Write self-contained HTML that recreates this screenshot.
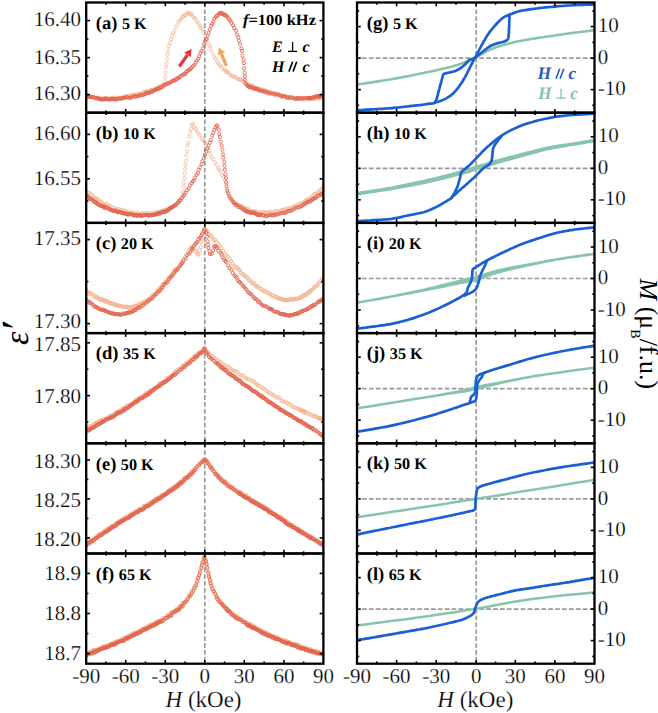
<!DOCTYPE html><html><head><meta charset="utf-8"><style>html,body{margin:0;padding:0;background:#fff;width:658px;height:713px;overflow:hidden}svg{display:block}text{font-family:"Liberation Serif",serif;text-rendering:geometricPrecision}text.th{stroke:#fff;stroke-width:0.22px}</style></head><body>
<svg width="658" height="713" viewBox="0 0 658 713">
<clipPath id="cl0"><rect x="86.2" y="2.5" width="237.2" height="110.2"/></clipPath>
<clipPath id="cr0"><rect x="357.0" y="2.5" width="237.5" height="110.2"/></clipPath>
<clipPath id="cl1"><rect x="86.2" y="112.7" width="237.2" height="110.2"/></clipPath>
<clipPath id="cr1"><rect x="357.0" y="112.7" width="237.5" height="110.2"/></clipPath>
<clipPath id="cl2"><rect x="86.2" y="222.9" width="237.2" height="110.2"/></clipPath>
<clipPath id="cr2"><rect x="357.0" y="222.9" width="237.5" height="110.2"/></clipPath>
<clipPath id="cl3"><rect x="86.2" y="333.1" width="237.2" height="110.2"/></clipPath>
<clipPath id="cr3"><rect x="357.0" y="333.1" width="237.5" height="110.2"/></clipPath>
<clipPath id="cl4"><rect x="86.2" y="443.3" width="237.2" height="110.2"/></clipPath>
<clipPath id="cr4"><rect x="357.0" y="443.3" width="237.5" height="110.2"/></clipPath>
<clipPath id="cl5"><rect x="86.2" y="553.5" width="237.2" height="110.2"/></clipPath>
<clipPath id="cr5"><rect x="357.0" y="553.5" width="237.5" height="110.2"/></clipPath>
<line x1="204.8" y1="2.5" x2="204.8" y2="112.7" stroke="#9a9a9a" stroke-width="1.7" stroke-dasharray="4.7,2.2"/>
<line x1="476.2" y1="2.5" x2="476.2" y2="112.7" stroke="#9a9a9a" stroke-width="1.7" stroke-dasharray="4.7,2.2"/>
<line x1="362.0" y1="58.1" x2="594.5" y2="58.1" stroke="#9a9a9a" stroke-width="1.7" stroke-dasharray="4.7,2.2"/>
<line x1="204.8" y1="112.7" x2="204.8" y2="222.9" stroke="#9a9a9a" stroke-width="1.7" stroke-dasharray="4.7,2.2"/>
<line x1="476.2" y1="112.7" x2="476.2" y2="222.9" stroke="#9a9a9a" stroke-width="1.7" stroke-dasharray="4.7,2.2"/>
<line x1="362.0" y1="168.3" x2="594.5" y2="168.3" stroke="#9a9a9a" stroke-width="1.7" stroke-dasharray="4.7,2.2"/>
<line x1="204.8" y1="222.9" x2="204.8" y2="333.1" stroke="#9a9a9a" stroke-width="1.7" stroke-dasharray="4.7,2.2"/>
<line x1="476.2" y1="222.9" x2="476.2" y2="333.1" stroke="#9a9a9a" stroke-width="1.7" stroke-dasharray="4.7,2.2"/>
<line x1="362.0" y1="278.5" x2="594.5" y2="278.5" stroke="#9a9a9a" stroke-width="1.7" stroke-dasharray="4.7,2.2"/>
<line x1="204.8" y1="333.1" x2="204.8" y2="443.3" stroke="#9a9a9a" stroke-width="1.7" stroke-dasharray="4.7,2.2"/>
<line x1="476.2" y1="333.1" x2="476.2" y2="443.3" stroke="#9a9a9a" stroke-width="1.7" stroke-dasharray="4.7,2.2"/>
<line x1="362.0" y1="388.7" x2="594.5" y2="388.7" stroke="#9a9a9a" stroke-width="1.7" stroke-dasharray="4.7,2.2"/>
<line x1="204.8" y1="443.3" x2="204.8" y2="553.5" stroke="#9a9a9a" stroke-width="1.7" stroke-dasharray="4.7,2.2"/>
<line x1="476.2" y1="443.3" x2="476.2" y2="553.5" stroke="#9a9a9a" stroke-width="1.7" stroke-dasharray="4.7,2.2"/>
<line x1="362.0" y1="498.9" x2="594.5" y2="498.9" stroke="#9a9a9a" stroke-width="1.7" stroke-dasharray="4.7,2.2"/>
<line x1="204.8" y1="553.5" x2="204.8" y2="663.7" stroke="#9a9a9a" stroke-width="1.7" stroke-dasharray="4.7,2.2"/>
<line x1="476.2" y1="553.5" x2="476.2" y2="663.7" stroke="#9a9a9a" stroke-width="1.7" stroke-dasharray="4.7,2.2"/>
<line x1="362.0" y1="609.1" x2="594.5" y2="609.1" stroke="#9a9a9a" stroke-width="1.7" stroke-dasharray="4.7,2.2"/>
<g clip-path="url(#cl0)">
<g fill="none" stroke="#f2b088" stroke-width="0.70">
<circle cx="84.9" cy="94.6" r="1.6"/>
<circle cx="86.8" cy="94.9" r="1.6"/>
<circle cx="88.3" cy="95.6" r="1.6"/>
<circle cx="89.8" cy="96.2" r="1.6"/>
<circle cx="91.8" cy="96.5" r="1.6"/>
<circle cx="93.8" cy="96.4" r="1.6"/>
<circle cx="96.1" cy="97.9" r="1.6"/>
<circle cx="98.0" cy="97.4" r="1.6"/>
<circle cx="100.3" cy="98.7" r="1.6"/>
<circle cx="102.1" cy="98.2" r="1.6"/>
<circle cx="104.0" cy="97.8" r="1.6"/>
<circle cx="105.5" cy="98.3" r="1.6"/>
<circle cx="106.6" cy="98.1" r="1.6"/>
<circle cx="108.2" cy="99.0" r="1.6"/>
<circle cx="109.5" cy="98.7" r="1.6"/>
<circle cx="111.2" cy="98.3" r="1.6"/>
<circle cx="112.6" cy="97.8" r="1.6"/>
<circle cx="113.7" cy="97.9" r="1.6"/>
<circle cx="115.4" cy="98.0" r="1.6"/>
<circle cx="116.7" cy="98.1" r="1.6"/>
<circle cx="118.2" cy="97.5" r="1.6"/>
<circle cx="119.8" cy="97.9" r="1.6"/>
<circle cx="121.0" cy="97.5" r="1.6"/>
<circle cx="122.6" cy="97.6" r="1.6"/>
<circle cx="124.2" cy="96.5" r="1.6"/>
<circle cx="125.7" cy="96.0" r="1.6"/>
<circle cx="126.9" cy="96.6" r="1.6"/>
<circle cx="128.2" cy="95.9" r="1.6"/>
<circle cx="129.6" cy="95.8" r="1.6"/>
<circle cx="131.4" cy="95.4" r="1.6"/>
<circle cx="132.9" cy="94.7" r="1.6"/>
<circle cx="134.3" cy="94.7" r="1.6"/>
<circle cx="135.8" cy="94.2" r="1.6"/>
<circle cx="137.4" cy="94.5" r="1.6"/>
<circle cx="138.7" cy="93.8" r="1.6"/>
<circle cx="140.0" cy="93.5" r="1.6"/>
<circle cx="141.8" cy="93.5" r="1.6"/>
<circle cx="143.4" cy="92.1" r="1.6"/>
<circle cx="144.5" cy="92.3" r="1.6"/>
<circle cx="145.7" cy="91.6" r="1.6"/>
<circle cx="147.1" cy="90.8" r="1.6"/>
<circle cx="148.2" cy="91.3" r="1.6"/>
<circle cx="149.5" cy="90.2" r="1.6"/>
<circle cx="150.9" cy="90.7" r="1.6"/>
<circle cx="151.8" cy="89.7" r="1.6"/>
<circle cx="153.2" cy="90.0" r="1.6"/>
<circle cx="154.4" cy="89.6" r="1.6"/>
<circle cx="155.7" cy="88.4" r="1.6"/>
<circle cx="157.1" cy="88.5" r="1.6"/>
<circle cx="158.7" cy="87.0" r="1.6"/>
<circle cx="159.4" cy="86.6" r="1.6"/>
<circle cx="160.7" cy="86.4" r="1.6"/>
<circle cx="162.0" cy="85.4" r="1.6"/>
<circle cx="163.0" cy="84.6" r="1.6"/>
<circle cx="164.7" cy="81.2" r="1.6"/>
<circle cx="165.5" cy="76.9" r="1.6"/>
<circle cx="165.6" cy="72.5" r="1.6"/>
<circle cx="166.0" cy="67.2" r="1.6"/>
<circle cx="166.6" cy="63.7" r="1.6"/>
<circle cx="167.0" cy="59.4" r="1.6"/>
<circle cx="167.3" cy="54.7" r="1.6"/>
<circle cx="168.0" cy="50.7" r="1.6"/>
<circle cx="168.9" cy="46.2" r="1.6"/>
<circle cx="170.0" cy="42.8" r="1.6"/>
<circle cx="171.1" cy="39.2" r="1.6"/>
<circle cx="172.0" cy="36.0" r="1.6"/>
<circle cx="173.3" cy="33.1" r="1.6"/>
<circle cx="174.4" cy="30.8" r="1.6"/>
<circle cx="176.1" cy="26.9" r="1.6"/>
<circle cx="177.3" cy="24.3" r="1.6"/>
<circle cx="178.7" cy="21.5" r="1.6"/>
<circle cx="180.3" cy="20.7" r="1.6"/>
<circle cx="181.3" cy="18.6" r="1.6"/>
<circle cx="182.2" cy="16.9" r="1.6"/>
<circle cx="183.5" cy="16.1" r="1.6"/>
<circle cx="184.9" cy="14.9" r="1.6"/>
<circle cx="185.7" cy="15.2" r="1.6"/>
<circle cx="187.1" cy="13.3" r="1.6"/>
<circle cx="188.1" cy="12.7" r="1.6"/>
<circle cx="189.2" cy="13.9" r="1.6"/>
<circle cx="190.6" cy="13.8" r="1.6"/>
<circle cx="191.5" cy="14.2" r="1.6"/>
<circle cx="192.7" cy="16.2" r="1.6"/>
<circle cx="194.3" cy="17.9" r="1.6"/>
<circle cx="195.6" cy="19.0" r="1.6"/>
<circle cx="197.2" cy="22.0" r="1.6"/>
<circle cx="198.6" cy="23.7" r="1.6"/>
<circle cx="200.0" cy="25.8" r="1.6"/>
<circle cx="201.1" cy="27.9" r="1.6"/>
<circle cx="202.5" cy="29.5" r="1.6"/>
<circle cx="203.8" cy="32.7" r="1.6"/>
<circle cx="205.4" cy="36.4" r="1.6"/>
<circle cx="207.2" cy="39.4" r="1.6"/>
<circle cx="208.7" cy="44.0" r="1.6"/>
<circle cx="209.9" cy="46.1" r="1.6"/>
<circle cx="210.7" cy="48.9" r="1.6"/>
<circle cx="212.2" cy="52.4" r="1.6"/>
<circle cx="214.0" cy="56.3" r="1.6"/>
<circle cx="215.5" cy="58.4" r="1.6"/>
<circle cx="216.8" cy="61.3" r="1.6"/>
<circle cx="218.0" cy="63.3" r="1.6"/>
<circle cx="219.7" cy="65.1" r="1.6"/>
<circle cx="220.9" cy="66.3" r="1.6"/>
<circle cx="222.1" cy="68.3" r="1.6"/>
<circle cx="223.8" cy="69.8" r="1.6"/>
<circle cx="225.3" cy="70.2" r="1.6"/>
<circle cx="226.1" cy="71.9" r="1.6"/>
<circle cx="227.4" cy="71.7" r="1.6"/>
<circle cx="228.2" cy="72.5" r="1.6"/>
<circle cx="229.7" cy="74.2" r="1.6"/>
<circle cx="230.8" cy="75.4" r="1.6"/>
<circle cx="232.7" cy="76.1" r="1.6"/>
<circle cx="233.8" cy="76.7" r="1.6"/>
<circle cx="235.1" cy="76.6" r="1.6"/>
<circle cx="236.9" cy="78.1" r="1.6"/>
<circle cx="238.0" cy="79.1" r="1.6"/>
<circle cx="239.2" cy="79.6" r="1.6"/>
<circle cx="240.7" cy="79.3" r="1.6"/>
<circle cx="241.6" cy="80.1" r="1.6"/>
<circle cx="242.7" cy="81.2" r="1.6"/>
<circle cx="243.9" cy="81.7" r="1.6"/>
<circle cx="244.9" cy="83.0" r="1.6"/>
<circle cx="246.2" cy="83.1" r="1.6"/>
<circle cx="247.6" cy="84.3" r="1.6"/>
<circle cx="248.9" cy="85.0" r="1.6"/>
<circle cx="250.3" cy="85.1" r="1.6"/>
<circle cx="251.8" cy="85.1" r="1.6"/>
<circle cx="253.2" cy="86.0" r="1.6"/>
<circle cx="254.5" cy="87.5" r="1.6"/>
<circle cx="255.7" cy="87.4" r="1.6"/>
<circle cx="257.0" cy="88.0" r="1.6"/>
<circle cx="257.9" cy="88.3" r="1.6"/>
<circle cx="259.1" cy="89.1" r="1.6"/>
<circle cx="260.0" cy="89.2" r="1.6"/>
<circle cx="261.2" cy="89.1" r="1.6"/>
<circle cx="262.7" cy="89.8" r="1.6"/>
<circle cx="263.7" cy="90.5" r="1.6"/>
<circle cx="265.1" cy="90.4" r="1.6"/>
<circle cx="266.2" cy="90.9" r="1.6"/>
<circle cx="267.4" cy="91.5" r="1.6"/>
<circle cx="268.6" cy="91.7" r="1.6"/>
<circle cx="270.0" cy="92.6" r="1.6"/>
<circle cx="271.5" cy="92.9" r="1.6"/>
<circle cx="273.1" cy="92.5" r="1.6"/>
<circle cx="274.3" cy="93.9" r="1.6"/>
<circle cx="276.0" cy="93.2" r="1.6"/>
<circle cx="277.1" cy="94.1" r="1.6"/>
<circle cx="278.6" cy="94.2" r="1.6"/>
<circle cx="280.2" cy="95.3" r="1.6"/>
<circle cx="282.1" cy="96.0" r="1.6"/>
<circle cx="283.3" cy="96.1" r="1.6"/>
<circle cx="285.1" cy="95.7" r="1.6"/>
<circle cx="286.7" cy="97.2" r="1.6"/>
<circle cx="287.8" cy="97.5" r="1.6"/>
<circle cx="289.4" cy="97.2" r="1.6"/>
<circle cx="291.3" cy="98.0" r="1.6"/>
<circle cx="292.3" cy="97.7" r="1.6"/>
<circle cx="294.0" cy="97.8" r="1.6"/>
<circle cx="295.3" cy="98.0" r="1.6"/>
<circle cx="297.1" cy="97.8" r="1.6"/>
<circle cx="298.5" cy="98.6" r="1.6"/>
<circle cx="299.7" cy="98.6" r="1.6"/>
<circle cx="301.6" cy="98.9" r="1.6"/>
<circle cx="302.8" cy="99.6" r="1.6"/>
<circle cx="304.8" cy="99.6" r="1.6"/>
<circle cx="306.0" cy="98.6" r="1.6"/>
<circle cx="307.6" cy="99.2" r="1.6"/>
<circle cx="309.2" cy="98.2" r="1.6"/>
<circle cx="310.8" cy="99.2" r="1.6"/>
<circle cx="312.5" cy="98.2" r="1.6"/>
<circle cx="313.5" cy="99.0" r="1.6"/>
<circle cx="315.0" cy="98.6" r="1.6"/>
<circle cx="316.0" cy="97.6" r="1.6"/>
<circle cx="317.6" cy="97.9" r="1.6"/>
<circle cx="318.4" cy="98.4" r="1.6"/>
<circle cx="319.9" cy="98.0" r="1.6"/>
<circle cx="320.7" cy="97.9" r="1.6"/>
<circle cx="322.2" cy="97.6" r="1.6"/>
<circle cx="323.7" cy="96.6" r="1.6"/>
<circle cx="325.0" cy="97.2" r="1.6"/>
</g>
<g fill="none" stroke="#e2604a" stroke-width="0.85">
<circle cx="84.9" cy="95.8" r="1.6"/>
<circle cx="86.1" cy="96.1" r="1.6"/>
<circle cx="86.7" cy="96.2" r="1.6"/>
<circle cx="87.8" cy="96.5" r="1.6"/>
<circle cx="89.1" cy="96.9" r="1.6"/>
<circle cx="90.5" cy="97.1" r="1.6"/>
<circle cx="91.6" cy="97.2" r="1.6"/>
<circle cx="92.8" cy="97.2" r="1.6"/>
<circle cx="94.0" cy="97.5" r="1.6"/>
<circle cx="95.5" cy="98.4" r="1.6"/>
<circle cx="96.3" cy="98.4" r="1.6"/>
<circle cx="97.8" cy="98.0" r="1.6"/>
<circle cx="98.8" cy="98.6" r="1.6"/>
<circle cx="99.7" cy="99.3" r="1.6"/>
<circle cx="100.8" cy="98.9" r="1.6"/>
<circle cx="102.1" cy="99.6" r="1.6"/>
<circle cx="103.0" cy="99.4" r="1.6"/>
<circle cx="104.3" cy="99.2" r="1.6"/>
<circle cx="105.2" cy="98.8" r="1.6"/>
<circle cx="106.1" cy="98.6" r="1.6"/>
<circle cx="107.2" cy="99.4" r="1.6"/>
<circle cx="108.4" cy="98.6" r="1.6"/>
<circle cx="109.4" cy="99.6" r="1.6"/>
<circle cx="110.9" cy="99.4" r="1.6"/>
<circle cx="111.6" cy="98.7" r="1.6"/>
<circle cx="112.7" cy="99.0" r="1.6"/>
<circle cx="113.7" cy="99.0" r="1.6"/>
<circle cx="114.8" cy="99.6" r="1.6"/>
<circle cx="116.3" cy="99.0" r="1.6"/>
<circle cx="117.1" cy="99.5" r="1.6"/>
<circle cx="118.3" cy="98.6" r="1.6"/>
<circle cx="119.3" cy="98.5" r="1.6"/>
<circle cx="120.9" cy="98.6" r="1.6"/>
<circle cx="122.0" cy="98.4" r="1.6"/>
<circle cx="123.2" cy="98.0" r="1.6"/>
<circle cx="124.5" cy="98.0" r="1.6"/>
<circle cx="125.8" cy="97.3" r="1.6"/>
<circle cx="127.2" cy="97.4" r="1.6"/>
<circle cx="128.7" cy="97.7" r="1.6"/>
<circle cx="130.1" cy="97.6" r="1.6"/>
<circle cx="131.4" cy="97.7" r="1.6"/>
<circle cx="132.5" cy="96.7" r="1.6"/>
<circle cx="134.1" cy="96.2" r="1.6"/>
<circle cx="135.3" cy="96.6" r="1.6"/>
<circle cx="136.2" cy="96.5" r="1.6"/>
<circle cx="138.0" cy="95.9" r="1.6"/>
<circle cx="139.2" cy="95.8" r="1.6"/>
<circle cx="140.1" cy="95.1" r="1.6"/>
<circle cx="141.6" cy="95.2" r="1.6"/>
<circle cx="143.0" cy="94.8" r="1.6"/>
<circle cx="144.0" cy="94.6" r="1.6"/>
<circle cx="145.2" cy="94.0" r="1.6"/>
<circle cx="146.1" cy="92.7" r="1.6"/>
<circle cx="147.2" cy="92.9" r="1.6"/>
<circle cx="148.2" cy="93.2" r="1.6"/>
<circle cx="149.5" cy="92.6" r="1.6"/>
<circle cx="150.6" cy="92.3" r="1.6"/>
<circle cx="151.6" cy="90.9" r="1.6"/>
<circle cx="152.8" cy="91.6" r="1.6"/>
<circle cx="153.8" cy="90.9" r="1.6"/>
<circle cx="154.9" cy="89.8" r="1.6"/>
<circle cx="156.1" cy="89.5" r="1.6"/>
<circle cx="156.8" cy="89.0" r="1.6"/>
<circle cx="158.2" cy="88.4" r="1.6"/>
<circle cx="159.3" cy="88.9" r="1.6"/>
<circle cx="160.3" cy="87.6" r="1.6"/>
<circle cx="161.4" cy="87.4" r="1.6"/>
<circle cx="162.6" cy="86.7" r="1.6"/>
<circle cx="163.6" cy="85.4" r="1.6"/>
<circle cx="164.5" cy="85.0" r="1.6"/>
<circle cx="165.9" cy="84.5" r="1.6"/>
<circle cx="166.9" cy="83.6" r="1.6"/>
<circle cx="167.7" cy="83.3" r="1.6"/>
<circle cx="169.2" cy="83.4" r="1.6"/>
<circle cx="170.3" cy="82.2" r="1.6"/>
<circle cx="171.3" cy="81.9" r="1.6"/>
<circle cx="172.3" cy="80.8" r="1.6"/>
<circle cx="173.7" cy="80.3" r="1.6"/>
<circle cx="174.8" cy="80.7" r="1.6"/>
<circle cx="175.4" cy="79.4" r="1.6"/>
<circle cx="176.9" cy="79.4" r="1.6"/>
<circle cx="177.8" cy="77.8" r="1.6"/>
<circle cx="178.8" cy="78.0" r="1.6"/>
<circle cx="179.9" cy="76.8" r="1.6"/>
<circle cx="181.0" cy="76.0" r="1.6"/>
<circle cx="182.6" cy="74.7" r="1.6"/>
<circle cx="183.6" cy="74.5" r="1.6"/>
<circle cx="184.7" cy="74.0" r="1.6"/>
<circle cx="185.3" cy="73.6" r="1.6"/>
<circle cx="186.4" cy="71.6" r="1.6"/>
<circle cx="187.1" cy="71.5" r="1.6"/>
<circle cx="188.2" cy="70.5" r="1.6"/>
<circle cx="189.3" cy="69.5" r="1.6"/>
<circle cx="190.5" cy="69.2" r="1.6"/>
<circle cx="191.4" cy="67.9" r="1.6"/>
<circle cx="193.0" cy="65.9" r="1.6"/>
<circle cx="194.4" cy="65.0" r="1.6"/>
<circle cx="195.7" cy="62.6" r="1.6"/>
<circle cx="196.7" cy="60.7" r="1.6"/>
<circle cx="198.3" cy="58.8" r="1.6"/>
<circle cx="199.1" cy="56.3" r="1.6"/>
<circle cx="200.5" cy="53.0" r="1.6"/>
<circle cx="201.6" cy="51.1" r="1.6"/>
<circle cx="202.9" cy="48.3" r="1.6"/>
<circle cx="204.0" cy="44.2" r="1.6"/>
<circle cx="205.2" cy="41.1" r="1.6"/>
<circle cx="206.3" cy="39.0" r="1.6"/>
<circle cx="207.7" cy="35.7" r="1.6"/>
<circle cx="208.6" cy="32.8" r="1.6"/>
<circle cx="209.9" cy="29.4" r="1.6"/>
<circle cx="211.0" cy="25.9" r="1.6"/>
<circle cx="212.1" cy="23.8" r="1.6"/>
<circle cx="213.3" cy="21.7" r="1.6"/>
<circle cx="214.2" cy="18.8" r="1.6"/>
<circle cx="215.7" cy="17.1" r="1.6"/>
<circle cx="216.6" cy="16.0" r="1.6"/>
<circle cx="217.7" cy="15.3" r="1.6"/>
<circle cx="219.1" cy="13.8" r="1.6"/>
<circle cx="219.7" cy="13.2" r="1.6"/>
<circle cx="220.5" cy="13.1" r="1.6"/>
<circle cx="221.2" cy="12.8" r="1.6"/>
<circle cx="222.1" cy="14.1" r="1.6"/>
<circle cx="223.1" cy="13.6" r="1.6"/>
<circle cx="224.3" cy="15.2" r="1.6"/>
<circle cx="225.0" cy="14.7" r="1.6"/>
<circle cx="225.8" cy="15.4" r="1.6"/>
<circle cx="226.8" cy="16.2" r="1.6"/>
<circle cx="227.9" cy="17.6" r="1.6"/>
<circle cx="229.2" cy="19.7" r="1.6"/>
<circle cx="230.5" cy="20.6" r="1.6"/>
<circle cx="231.6" cy="22.9" r="1.6"/>
<circle cx="233.0" cy="25.2" r="1.6"/>
<circle cx="234.2" cy="28.0" r="1.6"/>
<circle cx="236.0" cy="30.8" r="1.6"/>
<circle cx="236.9" cy="34.6" r="1.6"/>
<circle cx="238.3" cy="37.2" r="1.6"/>
<circle cx="239.0" cy="40.6" r="1.6"/>
<circle cx="240.1" cy="44.3" r="1.6"/>
<circle cx="241.4" cy="48.6" r="1.6"/>
<circle cx="242.2" cy="51.1" r="1.6"/>
<circle cx="242.5" cy="55.7" r="1.6"/>
<circle cx="243.5" cy="59.6" r="1.6"/>
<circle cx="243.8" cy="63.2" r="1.6"/>
<circle cx="244.0" cy="68.5" r="1.6"/>
<circle cx="244.6" cy="72.8" r="1.6"/>
<circle cx="245.0" cy="76.3" r="1.6"/>
<circle cx="244.9" cy="79.9" r="1.6"/>
<circle cx="245.7" cy="83.7" r="1.6"/>
<circle cx="246.9" cy="85.0" r="1.6"/>
<circle cx="247.6" cy="85.8" r="1.6"/>
<circle cx="248.5" cy="86.2" r="1.6"/>
<circle cx="249.2" cy="86.9" r="1.6"/>
<circle cx="250.3" cy="87.6" r="1.6"/>
<circle cx="251.7" cy="87.2" r="1.6"/>
<circle cx="252.2" cy="87.5" r="1.6"/>
<circle cx="253.4" cy="88.4" r="1.6"/>
<circle cx="254.0" cy="87.9" r="1.6"/>
<circle cx="255.2" cy="89.0" r="1.6"/>
<circle cx="256.2" cy="88.9" r="1.6"/>
<circle cx="257.4" cy="88.9" r="1.6"/>
<circle cx="258.4" cy="90.0" r="1.6"/>
<circle cx="259.9" cy="90.6" r="1.6"/>
<circle cx="261.1" cy="90.7" r="1.6"/>
<circle cx="262.0" cy="90.8" r="1.6"/>
<circle cx="263.7" cy="91.8" r="1.6"/>
<circle cx="264.6" cy="91.2" r="1.6"/>
<circle cx="266.1" cy="92.5" r="1.6"/>
<circle cx="267.5" cy="92.3" r="1.6"/>
<circle cx="269.1" cy="93.6" r="1.6"/>
<circle cx="270.3" cy="92.7" r="1.6"/>
<circle cx="271.9" cy="93.6" r="1.6"/>
<circle cx="273.6" cy="93.7" r="1.6"/>
<circle cx="275.2" cy="94.8" r="1.6"/>
<circle cx="276.5" cy="94.4" r="1.6"/>
<circle cx="278.3" cy="94.8" r="1.6"/>
<circle cx="279.6" cy="95.0" r="1.6"/>
<circle cx="280.7" cy="96.1" r="1.6"/>
<circle cx="282.2" cy="96.7" r="1.6"/>
<circle cx="283.8" cy="96.0" r="1.6"/>
<circle cx="285.1" cy="96.6" r="1.6"/>
<circle cx="286.8" cy="97.6" r="1.6"/>
<circle cx="287.9" cy="97.1" r="1.6"/>
<circle cx="289.4" cy="98.2" r="1.6"/>
<circle cx="290.8" cy="97.1" r="1.6"/>
<circle cx="292.3" cy="97.8" r="1.6"/>
<circle cx="294.2" cy="98.6" r="1.6"/>
<circle cx="295.5" cy="98.9" r="1.6"/>
<circle cx="297.0" cy="98.1" r="1.6"/>
<circle cx="298.0" cy="99.1" r="1.6"/>
<circle cx="299.7" cy="97.9" r="1.6"/>
<circle cx="301.1" cy="98.4" r="1.6"/>
<circle cx="302.4" cy="98.4" r="1.6"/>
<circle cx="303.8" cy="97.9" r="1.6"/>
<circle cx="305.4" cy="98.3" r="1.6"/>
<circle cx="307.4" cy="97.9" r="1.6"/>
<circle cx="308.2" cy="97.9" r="1.6"/>
<circle cx="308.8" cy="98.7" r="1.6"/>
<circle cx="310.0" cy="98.0" r="1.6"/>
<circle cx="310.5" cy="97.9" r="1.6"/>
<circle cx="311.7" cy="98.4" r="1.6"/>
<circle cx="312.6" cy="97.4" r="1.6"/>
<circle cx="314.1" cy="96.7" r="1.6"/>
<circle cx="314.8" cy="97.6" r="1.6"/>
<circle cx="316.1" cy="96.3" r="1.6"/>
<circle cx="316.7" cy="96.2" r="1.6"/>
<circle cx="318.2" cy="96.2" r="1.6"/>
<circle cx="319.1" cy="96.9" r="1.6"/>
<circle cx="319.8" cy="95.8" r="1.6"/>
<circle cx="321.1" cy="96.1" r="1.6"/>
<circle cx="321.6" cy="96.1" r="1.6"/>
<circle cx="322.4" cy="95.3" r="1.6"/>
<circle cx="323.6" cy="95.7" r="1.6"/>
<circle cx="325.2" cy="95.3" r="1.6"/>
</g>
</g>
<g clip-path="url(#cl1)">
<g fill="none" stroke="#f2b088" stroke-width="0.70">
<circle cx="85.2" cy="189.3" r="1.6"/>
<circle cx="86.1" cy="190.9" r="1.6"/>
<circle cx="87.7" cy="192.6" r="1.6"/>
<circle cx="88.9" cy="192.8" r="1.6"/>
<circle cx="90.4" cy="194.3" r="1.6"/>
<circle cx="92.3" cy="195.1" r="1.6"/>
<circle cx="93.7" cy="197.0" r="1.6"/>
<circle cx="95.1" cy="198.0" r="1.6"/>
<circle cx="96.1" cy="198.3" r="1.6"/>
<circle cx="97.1" cy="199.2" r="1.6"/>
<circle cx="98.6" cy="199.7" r="1.6"/>
<circle cx="99.6" cy="201.5" r="1.6"/>
<circle cx="101.2" cy="201.4" r="1.6"/>
<circle cx="102.3" cy="202.7" r="1.6"/>
<circle cx="103.8" cy="204.0" r="1.6"/>
<circle cx="105.7" cy="204.7" r="1.6"/>
<circle cx="107.0" cy="204.2" r="1.6"/>
<circle cx="108.7" cy="205.6" r="1.6"/>
<circle cx="110.9" cy="206.3" r="1.6"/>
<circle cx="112.6" cy="207.1" r="1.6"/>
<circle cx="114.8" cy="208.2" r="1.6"/>
<circle cx="116.9" cy="209.1" r="1.6"/>
<circle cx="118.8" cy="208.8" r="1.6"/>
<circle cx="120.8" cy="209.6" r="1.6"/>
<circle cx="122.4" cy="210.3" r="1.6"/>
<circle cx="124.4" cy="210.5" r="1.6"/>
<circle cx="125.9" cy="211.0" r="1.6"/>
<circle cx="127.7" cy="212.3" r="1.6"/>
<circle cx="129.7" cy="211.9" r="1.6"/>
<circle cx="131.5" cy="213.1" r="1.6"/>
<circle cx="133.3" cy="212.3" r="1.6"/>
<circle cx="135.3" cy="213.1" r="1.6"/>
<circle cx="137.2" cy="212.5" r="1.6"/>
<circle cx="138.8" cy="213.7" r="1.6"/>
<circle cx="140.8" cy="213.9" r="1.6"/>
<circle cx="142.2" cy="213.1" r="1.6"/>
<circle cx="144.2" cy="213.0" r="1.6"/>
<circle cx="146.6" cy="213.5" r="1.6"/>
<circle cx="148.5" cy="213.1" r="1.6"/>
<circle cx="150.4" cy="213.1" r="1.6"/>
<circle cx="151.9" cy="213.4" r="1.6"/>
<circle cx="154.1" cy="212.3" r="1.6"/>
<circle cx="155.6" cy="212.8" r="1.6"/>
<circle cx="157.1" cy="212.2" r="1.6"/>
<circle cx="158.5" cy="211.7" r="1.6"/>
<circle cx="160.0" cy="212.0" r="1.6"/>
<circle cx="161.6" cy="211.1" r="1.6"/>
<circle cx="162.5" cy="210.9" r="1.6"/>
<circle cx="164.0" cy="210.3" r="1.6"/>
<circle cx="165.0" cy="209.9" r="1.6"/>
<circle cx="166.4" cy="209.9" r="1.6"/>
<circle cx="167.0" cy="208.8" r="1.6"/>
<circle cx="168.3" cy="208.9" r="1.6"/>
<circle cx="169.5" cy="207.7" r="1.6"/>
<circle cx="170.4" cy="208.0" r="1.6"/>
<circle cx="171.6" cy="206.9" r="1.6"/>
<circle cx="172.7" cy="207.3" r="1.6"/>
<circle cx="173.8" cy="206.2" r="1.6"/>
<circle cx="174.9" cy="205.4" r="1.6"/>
<circle cx="176.3" cy="205.5" r="1.6"/>
<circle cx="177.5" cy="203.3" r="1.6"/>
<circle cx="179.0" cy="202.1" r="1.6"/>
<circle cx="180.3" cy="200.4" r="1.6"/>
<circle cx="181.9" cy="196.6" r="1.6"/>
<circle cx="182.7" cy="192.1" r="1.6"/>
<circle cx="183.3" cy="186.5" r="1.6"/>
<circle cx="183.7" cy="182.7" r="1.6"/>
<circle cx="184.5" cy="178.1" r="1.6"/>
<circle cx="184.6" cy="173.6" r="1.6"/>
<circle cx="185.1" cy="169.2" r="1.6"/>
<circle cx="185.3" cy="164.8" r="1.6"/>
<circle cx="186.0" cy="160.6" r="1.6"/>
<circle cx="186.3" cy="155.2" r="1.6"/>
<circle cx="187.3" cy="151.2" r="1.6"/>
<circle cx="187.6" cy="145.5" r="1.6"/>
<circle cx="188.6" cy="142.5" r="1.6"/>
<circle cx="189.2" cy="136.5" r="1.6"/>
<circle cx="190.2" cy="132.6" r="1.6"/>
<circle cx="191.1" cy="129.0" r="1.6"/>
<circle cx="192.1" cy="125.0" r="1.6"/>
<circle cx="193.0" cy="123.7" r="1.6"/>
<circle cx="194.2" cy="127.3" r="1.6"/>
<circle cx="195.7" cy="128.6" r="1.6"/>
<circle cx="196.9" cy="131.1" r="1.6"/>
<circle cx="198.4" cy="133.1" r="1.6"/>
<circle cx="199.7" cy="135.1" r="1.6"/>
<circle cx="201.7" cy="138.3" r="1.6"/>
<circle cx="202.8" cy="140.2" r="1.6"/>
<circle cx="204.5" cy="141.6" r="1.6"/>
<circle cx="206.1" cy="144.3" r="1.6"/>
<circle cx="207.5" cy="147.9" r="1.6"/>
<circle cx="208.9" cy="150.6" r="1.6"/>
<circle cx="210.3" cy="154.0" r="1.6"/>
<circle cx="211.7" cy="156.8" r="1.6"/>
<circle cx="213.2" cy="159.3" r="1.6"/>
<circle cx="214.6" cy="162.4" r="1.6"/>
<circle cx="216.5" cy="164.7" r="1.6"/>
<circle cx="218.1" cy="168.2" r="1.6"/>
<circle cx="219.4" cy="169.8" r="1.6"/>
<circle cx="220.7" cy="171.9" r="1.6"/>
<circle cx="222.1" cy="174.8" r="1.6"/>
<circle cx="223.5" cy="177.5" r="1.6"/>
<circle cx="225.0" cy="179.9" r="1.6"/>
<circle cx="226.2" cy="183.7" r="1.6"/>
<circle cx="227.1" cy="188.7" r="1.6"/>
<circle cx="227.9" cy="191.5" r="1.6"/>
<circle cx="228.9" cy="195.1" r="1.6"/>
<circle cx="230.5" cy="197.3" r="1.6"/>
<circle cx="231.7" cy="200.2" r="1.6"/>
<circle cx="232.9" cy="201.2" r="1.6"/>
<circle cx="234.0" cy="202.7" r="1.6"/>
<circle cx="235.5" cy="203.7" r="1.6"/>
<circle cx="237.2" cy="203.6" r="1.6"/>
<circle cx="238.7" cy="205.7" r="1.6"/>
<circle cx="239.4" cy="205.6" r="1.6"/>
<circle cx="240.9" cy="205.9" r="1.6"/>
<circle cx="242.2" cy="206.7" r="1.6"/>
<circle cx="243.4" cy="207.1" r="1.6"/>
<circle cx="244.5" cy="208.7" r="1.6"/>
<circle cx="245.6" cy="208.3" r="1.6"/>
<circle cx="247.1" cy="208.9" r="1.6"/>
<circle cx="248.2" cy="209.1" r="1.6"/>
<circle cx="249.7" cy="210.6" r="1.6"/>
<circle cx="251.5" cy="211.0" r="1.6"/>
<circle cx="252.7" cy="211.2" r="1.6"/>
<circle cx="254.2" cy="211.2" r="1.6"/>
<circle cx="256.0" cy="211.2" r="1.6"/>
<circle cx="257.7" cy="211.8" r="1.6"/>
<circle cx="259.0" cy="212.4" r="1.6"/>
<circle cx="260.2" cy="212.8" r="1.6"/>
<circle cx="262.0" cy="212.1" r="1.6"/>
<circle cx="263.5" cy="212.0" r="1.6"/>
<circle cx="265.1" cy="212.5" r="1.6"/>
<circle cx="266.2" cy="212.8" r="1.6"/>
<circle cx="267.7" cy="212.0" r="1.6"/>
<circle cx="269.3" cy="211.8" r="1.6"/>
<circle cx="270.8" cy="212.0" r="1.6"/>
<circle cx="272.2" cy="212.9" r="1.6"/>
<circle cx="273.6" cy="212.3" r="1.6"/>
<circle cx="274.9" cy="211.2" r="1.6"/>
<circle cx="276.2" cy="211.2" r="1.6"/>
<circle cx="278.0" cy="211.3" r="1.6"/>
<circle cx="279.4" cy="211.7" r="1.6"/>
<circle cx="280.7" cy="210.4" r="1.6"/>
<circle cx="282.4" cy="209.7" r="1.6"/>
<circle cx="283.5" cy="209.8" r="1.6"/>
<circle cx="285.0" cy="209.4" r="1.6"/>
<circle cx="286.6" cy="209.2" r="1.6"/>
<circle cx="288.2" cy="208.2" r="1.6"/>
<circle cx="289.7" cy="208.1" r="1.6"/>
<circle cx="290.9" cy="208.2" r="1.6"/>
<circle cx="292.5" cy="206.5" r="1.6"/>
<circle cx="293.9" cy="206.6" r="1.6"/>
<circle cx="295.9" cy="206.2" r="1.6"/>
<circle cx="297.1" cy="204.8" r="1.6"/>
<circle cx="298.4" cy="204.6" r="1.6"/>
<circle cx="300.1" cy="203.5" r="1.6"/>
<circle cx="301.6" cy="203.0" r="1.6"/>
<circle cx="303.1" cy="202.7" r="1.6"/>
<circle cx="304.0" cy="202.2" r="1.6"/>
<circle cx="305.1" cy="201.0" r="1.6"/>
<circle cx="306.4" cy="199.9" r="1.6"/>
<circle cx="307.4" cy="199.9" r="1.6"/>
<circle cx="308.4" cy="198.9" r="1.6"/>
<circle cx="310.5" cy="197.2" r="1.6"/>
<circle cx="311.6" cy="196.8" r="1.6"/>
<circle cx="313.3" cy="195.7" r="1.6"/>
<circle cx="314.6" cy="194.2" r="1.6"/>
<circle cx="315.4" cy="193.6" r="1.6"/>
<circle cx="316.5" cy="193.5" r="1.6"/>
<circle cx="318.1" cy="192.3" r="1.6"/>
<circle cx="318.9" cy="191.6" r="1.6"/>
<circle cx="320.5" cy="190.1" r="1.6"/>
<circle cx="321.7" cy="189.2" r="1.6"/>
<circle cx="322.9" cy="187.4" r="1.6"/>
<circle cx="324.2" cy="186.3" r="1.6"/>
</g>
<g fill="none" stroke="#e2604a" stroke-width="0.85">
<circle cx="84.9" cy="195.3" r="1.6"/>
<circle cx="86.0" cy="196.1" r="1.6"/>
<circle cx="87.2" cy="196.2" r="1.6"/>
<circle cx="88.0" cy="197.1" r="1.6"/>
<circle cx="89.1" cy="198.0" r="1.6"/>
<circle cx="89.9" cy="198.9" r="1.6"/>
<circle cx="91.3" cy="199.1" r="1.6"/>
<circle cx="92.3" cy="199.5" r="1.6"/>
<circle cx="93.0" cy="200.5" r="1.6"/>
<circle cx="94.2" cy="202.1" r="1.6"/>
<circle cx="95.1" cy="201.8" r="1.6"/>
<circle cx="96.1" cy="202.4" r="1.6"/>
<circle cx="96.7" cy="203.7" r="1.6"/>
<circle cx="97.8" cy="203.9" r="1.6"/>
<circle cx="98.7" cy="204.9" r="1.6"/>
<circle cx="99.5" cy="205.2" r="1.6"/>
<circle cx="100.6" cy="205.7" r="1.6"/>
<circle cx="101.3" cy="205.9" r="1.6"/>
<circle cx="102.3" cy="205.8" r="1.6"/>
<circle cx="103.0" cy="206.7" r="1.6"/>
<circle cx="103.9" cy="207.5" r="1.6"/>
<circle cx="104.8" cy="206.6" r="1.6"/>
<circle cx="105.7" cy="208.3" r="1.6"/>
<circle cx="106.8" cy="207.5" r="1.6"/>
<circle cx="107.5" cy="207.7" r="1.6"/>
<circle cx="108.8" cy="208.9" r="1.6"/>
<circle cx="109.8" cy="209.4" r="1.6"/>
<circle cx="110.3" cy="209.5" r="1.6"/>
<circle cx="111.4" cy="210.1" r="1.6"/>
<circle cx="112.6" cy="210.5" r="1.6"/>
<circle cx="113.1" cy="210.8" r="1.6"/>
<circle cx="114.5" cy="211.2" r="1.6"/>
<circle cx="114.9" cy="210.5" r="1.6"/>
<circle cx="115.8" cy="210.6" r="1.6"/>
<circle cx="117.2" cy="211.9" r="1.6"/>
<circle cx="117.9" cy="212.2" r="1.6"/>
<circle cx="118.8" cy="211.8" r="1.6"/>
<circle cx="119.5" cy="211.8" r="1.6"/>
<circle cx="120.7" cy="212.2" r="1.6"/>
<circle cx="121.4" cy="212.7" r="1.6"/>
<circle cx="122.1" cy="212.7" r="1.6"/>
<circle cx="123.2" cy="213.5" r="1.6"/>
<circle cx="124.2" cy="213.2" r="1.6"/>
<circle cx="125.4" cy="213.6" r="1.6"/>
<circle cx="126.2" cy="213.9" r="1.6"/>
<circle cx="126.7" cy="213.8" r="1.6"/>
<circle cx="127.8" cy="214.5" r="1.6"/>
<circle cx="128.7" cy="214.5" r="1.6"/>
<circle cx="129.7" cy="214.0" r="1.6"/>
<circle cx="130.8" cy="213.9" r="1.6"/>
<circle cx="131.7" cy="214.2" r="1.6"/>
<circle cx="132.1" cy="214.3" r="1.6"/>
<circle cx="133.5" cy="215.5" r="1.6"/>
<circle cx="134.0" cy="214.9" r="1.6"/>
<circle cx="135.1" cy="215.4" r="1.6"/>
<circle cx="135.9" cy="215.1" r="1.6"/>
<circle cx="136.9" cy="215.6" r="1.6"/>
<circle cx="137.7" cy="215.8" r="1.6"/>
<circle cx="138.7" cy="214.9" r="1.6"/>
<circle cx="139.8" cy="215.3" r="1.6"/>
<circle cx="140.4" cy="215.5" r="1.6"/>
<circle cx="141.3" cy="215.8" r="1.6"/>
<circle cx="142.5" cy="215.8" r="1.6"/>
<circle cx="143.4" cy="215.2" r="1.6"/>
<circle cx="144.2" cy="215.2" r="1.6"/>
<circle cx="145.4" cy="214.8" r="1.6"/>
<circle cx="146.3" cy="214.7" r="1.6"/>
<circle cx="146.8" cy="215.0" r="1.6"/>
<circle cx="148.1" cy="215.3" r="1.6"/>
<circle cx="148.7" cy="215.7" r="1.6"/>
<circle cx="149.6" cy="215.1" r="1.6"/>
<circle cx="150.7" cy="215.4" r="1.6"/>
<circle cx="151.7" cy="215.1" r="1.6"/>
<circle cx="152.4" cy="214.6" r="1.6"/>
<circle cx="153.2" cy="215.2" r="1.6"/>
<circle cx="154.4" cy="214.9" r="1.6"/>
<circle cx="155.1" cy="214.3" r="1.6"/>
<circle cx="156.3" cy="214.3" r="1.6"/>
<circle cx="156.9" cy="214.0" r="1.6"/>
<circle cx="158.2" cy="213.4" r="1.6"/>
<circle cx="158.7" cy="213.3" r="1.6"/>
<circle cx="159.9" cy="213.8" r="1.6"/>
<circle cx="160.5" cy="212.6" r="1.6"/>
<circle cx="161.5" cy="212.5" r="1.6"/>
<circle cx="162.6" cy="212.0" r="1.6"/>
<circle cx="163.4" cy="211.7" r="1.6"/>
<circle cx="164.6" cy="212.1" r="1.6"/>
<circle cx="165.1" cy="212.0" r="1.6"/>
<circle cx="166.0" cy="210.8" r="1.6"/>
<circle cx="167.4" cy="210.9" r="1.6"/>
<circle cx="168.1" cy="209.9" r="1.6"/>
<circle cx="168.8" cy="209.6" r="1.6"/>
<circle cx="169.7" cy="208.4" r="1.6"/>
<circle cx="170.8" cy="207.6" r="1.6"/>
<circle cx="171.7" cy="208.0" r="1.6"/>
<circle cx="172.8" cy="206.9" r="1.6"/>
<circle cx="173.7" cy="206.1" r="1.6"/>
<circle cx="174.3" cy="205.6" r="1.6"/>
<circle cx="175.7" cy="204.7" r="1.6"/>
<circle cx="177.2" cy="203.1" r="1.6"/>
<circle cx="178.2" cy="202.4" r="1.6"/>
<circle cx="179.2" cy="200.5" r="1.6"/>
<circle cx="180.4" cy="200.1" r="1.6"/>
<circle cx="181.9" cy="198.1" r="1.6"/>
<circle cx="183.3" cy="196.2" r="1.6"/>
<circle cx="184.3" cy="194.5" r="1.6"/>
<circle cx="185.6" cy="192.6" r="1.6"/>
<circle cx="186.9" cy="190.2" r="1.6"/>
<circle cx="188.8" cy="188.4" r="1.6"/>
<circle cx="190.1" cy="185.4" r="1.6"/>
<circle cx="191.5" cy="183.3" r="1.6"/>
<circle cx="192.7" cy="181.4" r="1.6"/>
<circle cx="193.9" cy="180.2" r="1.6"/>
<circle cx="194.8" cy="177.8" r="1.6"/>
<circle cx="196.6" cy="174.8" r="1.6"/>
<circle cx="197.8" cy="173.1" r="1.6"/>
<circle cx="198.7" cy="170.0" r="1.6"/>
<circle cx="200.0" cy="167.5" r="1.6"/>
<circle cx="201.6" cy="164.2" r="1.6"/>
<circle cx="202.3" cy="161.3" r="1.6"/>
<circle cx="203.8" cy="158.4" r="1.6"/>
<circle cx="205.0" cy="154.9" r="1.6"/>
<circle cx="206.4" cy="151.4" r="1.6"/>
<circle cx="207.4" cy="148.8" r="1.6"/>
<circle cx="208.4" cy="145.6" r="1.6"/>
<circle cx="209.7" cy="142.7" r="1.6"/>
<circle cx="210.7" cy="140.2" r="1.6"/>
<circle cx="212.2" cy="135.8" r="1.6"/>
<circle cx="213.4" cy="132.9" r="1.6"/>
<circle cx="214.4" cy="129.9" r="1.6"/>
<circle cx="215.7" cy="127.7" r="1.6"/>
<circle cx="216.6" cy="125.5" r="1.6"/>
<circle cx="217.3" cy="125.9" r="1.6"/>
<circle cx="218.9" cy="129.5" r="1.6"/>
<circle cx="219.2" cy="134.0" r="1.6"/>
<circle cx="220.0" cy="137.0" r="1.6"/>
<circle cx="220.6" cy="141.6" r="1.6"/>
<circle cx="221.8" cy="145.5" r="1.6"/>
<circle cx="222.4" cy="149.6" r="1.6"/>
<circle cx="222.9" cy="154.3" r="1.6"/>
<circle cx="223.5" cy="157.6" r="1.6"/>
<circle cx="224.2" cy="161.7" r="1.6"/>
<circle cx="224.4" cy="165.6" r="1.6"/>
<circle cx="224.9" cy="169.8" r="1.6"/>
<circle cx="225.5" cy="174.2" r="1.6"/>
<circle cx="225.9" cy="178.0" r="1.6"/>
<circle cx="226.1" cy="182.4" r="1.6"/>
<circle cx="226.7" cy="186.3" r="1.6"/>
<circle cx="227.2" cy="190.7" r="1.6"/>
<circle cx="228.2" cy="193.4" r="1.6"/>
<circle cx="229.2" cy="196.3" r="1.6"/>
<circle cx="230.5" cy="198.6" r="1.6"/>
<circle cx="231.8" cy="199.8" r="1.6"/>
<circle cx="233.3" cy="202.1" r="1.6"/>
<circle cx="233.8" cy="203.1" r="1.6"/>
<circle cx="235.3" cy="204.1" r="1.6"/>
<circle cx="236.0" cy="205.2" r="1.6"/>
<circle cx="237.5" cy="205.0" r="1.6"/>
<circle cx="238.4" cy="207.3" r="1.6"/>
<circle cx="240.2" cy="207.2" r="1.6"/>
<circle cx="241.3" cy="207.9" r="1.6"/>
<circle cx="242.9" cy="209.6" r="1.6"/>
<circle cx="243.8" cy="209.1" r="1.6"/>
<circle cx="245.0" cy="210.4" r="1.6"/>
<circle cx="245.4" cy="211.0" r="1.6"/>
<circle cx="246.6" cy="211.2" r="1.6"/>
<circle cx="247.6" cy="211.7" r="1.6"/>
<circle cx="248.6" cy="212.0" r="1.6"/>
<circle cx="249.2" cy="212.2" r="1.6"/>
<circle cx="250.4" cy="212.6" r="1.6"/>
<circle cx="251.3" cy="213.1" r="1.6"/>
<circle cx="252.4" cy="212.5" r="1.6"/>
<circle cx="253.2" cy="212.7" r="1.6"/>
<circle cx="254.3" cy="212.8" r="1.6"/>
<circle cx="255.2" cy="213.2" r="1.6"/>
<circle cx="256.2" cy="214.0" r="1.6"/>
<circle cx="257.1" cy="214.7" r="1.6"/>
<circle cx="257.7" cy="214.9" r="1.6"/>
<circle cx="258.8" cy="214.7" r="1.6"/>
<circle cx="259.8" cy="215.3" r="1.6"/>
<circle cx="260.4" cy="214.8" r="1.6"/>
<circle cx="261.6" cy="214.5" r="1.6"/>
<circle cx="262.9" cy="215.5" r="1.6"/>
<circle cx="264.1" cy="215.5" r="1.6"/>
<circle cx="265.9" cy="216.0" r="1.6"/>
<circle cx="267.1" cy="216.1" r="1.6"/>
<circle cx="268.6" cy="215.4" r="1.6"/>
<circle cx="270.3" cy="214.6" r="1.6"/>
<circle cx="271.6" cy="215.3" r="1.6"/>
<circle cx="272.8" cy="215.5" r="1.6"/>
<circle cx="274.2" cy="214.8" r="1.6"/>
<circle cx="275.8" cy="215.0" r="1.6"/>
<circle cx="277.1" cy="214.2" r="1.6"/>
<circle cx="278.6" cy="214.1" r="1.6"/>
<circle cx="280.3" cy="213.4" r="1.6"/>
<circle cx="281.8" cy="213.2" r="1.6"/>
<circle cx="283.1" cy="212.6" r="1.6"/>
<circle cx="284.5" cy="213.2" r="1.6"/>
<circle cx="286.1" cy="212.5" r="1.6"/>
<circle cx="287.3" cy="211.3" r="1.6"/>
<circle cx="288.8" cy="211.2" r="1.6"/>
<circle cx="290.5" cy="211.0" r="1.6"/>
<circle cx="291.6" cy="210.3" r="1.6"/>
<circle cx="293.6" cy="209.4" r="1.6"/>
<circle cx="294.7" cy="208.5" r="1.6"/>
<circle cx="296.2" cy="207.6" r="1.6"/>
<circle cx="298.2" cy="207.5" r="1.6"/>
<circle cx="299.5" cy="207.1" r="1.6"/>
<circle cx="301.0" cy="206.2" r="1.6"/>
<circle cx="302.3" cy="205.5" r="1.6"/>
<circle cx="303.6" cy="204.8" r="1.6"/>
<circle cx="304.8" cy="203.7" r="1.6"/>
<circle cx="306.0" cy="203.4" r="1.6"/>
<circle cx="307.2" cy="202.2" r="1.6"/>
<circle cx="308.0" cy="201.5" r="1.6"/>
<circle cx="309.4" cy="202.1" r="1.6"/>
<circle cx="310.3" cy="200.7" r="1.6"/>
<circle cx="311.4" cy="200.7" r="1.6"/>
<circle cx="312.3" cy="199.3" r="1.6"/>
<circle cx="313.2" cy="198.9" r="1.6"/>
<circle cx="314.3" cy="198.3" r="1.6"/>
<circle cx="315.6" cy="198.3" r="1.6"/>
<circle cx="316.5" cy="197.1" r="1.6"/>
<circle cx="317.7" cy="195.8" r="1.6"/>
<circle cx="319.3" cy="195.6" r="1.6"/>
<circle cx="320.6" cy="194.7" r="1.6"/>
<circle cx="321.3" cy="193.9" r="1.6"/>
<circle cx="322.7" cy="194.1" r="1.6"/>
<circle cx="323.8" cy="192.8" r="1.6"/>
<circle cx="324.3" cy="191.8" r="1.6"/>
</g>
</g>
<g clip-path="url(#cl2)">
<g fill="none" stroke="#f2b088" stroke-width="0.80">
<circle cx="85.1" cy="289.3" r="1.7"/>
<circle cx="85.8" cy="289.7" r="1.7"/>
<circle cx="87.2" cy="291.7" r="1.7"/>
<circle cx="88.4" cy="292.9" r="1.7"/>
<circle cx="89.5" cy="293.6" r="1.7"/>
<circle cx="90.8" cy="293.2" r="1.7"/>
<circle cx="92.4" cy="294.4" r="1.7"/>
<circle cx="93.7" cy="295.2" r="1.7"/>
<circle cx="94.5" cy="296.7" r="1.7"/>
<circle cx="96.0" cy="297.5" r="1.7"/>
<circle cx="97.1" cy="297.0" r="1.7"/>
<circle cx="98.2" cy="298.4" r="1.7"/>
<circle cx="99.2" cy="299.2" r="1.7"/>
<circle cx="100.2" cy="299.7" r="1.7"/>
<circle cx="101.5" cy="298.8" r="1.7"/>
<circle cx="102.2" cy="300.2" r="1.7"/>
<circle cx="103.8" cy="299.8" r="1.7"/>
<circle cx="104.6" cy="301.1" r="1.7"/>
<circle cx="105.6" cy="301.7" r="1.7"/>
<circle cx="106.9" cy="301.0" r="1.7"/>
<circle cx="107.9" cy="302.1" r="1.7"/>
<circle cx="109.1" cy="302.7" r="1.7"/>
<circle cx="110.0" cy="303.2" r="1.7"/>
<circle cx="111.2" cy="303.4" r="1.7"/>
<circle cx="112.4" cy="303.5" r="1.7"/>
<circle cx="113.4" cy="304.3" r="1.7"/>
<circle cx="114.8" cy="304.7" r="1.7"/>
<circle cx="115.7" cy="304.3" r="1.7"/>
<circle cx="116.5" cy="305.6" r="1.7"/>
<circle cx="117.9" cy="305.7" r="1.7"/>
<circle cx="118.8" cy="305.6" r="1.7"/>
<circle cx="120.3" cy="306.2" r="1.7"/>
<circle cx="121.2" cy="305.8" r="1.7"/>
<circle cx="122.2" cy="306.9" r="1.7"/>
<circle cx="123.2" cy="306.8" r="1.7"/>
<circle cx="124.5" cy="307.3" r="1.7"/>
<circle cx="125.7" cy="306.6" r="1.7"/>
<circle cx="126.3" cy="306.7" r="1.7"/>
<circle cx="127.7" cy="307.2" r="1.7"/>
<circle cx="129.0" cy="307.6" r="1.7"/>
<circle cx="129.6" cy="307.5" r="1.7"/>
<circle cx="131.1" cy="307.5" r="1.7"/>
<circle cx="132.0" cy="306.5" r="1.7"/>
<circle cx="133.2" cy="307.1" r="1.7"/>
<circle cx="134.1" cy="307.0" r="1.7"/>
<circle cx="135.0" cy="305.6" r="1.7"/>
<circle cx="136.2" cy="306.2" r="1.7"/>
<circle cx="137.1" cy="305.7" r="1.7"/>
<circle cx="138.7" cy="304.5" r="1.7"/>
<circle cx="139.8" cy="304.5" r="1.7"/>
<circle cx="141.0" cy="303.2" r="1.7"/>
<circle cx="142.3" cy="303.2" r="1.7"/>
<circle cx="144.0" cy="301.9" r="1.7"/>
<circle cx="145.1" cy="301.5" r="1.7"/>
<circle cx="147.0" cy="299.7" r="1.7"/>
<circle cx="148.5" cy="299.5" r="1.7"/>
<circle cx="150.2" cy="297.9" r="1.7"/>
<circle cx="151.4" cy="296.8" r="1.7"/>
<circle cx="152.7" cy="295.1" r="1.7"/>
<circle cx="154.1" cy="294.6" r="1.7"/>
<circle cx="155.6" cy="293.1" r="1.7"/>
<circle cx="156.9" cy="291.7" r="1.7"/>
<circle cx="158.1" cy="289.6" r="1.7"/>
<circle cx="159.8" cy="288.6" r="1.7"/>
<circle cx="160.6" cy="287.5" r="1.7"/>
<circle cx="162.2" cy="285.3" r="1.7"/>
<circle cx="163.4" cy="284.0" r="1.7"/>
<circle cx="164.6" cy="282.0" r="1.7"/>
<circle cx="165.6" cy="281.9" r="1.7"/>
<circle cx="167.3" cy="279.7" r="1.7"/>
<circle cx="168.4" cy="277.9" r="1.7"/>
<circle cx="169.8" cy="276.7" r="1.7"/>
<circle cx="171.2" cy="275.8" r="1.7"/>
<circle cx="172.4" cy="274.6" r="1.7"/>
<circle cx="173.4" cy="271.9" r="1.7"/>
<circle cx="174.7" cy="270.6" r="1.7"/>
<circle cx="175.9" cy="269.0" r="1.7"/>
<circle cx="177.4" cy="268.7" r="1.7"/>
<circle cx="178.6" cy="267.3" r="1.7"/>
<circle cx="180.0" cy="264.5" r="1.7"/>
<circle cx="181.7" cy="262.4" r="1.7"/>
<circle cx="183.2" cy="260.4" r="1.7"/>
<circle cx="185.1" cy="256.9" r="1.7"/>
<circle cx="187.0" cy="254.6" r="1.7"/>
<circle cx="188.6" cy="251.3" r="1.7"/>
<circle cx="189.9" cy="249.1" r="1.7"/>
<circle cx="191.4" cy="249.1" r="1.7"/>
<circle cx="192.0" cy="247.4" r="1.7"/>
<circle cx="193.5" cy="248.7" r="1.7"/>
<circle cx="195.2" cy="251.5" r="1.7"/>
<circle cx="196.4" cy="251.5" r="1.7"/>
<circle cx="197.5" cy="254.0" r="1.7"/>
<circle cx="198.4" cy="254.6" r="1.7"/>
<circle cx="199.8" cy="250.4" r="1.7"/>
<circle cx="201.0" cy="247.2" r="1.7"/>
<circle cx="201.3" cy="242.0" r="1.7"/>
<circle cx="201.7" cy="238.8" r="1.7"/>
<circle cx="202.2" cy="234.8" r="1.7"/>
<circle cx="203.4" cy="231.5" r="1.7"/>
<circle cx="203.9" cy="228.9" r="1.7"/>
<circle cx="204.9" cy="229.3" r="1.7"/>
<circle cx="206.2" cy="230.1" r="1.7"/>
<circle cx="207.7" cy="231.7" r="1.7"/>
<circle cx="208.5" cy="233.9" r="1.7"/>
<circle cx="209.8" cy="235.2" r="1.7"/>
<circle cx="211.4" cy="236.4" r="1.7"/>
<circle cx="212.2" cy="237.2" r="1.7"/>
<circle cx="213.4" cy="239.3" r="1.7"/>
<circle cx="215.1" cy="240.2" r="1.7"/>
<circle cx="216.5" cy="241.8" r="1.7"/>
<circle cx="218.4" cy="244.1" r="1.7"/>
<circle cx="219.9" cy="245.9" r="1.7"/>
<circle cx="221.3" cy="248.0" r="1.7"/>
<circle cx="223.2" cy="251.0" r="1.7"/>
<circle cx="224.5" cy="253.7" r="1.7"/>
<circle cx="226.2" cy="255.2" r="1.7"/>
<circle cx="227.8" cy="257.0" r="1.7"/>
<circle cx="229.8" cy="259.1" r="1.7"/>
<circle cx="231.0" cy="261.2" r="1.7"/>
<circle cx="232.7" cy="263.7" r="1.7"/>
<circle cx="234.2" cy="265.7" r="1.7"/>
<circle cx="235.8" cy="267.5" r="1.7"/>
<circle cx="237.3" cy="267.8" r="1.7"/>
<circle cx="238.4" cy="269.1" r="1.7"/>
<circle cx="239.5" cy="270.3" r="1.7"/>
<circle cx="240.8" cy="272.8" r="1.7"/>
<circle cx="242.4" cy="274.0" r="1.7"/>
<circle cx="243.2" cy="274.5" r="1.7"/>
<circle cx="245.0" cy="275.5" r="1.7"/>
<circle cx="246.2" cy="277.1" r="1.7"/>
<circle cx="247.6" cy="278.0" r="1.7"/>
<circle cx="248.8" cy="279.7" r="1.7"/>
<circle cx="249.8" cy="280.3" r="1.7"/>
<circle cx="251.4" cy="282.2" r="1.7"/>
<circle cx="252.3" cy="283.1" r="1.7"/>
<circle cx="254.0" cy="283.8" r="1.7"/>
<circle cx="255.0" cy="284.6" r="1.7"/>
<circle cx="256.1" cy="286.4" r="1.7"/>
<circle cx="257.6" cy="286.5" r="1.7"/>
<circle cx="258.6" cy="287.2" r="1.7"/>
<circle cx="260.1" cy="288.6" r="1.7"/>
<circle cx="261.3" cy="289.1" r="1.7"/>
<circle cx="262.8" cy="290.6" r="1.7"/>
<circle cx="264.3" cy="291.2" r="1.7"/>
<circle cx="265.4" cy="291.3" r="1.7"/>
<circle cx="267.1" cy="292.7" r="1.7"/>
<circle cx="268.6" cy="293.0" r="1.7"/>
<circle cx="270.2" cy="294.2" r="1.7"/>
<circle cx="271.8" cy="295.7" r="1.7"/>
<circle cx="273.1" cy="295.2" r="1.7"/>
<circle cx="274.8" cy="296.6" r="1.7"/>
<circle cx="276.2" cy="296.9" r="1.7"/>
<circle cx="277.2" cy="298.2" r="1.7"/>
<circle cx="278.6" cy="297.7" r="1.7"/>
<circle cx="279.8" cy="298.7" r="1.7"/>
<circle cx="280.7" cy="298.9" r="1.7"/>
<circle cx="282.1" cy="299.2" r="1.7"/>
<circle cx="282.9" cy="299.7" r="1.7"/>
<circle cx="284.4" cy="300.1" r="1.7"/>
<circle cx="285.1" cy="300.0" r="1.7"/>
<circle cx="286.2" cy="300.1" r="1.7"/>
<circle cx="287.1" cy="300.3" r="1.7"/>
<circle cx="288.6" cy="299.8" r="1.7"/>
<circle cx="289.5" cy="299.8" r="1.7"/>
<circle cx="290.6" cy="299.1" r="1.7"/>
<circle cx="291.9" cy="299.3" r="1.7"/>
<circle cx="292.5" cy="299.1" r="1.7"/>
<circle cx="293.7" cy="300.0" r="1.7"/>
<circle cx="294.6" cy="298.8" r="1.7"/>
<circle cx="296.1" cy="298.8" r="1.7"/>
<circle cx="296.8" cy="299.1" r="1.7"/>
<circle cx="298.2" cy="298.6" r="1.7"/>
<circle cx="299.4" cy="297.7" r="1.7"/>
<circle cx="300.6" cy="298.1" r="1.7"/>
<circle cx="301.2" cy="296.7" r="1.7"/>
<circle cx="302.5" cy="296.6" r="1.7"/>
<circle cx="303.5" cy="295.5" r="1.7"/>
<circle cx="304.7" cy="294.8" r="1.7"/>
<circle cx="305.9" cy="295.0" r="1.7"/>
<circle cx="306.8" cy="293.8" r="1.7"/>
<circle cx="308.2" cy="292.4" r="1.7"/>
<circle cx="309.3" cy="292.7" r="1.7"/>
<circle cx="310.2" cy="291.0" r="1.7"/>
<circle cx="311.5" cy="290.3" r="1.7"/>
<circle cx="312.5" cy="289.8" r="1.7"/>
<circle cx="313.9" cy="287.8" r="1.7"/>
<circle cx="314.8" cy="286.6" r="1.7"/>
<circle cx="316.1" cy="286.3" r="1.7"/>
<circle cx="317.5" cy="284.9" r="1.7"/>
<circle cx="318.6" cy="283.6" r="1.7"/>
<circle cx="319.8" cy="281.5" r="1.7"/>
<circle cx="321.6" cy="280.7" r="1.7"/>
<circle cx="322.5" cy="278.6" r="1.7"/>
<circle cx="324.0" cy="277.1" r="1.7"/>
<circle cx="325.0" cy="275.4" r="1.7"/>
</g>
<g fill="none" stroke="#e2604a" stroke-width="0.85">
<circle cx="85.0" cy="298.8" r="1.6"/>
<circle cx="85.8" cy="299.1" r="1.6"/>
<circle cx="87.2" cy="300.8" r="1.6"/>
<circle cx="88.2" cy="301.4" r="1.6"/>
<circle cx="89.3" cy="302.7" r="1.6"/>
<circle cx="90.6" cy="302.5" r="1.6"/>
<circle cx="91.7" cy="303.8" r="1.6"/>
<circle cx="93.0" cy="304.8" r="1.6"/>
<circle cx="94.2" cy="306.6" r="1.6"/>
<circle cx="95.4" cy="306.4" r="1.6"/>
<circle cx="96.5" cy="307.3" r="1.6"/>
<circle cx="97.8" cy="307.7" r="1.6"/>
<circle cx="98.5" cy="308.7" r="1.6"/>
<circle cx="99.5" cy="309.2" r="1.6"/>
<circle cx="101.1" cy="309.5" r="1.6"/>
<circle cx="101.8" cy="309.9" r="1.6"/>
<circle cx="103.1" cy="309.8" r="1.6"/>
<circle cx="103.9" cy="310.2" r="1.6"/>
<circle cx="105.1" cy="310.9" r="1.6"/>
<circle cx="106.2" cy="311.1" r="1.6"/>
<circle cx="107.2" cy="311.8" r="1.6"/>
<circle cx="108.7" cy="312.3" r="1.6"/>
<circle cx="109.7" cy="312.7" r="1.6"/>
<circle cx="110.6" cy="313.2" r="1.6"/>
<circle cx="111.8" cy="313.3" r="1.6"/>
<circle cx="113.0" cy="313.5" r="1.6"/>
<circle cx="113.9" cy="313.5" r="1.6"/>
<circle cx="114.9" cy="314.1" r="1.6"/>
<circle cx="116.1" cy="314.4" r="1.6"/>
<circle cx="117.0" cy="314.2" r="1.6"/>
<circle cx="118.6" cy="314.1" r="1.6"/>
<circle cx="119.5" cy="314.4" r="1.6"/>
<circle cx="120.4" cy="315.0" r="1.6"/>
<circle cx="121.5" cy="314.6" r="1.6"/>
<circle cx="122.6" cy="313.5" r="1.6"/>
<circle cx="124.1" cy="313.8" r="1.6"/>
<circle cx="124.7" cy="313.5" r="1.6"/>
<circle cx="126.0" cy="313.7" r="1.6"/>
<circle cx="126.9" cy="312.7" r="1.6"/>
<circle cx="128.5" cy="313.1" r="1.6"/>
<circle cx="129.1" cy="312.2" r="1.6"/>
<circle cx="130.3" cy="312.3" r="1.6"/>
<circle cx="131.5" cy="312.1" r="1.6"/>
<circle cx="132.7" cy="311.2" r="1.6"/>
<circle cx="133.6" cy="311.0" r="1.6"/>
<circle cx="134.7" cy="310.1" r="1.6"/>
<circle cx="135.8" cy="309.9" r="1.6"/>
<circle cx="136.9" cy="308.4" r="1.6"/>
<circle cx="138.1" cy="307.6" r="1.6"/>
<circle cx="139.2" cy="307.6" r="1.6"/>
<circle cx="140.3" cy="307.3" r="1.6"/>
<circle cx="141.7" cy="305.7" r="1.6"/>
<circle cx="143.3" cy="305.3" r="1.6"/>
<circle cx="144.7" cy="303.6" r="1.6"/>
<circle cx="146.1" cy="302.7" r="1.6"/>
<circle cx="147.8" cy="301.3" r="1.6"/>
<circle cx="149.1" cy="300.5" r="1.6"/>
<circle cx="150.6" cy="299.0" r="1.6"/>
<circle cx="152.3" cy="298.5" r="1.6"/>
<circle cx="153.6" cy="296.7" r="1.6"/>
<circle cx="154.8" cy="295.2" r="1.6"/>
<circle cx="156.1" cy="294.2" r="1.6"/>
<circle cx="157.7" cy="292.2" r="1.6"/>
<circle cx="159.2" cy="291.1" r="1.6"/>
<circle cx="160.4" cy="290.3" r="1.6"/>
<circle cx="161.7" cy="288.0" r="1.6"/>
<circle cx="162.7" cy="287.5" r="1.6"/>
<circle cx="163.7" cy="284.8" r="1.6"/>
<circle cx="165.2" cy="283.9" r="1.6"/>
<circle cx="166.7" cy="282.7" r="1.6"/>
<circle cx="167.8" cy="281.5" r="1.6"/>
<circle cx="169.0" cy="279.3" r="1.6"/>
<circle cx="170.4" cy="277.6" r="1.6"/>
<circle cx="171.5" cy="276.3" r="1.6"/>
<circle cx="172.8" cy="275.3" r="1.6"/>
<circle cx="174.3" cy="273.1" r="1.6"/>
<circle cx="175.3" cy="271.3" r="1.6"/>
<circle cx="176.7" cy="270.0" r="1.6"/>
<circle cx="178.0" cy="268.9" r="1.6"/>
<circle cx="179.5" cy="266.8" r="1.6"/>
<circle cx="180.4" cy="265.4" r="1.6"/>
<circle cx="181.8" cy="263.5" r="1.6"/>
<circle cx="182.7" cy="262.6" r="1.6"/>
<circle cx="183.6" cy="260.3" r="1.6"/>
<circle cx="185.7" cy="258.7" r="1.6"/>
<circle cx="187.0" cy="255.4" r="1.6"/>
<circle cx="188.9" cy="253.9" r="1.6"/>
<circle cx="190.4" cy="252.0" r="1.6"/>
<circle cx="191.6" cy="249.6" r="1.6"/>
<circle cx="192.3" cy="247.8" r="1.6"/>
<circle cx="193.7" cy="246.4" r="1.6"/>
<circle cx="194.8" cy="244.2" r="1.6"/>
<circle cx="196.2" cy="243.1" r="1.6"/>
<circle cx="197.2" cy="242.0" r="1.6"/>
<circle cx="198.5" cy="239.0" r="1.6"/>
<circle cx="200.0" cy="237.8" r="1.6"/>
<circle cx="201.2" cy="235.8" r="1.6"/>
<circle cx="202.3" cy="233.3" r="1.6"/>
<circle cx="204.1" cy="231.3" r="1.6"/>
<circle cx="204.7" cy="229.6" r="1.6"/>
<circle cx="206.3" cy="232.7" r="1.6"/>
<circle cx="207.0" cy="236.7" r="1.6"/>
<circle cx="207.6" cy="241.3" r="1.6"/>
<circle cx="208.1" cy="244.5" r="1.6"/>
<circle cx="208.4" cy="248.0" r="1.6"/>
<circle cx="209.5" cy="251.3" r="1.6"/>
<circle cx="210.0" cy="254.0" r="1.6"/>
<circle cx="211.8" cy="253.7" r="1.6"/>
<circle cx="213.3" cy="250.4" r="1.6"/>
<circle cx="213.9" cy="246.5" r="1.6"/>
<circle cx="215.2" cy="246.3" r="1.6"/>
<circle cx="216.1" cy="246.7" r="1.6"/>
<circle cx="217.0" cy="247.9" r="1.6"/>
<circle cx="218.5" cy="250.8" r="1.6"/>
<circle cx="220.4" cy="252.6" r="1.6"/>
<circle cx="221.6" cy="254.6" r="1.6"/>
<circle cx="222.5" cy="257.3" r="1.6"/>
<circle cx="224.0" cy="259.3" r="1.6"/>
<circle cx="225.2" cy="260.8" r="1.6"/>
<circle cx="226.2" cy="261.8" r="1.6"/>
<circle cx="228.2" cy="265.4" r="1.6"/>
<circle cx="229.5" cy="268.0" r="1.6"/>
<circle cx="231.3" cy="269.7" r="1.6"/>
<circle cx="232.8" cy="273.1" r="1.6"/>
<circle cx="234.4" cy="275.5" r="1.6"/>
<circle cx="235.4" cy="276.4" r="1.6"/>
<circle cx="236.8" cy="277.7" r="1.6"/>
<circle cx="237.7" cy="280.2" r="1.6"/>
<circle cx="239.0" cy="281.7" r="1.6"/>
<circle cx="240.1" cy="282.3" r="1.6"/>
<circle cx="241.4" cy="283.9" r="1.6"/>
<circle cx="243.0" cy="285.6" r="1.6"/>
<circle cx="244.1" cy="286.8" r="1.6"/>
<circle cx="245.4" cy="288.7" r="1.6"/>
<circle cx="246.6" cy="289.6" r="1.6"/>
<circle cx="247.8" cy="292.1" r="1.6"/>
<circle cx="249.2" cy="292.6" r="1.6"/>
<circle cx="250.4" cy="294.0" r="1.6"/>
<circle cx="251.7" cy="294.9" r="1.6"/>
<circle cx="253.2" cy="296.6" r="1.6"/>
<circle cx="254.2" cy="298.2" r="1.6"/>
<circle cx="255.4" cy="298.8" r="1.6"/>
<circle cx="257.1" cy="299.7" r="1.6"/>
<circle cx="258.1" cy="301.7" r="1.6"/>
<circle cx="259.6" cy="301.8" r="1.6"/>
<circle cx="260.6" cy="303.6" r="1.6"/>
<circle cx="262.0" cy="304.9" r="1.6"/>
<circle cx="263.2" cy="305.8" r="1.6"/>
<circle cx="264.8" cy="305.7" r="1.6"/>
<circle cx="266.2" cy="306.5" r="1.6"/>
<circle cx="267.9" cy="307.5" r="1.6"/>
<circle cx="269.5" cy="308.8" r="1.6"/>
<circle cx="270.0" cy="308.7" r="1.6"/>
<circle cx="270.9" cy="309.0" r="1.6"/>
<circle cx="271.8" cy="309.3" r="1.6"/>
<circle cx="273.1" cy="310.6" r="1.6"/>
<circle cx="274.4" cy="311.5" r="1.6"/>
<circle cx="275.9" cy="312.0" r="1.6"/>
<circle cx="277.4" cy="312.1" r="1.6"/>
<circle cx="278.6" cy="312.3" r="1.6"/>
<circle cx="279.7" cy="313.8" r="1.6"/>
<circle cx="280.9" cy="314.0" r="1.6"/>
<circle cx="281.9" cy="314.2" r="1.6"/>
<circle cx="283.1" cy="314.4" r="1.6"/>
<circle cx="284.1" cy="314.1" r="1.6"/>
<circle cx="285.1" cy="314.6" r="1.6"/>
<circle cx="286.1" cy="315.4" r="1.6"/>
<circle cx="287.2" cy="315.1" r="1.6"/>
<circle cx="288.6" cy="315.7" r="1.6"/>
<circle cx="289.7" cy="315.8" r="1.6"/>
<circle cx="290.3" cy="314.9" r="1.6"/>
<circle cx="291.4" cy="315.3" r="1.6"/>
<circle cx="292.8" cy="314.7" r="1.6"/>
<circle cx="293.8" cy="314.8" r="1.6"/>
<circle cx="295.0" cy="314.0" r="1.6"/>
<circle cx="296.2" cy="313.8" r="1.6"/>
<circle cx="297.1" cy="313.2" r="1.6"/>
<circle cx="297.9" cy="313.8" r="1.6"/>
<circle cx="299.4" cy="313.1" r="1.6"/>
<circle cx="300.1" cy="311.7" r="1.6"/>
<circle cx="301.3" cy="311.5" r="1.6"/>
<circle cx="302.4" cy="311.3" r="1.6"/>
<circle cx="303.4" cy="310.7" r="1.6"/>
<circle cx="304.8" cy="310.0" r="1.6"/>
<circle cx="306.0" cy="310.0" r="1.6"/>
<circle cx="307.1" cy="308.9" r="1.6"/>
<circle cx="308.0" cy="308.9" r="1.6"/>
<circle cx="309.1" cy="307.4" r="1.6"/>
<circle cx="310.4" cy="307.8" r="1.6"/>
<circle cx="311.2" cy="306.1" r="1.6"/>
<circle cx="312.7" cy="306.2" r="1.6"/>
<circle cx="313.5" cy="304.9" r="1.6"/>
<circle cx="314.7" cy="304.9" r="1.6"/>
<circle cx="316.0" cy="304.3" r="1.6"/>
<circle cx="317.5" cy="302.3" r="1.6"/>
<circle cx="318.6" cy="301.9" r="1.6"/>
<circle cx="319.7" cy="301.8" r="1.6"/>
<circle cx="320.4" cy="300.1" r="1.6"/>
<circle cx="321.6" cy="300.0" r="1.6"/>
<circle cx="322.6" cy="299.6" r="1.6"/>
<circle cx="323.5" cy="299.0" r="1.6"/>
<circle cx="324.5" cy="297.5" r="1.6"/>
</g>
</g>
<g clip-path="url(#cl3)">
<g fill="none" stroke="#f2b088" stroke-width="0.80">
<circle cx="84.8" cy="429.7" r="1.7"/>
<circle cx="86.0" cy="428.8" r="1.7"/>
<circle cx="87.7" cy="427.5" r="1.7"/>
<circle cx="89.3" cy="426.5" r="1.7"/>
<circle cx="91.1" cy="426.6" r="1.7"/>
<circle cx="91.8" cy="425.7" r="1.7"/>
<circle cx="93.2" cy="425.3" r="1.7"/>
<circle cx="94.0" cy="424.1" r="1.7"/>
<circle cx="94.8" cy="423.7" r="1.7"/>
<circle cx="96.0" cy="422.9" r="1.7"/>
<circle cx="97.1" cy="422.3" r="1.7"/>
<circle cx="98.3" cy="422.4" r="1.7"/>
<circle cx="99.1" cy="421.3" r="1.7"/>
<circle cx="100.3" cy="421.0" r="1.7"/>
<circle cx="101.5" cy="420.3" r="1.7"/>
<circle cx="102.2" cy="420.5" r="1.7"/>
<circle cx="103.9" cy="419.1" r="1.7"/>
<circle cx="105.8" cy="418.5" r="1.7"/>
<circle cx="107.8" cy="417.5" r="1.7"/>
<circle cx="109.4" cy="416.4" r="1.7"/>
<circle cx="111.5" cy="415.1" r="1.7"/>
<circle cx="113.4" cy="414.7" r="1.7"/>
<circle cx="114.9" cy="413.0" r="1.7"/>
<circle cx="116.9" cy="411.9" r="1.7"/>
<circle cx="118.5" cy="411.0" r="1.7"/>
<circle cx="120.4" cy="410.5" r="1.7"/>
<circle cx="122.4" cy="408.6" r="1.7"/>
<circle cx="124.1" cy="408.0" r="1.7"/>
<circle cx="126.0" cy="406.4" r="1.7"/>
<circle cx="127.6" cy="405.1" r="1.7"/>
<circle cx="130.0" cy="404.9" r="1.7"/>
<circle cx="131.3" cy="403.7" r="1.7"/>
<circle cx="133.6" cy="402.3" r="1.7"/>
<circle cx="134.9" cy="400.9" r="1.7"/>
<circle cx="136.9" cy="399.3" r="1.7"/>
<circle cx="138.8" cy="397.8" r="1.7"/>
<circle cx="140.8" cy="397.5" r="1.7"/>
<circle cx="142.5" cy="396.7" r="1.7"/>
<circle cx="144.4" cy="394.5" r="1.7"/>
<circle cx="146.0" cy="393.1" r="1.7"/>
<circle cx="147.7" cy="392.7" r="1.7"/>
<circle cx="150.0" cy="390.8" r="1.7"/>
<circle cx="151.4" cy="390.0" r="1.7"/>
<circle cx="153.6" cy="389.1" r="1.7"/>
<circle cx="155.1" cy="387.7" r="1.7"/>
<circle cx="157.3" cy="386.3" r="1.7"/>
<circle cx="158.8" cy="384.2" r="1.7"/>
<circle cx="161.0" cy="383.0" r="1.7"/>
<circle cx="162.6" cy="382.0" r="1.7"/>
<circle cx="164.4" cy="381.0" r="1.7"/>
<circle cx="166.3" cy="378.5" r="1.7"/>
<circle cx="168.3" cy="377.9" r="1.7"/>
<circle cx="170.3" cy="376.6" r="1.7"/>
<circle cx="172.1" cy="375.5" r="1.7"/>
<circle cx="173.7" cy="373.6" r="1.7"/>
<circle cx="175.2" cy="372.0" r="1.7"/>
<circle cx="177.1" cy="370.4" r="1.7"/>
<circle cx="178.7" cy="369.2" r="1.7"/>
<circle cx="180.2" cy="369.1" r="1.7"/>
<circle cx="181.5" cy="366.6" r="1.7"/>
<circle cx="183.2" cy="365.6" r="1.7"/>
<circle cx="184.8" cy="364.1" r="1.7"/>
<circle cx="186.3" cy="364.1" r="1.7"/>
<circle cx="187.7" cy="362.4" r="1.7"/>
<circle cx="188.7" cy="361.6" r="1.7"/>
<circle cx="190.2" cy="360.2" r="1.7"/>
<circle cx="191.3" cy="359.2" r="1.7"/>
<circle cx="192.8" cy="358.7" r="1.7"/>
<circle cx="194.2" cy="356.7" r="1.7"/>
<circle cx="195.1" cy="356.1" r="1.7"/>
<circle cx="196.4" cy="355.0" r="1.7"/>
<circle cx="197.4" cy="353.7" r="1.7"/>
<circle cx="198.5" cy="353.3" r="1.7"/>
<circle cx="200.3" cy="352.7" r="1.7"/>
<circle cx="201.5" cy="351.8" r="1.7"/>
<circle cx="202.9" cy="350.2" r="1.7"/>
<circle cx="204.0" cy="348.1" r="1.7"/>
<circle cx="204.8" cy="348.3" r="1.7"/>
<circle cx="205.6" cy="350.7" r="1.7"/>
<circle cx="207.3" cy="352.0" r="1.7"/>
<circle cx="208.1" cy="352.6" r="1.7"/>
<circle cx="209.2" cy="354.5" r="1.7"/>
<circle cx="210.5" cy="354.6" r="1.7"/>
<circle cx="212.5" cy="356.3" r="1.7"/>
<circle cx="213.9" cy="357.9" r="1.7"/>
<circle cx="215.8" cy="359.1" r="1.7"/>
<circle cx="217.7" cy="360.4" r="1.7"/>
<circle cx="219.6" cy="361.6" r="1.7"/>
<circle cx="221.2" cy="362.5" r="1.7"/>
<circle cx="223.4" cy="364.3" r="1.7"/>
<circle cx="224.7" cy="365.8" r="1.7"/>
<circle cx="226.6" cy="365.9" r="1.7"/>
<circle cx="228.6" cy="367.2" r="1.7"/>
<circle cx="230.4" cy="368.7" r="1.7"/>
<circle cx="232.1" cy="369.8" r="1.7"/>
<circle cx="233.9" cy="370.8" r="1.7"/>
<circle cx="236.0" cy="371.3" r="1.7"/>
<circle cx="237.8" cy="372.3" r="1.7"/>
<circle cx="239.6" cy="374.5" r="1.7"/>
<circle cx="241.5" cy="375.4" r="1.7"/>
<circle cx="243.5" cy="375.7" r="1.7"/>
<circle cx="245.4" cy="377.6" r="1.7"/>
<circle cx="246.7" cy="378.8" r="1.7"/>
<circle cx="248.7" cy="379.0" r="1.7"/>
<circle cx="250.9" cy="380.6" r="1.7"/>
<circle cx="252.6" cy="381.1" r="1.7"/>
<circle cx="254.4" cy="382.1" r="1.7"/>
<circle cx="255.9" cy="383.7" r="1.7"/>
<circle cx="257.6" cy="385.1" r="1.7"/>
<circle cx="259.5" cy="385.8" r="1.7"/>
<circle cx="261.6" cy="387.2" r="1.7"/>
<circle cx="263.6" cy="388.6" r="1.7"/>
<circle cx="265.4" cy="389.7" r="1.7"/>
<circle cx="267.3" cy="391.4" r="1.7"/>
<circle cx="268.7" cy="392.4" r="1.7"/>
<circle cx="270.6" cy="393.6" r="1.7"/>
<circle cx="272.6" cy="394.9" r="1.7"/>
<circle cx="274.1" cy="395.5" r="1.7"/>
<circle cx="276.3" cy="397.4" r="1.7"/>
<circle cx="278.1" cy="397.3" r="1.7"/>
<circle cx="279.9" cy="398.4" r="1.7"/>
<circle cx="281.7" cy="400.5" r="1.7"/>
<circle cx="283.3" cy="401.7" r="1.7"/>
<circle cx="285.4" cy="401.8" r="1.7"/>
<circle cx="286.9" cy="403.1" r="1.7"/>
<circle cx="289.1" cy="404.3" r="1.7"/>
<circle cx="290.5" cy="404.5" r="1.7"/>
<circle cx="292.3" cy="406.5" r="1.7"/>
<circle cx="294.2" cy="407.2" r="1.7"/>
<circle cx="296.1" cy="408.3" r="1.7"/>
<circle cx="298.0" cy="408.4" r="1.7"/>
<circle cx="299.2" cy="409.4" r="1.7"/>
<circle cx="300.1" cy="410.3" r="1.7"/>
<circle cx="301.2" cy="409.6" r="1.7"/>
<circle cx="301.8" cy="410.2" r="1.7"/>
<circle cx="302.9" cy="411.7" r="1.7"/>
<circle cx="304.0" cy="411.0" r="1.7"/>
<circle cx="304.6" cy="412.5" r="1.7"/>
<circle cx="305.9" cy="412.3" r="1.7"/>
<circle cx="306.7" cy="412.4" r="1.7"/>
<circle cx="308.8" cy="413.6" r="1.7"/>
<circle cx="310.6" cy="414.6" r="1.7"/>
<circle cx="311.8" cy="415.0" r="1.7"/>
<circle cx="313.5" cy="416.4" r="1.7"/>
<circle cx="315.2" cy="415.9" r="1.7"/>
<circle cx="316.3" cy="416.9" r="1.7"/>
<circle cx="317.8" cy="417.7" r="1.7"/>
<circle cx="319.0" cy="417.9" r="1.7"/>
<circle cx="320.0" cy="418.6" r="1.7"/>
<circle cx="321.3" cy="418.2" r="1.7"/>
<circle cx="322.4" cy="419.9" r="1.7"/>
<circle cx="323.4" cy="419.2" r="1.7"/>
<circle cx="324.8" cy="419.8" r="1.7"/>
</g>
<g fill="none" stroke="#e2604a" stroke-width="0.85">
<circle cx="84.9" cy="432.0" r="1.6"/>
<circle cx="85.9" cy="431.5" r="1.6"/>
<circle cx="87.5" cy="431.2" r="1.6"/>
<circle cx="88.5" cy="429.5" r="1.6"/>
<circle cx="89.2" cy="430.0" r="1.6"/>
<circle cx="90.2" cy="429.5" r="1.6"/>
<circle cx="91.0" cy="428.8" r="1.6"/>
<circle cx="91.9" cy="427.8" r="1.6"/>
<circle cx="93.1" cy="428.0" r="1.6"/>
<circle cx="94.2" cy="427.2" r="1.6"/>
<circle cx="94.9" cy="426.7" r="1.6"/>
<circle cx="96.2" cy="425.7" r="1.6"/>
<circle cx="97.2" cy="424.9" r="1.6"/>
<circle cx="98.2" cy="424.4" r="1.6"/>
<circle cx="99.0" cy="423.7" r="1.6"/>
<circle cx="100.2" cy="424.0" r="1.6"/>
<circle cx="101.3" cy="422.6" r="1.6"/>
<circle cx="102.1" cy="421.9" r="1.6"/>
<circle cx="103.1" cy="421.2" r="1.6"/>
<circle cx="103.8" cy="421.7" r="1.6"/>
<circle cx="105.0" cy="420.6" r="1.6"/>
<circle cx="106.0" cy="419.9" r="1.6"/>
<circle cx="106.7" cy="419.1" r="1.6"/>
<circle cx="107.7" cy="418.9" r="1.6"/>
<circle cx="108.8" cy="418.8" r="1.6"/>
<circle cx="109.8" cy="418.0" r="1.6"/>
<circle cx="110.8" cy="417.8" r="1.6"/>
<circle cx="111.2" cy="416.7" r="1.6"/>
<circle cx="112.4" cy="417.4" r="1.6"/>
<circle cx="113.2" cy="416.6" r="1.6"/>
<circle cx="114.1" cy="416.2" r="1.6"/>
<circle cx="114.9" cy="415.2" r="1.6"/>
<circle cx="116.2" cy="414.4" r="1.6"/>
<circle cx="116.8" cy="413.5" r="1.6"/>
<circle cx="117.7" cy="413.3" r="1.6"/>
<circle cx="118.9" cy="412.7" r="1.6"/>
<circle cx="119.6" cy="412.2" r="1.6"/>
<circle cx="120.6" cy="412.6" r="1.6"/>
<circle cx="121.6" cy="411.1" r="1.6"/>
<circle cx="122.5" cy="411.6" r="1.6"/>
<circle cx="123.4" cy="409.8" r="1.6"/>
<circle cx="124.4" cy="410.3" r="1.6"/>
<circle cx="125.1" cy="408.7" r="1.6"/>
<circle cx="125.9" cy="408.7" r="1.6"/>
<circle cx="127.2" cy="408.3" r="1.6"/>
<circle cx="128.1" cy="407.1" r="1.6"/>
<circle cx="128.7" cy="407.2" r="1.6"/>
<circle cx="129.8" cy="406.2" r="1.6"/>
<circle cx="130.7" cy="405.5" r="1.6"/>
<circle cx="131.3" cy="405.0" r="1.6"/>
<circle cx="132.2" cy="404.7" r="1.6"/>
<circle cx="133.2" cy="403.9" r="1.6"/>
<circle cx="134.3" cy="402.9" r="1.6"/>
<circle cx="135.1" cy="402.0" r="1.6"/>
<circle cx="136.3" cy="402.1" r="1.6"/>
<circle cx="137.2" cy="400.8" r="1.6"/>
<circle cx="137.9" cy="401.1" r="1.6"/>
<circle cx="138.7" cy="399.6" r="1.6"/>
<circle cx="139.5" cy="399.1" r="1.6"/>
<circle cx="140.8" cy="398.4" r="1.6"/>
<circle cx="141.7" cy="398.3" r="1.6"/>
<circle cx="142.5" cy="397.9" r="1.6"/>
<circle cx="143.4" cy="397.3" r="1.6"/>
<circle cx="144.3" cy="396.3" r="1.6"/>
<circle cx="145.3" cy="395.5" r="1.6"/>
<circle cx="146.2" cy="395.6" r="1.6"/>
<circle cx="147.2" cy="394.4" r="1.6"/>
<circle cx="148.1" cy="394.7" r="1.6"/>
<circle cx="148.8" cy="393.1" r="1.6"/>
<circle cx="149.8" cy="393.3" r="1.6"/>
<circle cx="150.5" cy="391.4" r="1.6"/>
<circle cx="151.6" cy="391.7" r="1.6"/>
<circle cx="152.7" cy="390.6" r="1.6"/>
<circle cx="153.7" cy="389.8" r="1.6"/>
<circle cx="154.5" cy="388.9" r="1.6"/>
<circle cx="155.0" cy="388.4" r="1.6"/>
<circle cx="155.9" cy="388.2" r="1.6"/>
<circle cx="157.1" cy="387.1" r="1.6"/>
<circle cx="158.2" cy="386.7" r="1.6"/>
<circle cx="158.7" cy="385.8" r="1.6"/>
<circle cx="160.0" cy="386.2" r="1.6"/>
<circle cx="160.6" cy="384.2" r="1.6"/>
<circle cx="161.9" cy="383.8" r="1.6"/>
<circle cx="162.9" cy="383.5" r="1.6"/>
<circle cx="163.7" cy="382.6" r="1.6"/>
<circle cx="164.7" cy="382.1" r="1.6"/>
<circle cx="165.4" cy="382.0" r="1.6"/>
<circle cx="166.2" cy="381.0" r="1.6"/>
<circle cx="167.1" cy="380.2" r="1.6"/>
<circle cx="168.2" cy="379.8" r="1.6"/>
<circle cx="168.9" cy="378.7" r="1.6"/>
<circle cx="170.0" cy="378.5" r="1.6"/>
<circle cx="171.3" cy="377.4" r="1.6"/>
<circle cx="171.8" cy="376.2" r="1.6"/>
<circle cx="172.7" cy="375.7" r="1.6"/>
<circle cx="173.5" cy="374.8" r="1.6"/>
<circle cx="174.7" cy="374.7" r="1.6"/>
<circle cx="175.3" cy="374.5" r="1.6"/>
<circle cx="176.9" cy="372.7" r="1.6"/>
<circle cx="178.4" cy="371.8" r="1.6"/>
<circle cx="180.4" cy="369.7" r="1.6"/>
<circle cx="181.9" cy="369.2" r="1.6"/>
<circle cx="183.1" cy="367.3" r="1.6"/>
<circle cx="184.7" cy="366.9" r="1.6"/>
<circle cx="185.9" cy="365.4" r="1.6"/>
<circle cx="187.5" cy="364.0" r="1.6"/>
<circle cx="188.9" cy="363.5" r="1.6"/>
<circle cx="190.0" cy="362.4" r="1.6"/>
<circle cx="191.4" cy="361.2" r="1.6"/>
<circle cx="192.9" cy="359.3" r="1.6"/>
<circle cx="194.2" cy="359.4" r="1.6"/>
<circle cx="195.1" cy="357.0" r="1.6"/>
<circle cx="196.2" cy="357.3" r="1.6"/>
<circle cx="197.3" cy="356.3" r="1.6"/>
<circle cx="198.4" cy="355.1" r="1.6"/>
<circle cx="199.4" cy="353.5" r="1.6"/>
<circle cx="200.6" cy="352.6" r="1.6"/>
<circle cx="201.6" cy="352.8" r="1.6"/>
<circle cx="202.9" cy="351.7" r="1.6"/>
<circle cx="204.2" cy="349.0" r="1.6"/>
<circle cx="204.6" cy="350.0" r="1.6"/>
<circle cx="205.5" cy="351.3" r="1.6"/>
<circle cx="206.6" cy="353.2" r="1.6"/>
<circle cx="208.0" cy="354.5" r="1.6"/>
<circle cx="209.1" cy="357.0" r="1.6"/>
<circle cx="210.7" cy="358.2" r="1.6"/>
<circle cx="212.2" cy="359.2" r="1.6"/>
<circle cx="213.9" cy="360.7" r="1.6"/>
<circle cx="215.7" cy="362.7" r="1.6"/>
<circle cx="216.6" cy="363.6" r="1.6"/>
<circle cx="217.8" cy="363.5" r="1.6"/>
<circle cx="218.6" cy="364.9" r="1.6"/>
<circle cx="219.8" cy="365.5" r="1.6"/>
<circle cx="220.4" cy="367.1" r="1.6"/>
<circle cx="221.6" cy="367.5" r="1.6"/>
<circle cx="222.2" cy="367.5" r="1.6"/>
<circle cx="223.1" cy="368.1" r="1.6"/>
<circle cx="223.8" cy="369.4" r="1.6"/>
<circle cx="224.9" cy="370.2" r="1.6"/>
<circle cx="225.8" cy="370.1" r="1.6"/>
<circle cx="226.8" cy="371.7" r="1.6"/>
<circle cx="227.7" cy="372.3" r="1.6"/>
<circle cx="228.6" cy="373.6" r="1.6"/>
<circle cx="229.7" cy="373.9" r="1.6"/>
<circle cx="230.3" cy="374.0" r="1.6"/>
<circle cx="231.3" cy="375.6" r="1.6"/>
<circle cx="232.2" cy="375.5" r="1.6"/>
<circle cx="233.1" cy="375.9" r="1.6"/>
<circle cx="234.4" cy="376.3" r="1.6"/>
<circle cx="235.1" cy="378.3" r="1.6"/>
<circle cx="235.8" cy="378.5" r="1.6"/>
<circle cx="236.8" cy="378.7" r="1.6"/>
<circle cx="237.6" cy="379.2" r="1.6"/>
<circle cx="238.9" cy="380.8" r="1.6"/>
<circle cx="239.9" cy="380.4" r="1.6"/>
<circle cx="240.7" cy="381.5" r="1.6"/>
<circle cx="241.6" cy="382.5" r="1.6"/>
<circle cx="242.3" cy="383.7" r="1.6"/>
<circle cx="243.0" cy="384.1" r="1.6"/>
<circle cx="244.4" cy="384.4" r="1.6"/>
<circle cx="245.2" cy="385.7" r="1.6"/>
<circle cx="245.9" cy="385.8" r="1.6"/>
<circle cx="247.1" cy="386.1" r="1.6"/>
<circle cx="248.0" cy="386.8" r="1.6"/>
<circle cx="248.8" cy="387.7" r="1.6"/>
<circle cx="249.8" cy="388.0" r="1.6"/>
<circle cx="250.7" cy="388.9" r="1.6"/>
<circle cx="251.4" cy="389.6" r="1.6"/>
<circle cx="252.3" cy="390.7" r="1.6"/>
<circle cx="253.3" cy="391.1" r="1.6"/>
<circle cx="254.2" cy="391.4" r="1.6"/>
<circle cx="255.0" cy="391.5" r="1.6"/>
<circle cx="256.3" cy="392.7" r="1.6"/>
<circle cx="257.0" cy="393.3" r="1.6"/>
<circle cx="258.1" cy="393.6" r="1.6"/>
<circle cx="258.6" cy="395.0" r="1.6"/>
<circle cx="259.7" cy="395.4" r="1.6"/>
<circle cx="260.8" cy="396.4" r="1.6"/>
<circle cx="261.7" cy="395.8" r="1.6"/>
<circle cx="262.4" cy="397.6" r="1.6"/>
<circle cx="263.5" cy="397.3" r="1.6"/>
<circle cx="264.1" cy="398.1" r="1.6"/>
<circle cx="265.0" cy="398.9" r="1.6"/>
<circle cx="266.3" cy="399.8" r="1.6"/>
<circle cx="267.0" cy="399.8" r="1.6"/>
<circle cx="267.9" cy="401.8" r="1.6"/>
<circle cx="269.0" cy="401.6" r="1.6"/>
<circle cx="269.8" cy="402.8" r="1.6"/>
<circle cx="270.8" cy="402.5" r="1.6"/>
<circle cx="271.7" cy="403.5" r="1.6"/>
<circle cx="272.5" cy="403.9" r="1.6"/>
<circle cx="273.4" cy="404.7" r="1.6"/>
<circle cx="274.3" cy="404.9" r="1.6"/>
<circle cx="275.1" cy="406.3" r="1.6"/>
<circle cx="275.9" cy="406.3" r="1.6"/>
<circle cx="277.2" cy="407.1" r="1.6"/>
<circle cx="277.9" cy="407.6" r="1.6"/>
<circle cx="279.1" cy="408.0" r="1.6"/>
<circle cx="279.9" cy="409.7" r="1.6"/>
<circle cx="280.6" cy="409.6" r="1.6"/>
<circle cx="281.8" cy="410.5" r="1.6"/>
<circle cx="282.5" cy="410.2" r="1.6"/>
<circle cx="283.4" cy="411.2" r="1.6"/>
<circle cx="284.5" cy="411.7" r="1.6"/>
<circle cx="285.2" cy="412.7" r="1.6"/>
<circle cx="286.4" cy="412.8" r="1.6"/>
<circle cx="287.0" cy="413.7" r="1.6"/>
<circle cx="288.3" cy="413.7" r="1.6"/>
<circle cx="289.2" cy="414.9" r="1.6"/>
<circle cx="289.8" cy="415.4" r="1.6"/>
<circle cx="290.6" cy="415.1" r="1.6"/>
<circle cx="291.8" cy="416.1" r="1.6"/>
<circle cx="292.6" cy="416.7" r="1.6"/>
<circle cx="293.7" cy="417.6" r="1.6"/>
<circle cx="294.1" cy="417.9" r="1.6"/>
<circle cx="295.3" cy="418.3" r="1.6"/>
<circle cx="296.4" cy="418.8" r="1.6"/>
<circle cx="297.1" cy="420.0" r="1.6"/>
<circle cx="298.0" cy="420.0" r="1.6"/>
<circle cx="299.0" cy="421.0" r="1.6"/>
<circle cx="300.1" cy="421.5" r="1.6"/>
<circle cx="300.9" cy="421.0" r="1.6"/>
<circle cx="302.0" cy="422.3" r="1.6"/>
<circle cx="303.0" cy="423.2" r="1.6"/>
<circle cx="303.6" cy="423.0" r="1.6"/>
<circle cx="304.6" cy="424.4" r="1.6"/>
<circle cx="305.6" cy="424.0" r="1.6"/>
<circle cx="306.9" cy="425.2" r="1.6"/>
<circle cx="307.4" cy="425.9" r="1.6"/>
<circle cx="308.7" cy="426.2" r="1.6"/>
<circle cx="309.2" cy="427.0" r="1.6"/>
<circle cx="310.3" cy="427.4" r="1.6"/>
<circle cx="311.5" cy="428.2" r="1.6"/>
<circle cx="312.3" cy="427.8" r="1.6"/>
<circle cx="312.8" cy="428.9" r="1.6"/>
<circle cx="314.1" cy="430.5" r="1.6"/>
<circle cx="315.7" cy="430.4" r="1.6"/>
<circle cx="317.1" cy="431.4" r="1.6"/>
<circle cx="318.7" cy="432.7" r="1.6"/>
<circle cx="319.7" cy="433.5" r="1.6"/>
<circle cx="320.6" cy="434.2" r="1.6"/>
<circle cx="322.1" cy="435.7" r="1.6"/>
<circle cx="323.0" cy="435.7" r="1.6"/>
<circle cx="323.9" cy="436.4" r="1.6"/>
<circle cx="325.0" cy="437.6" r="1.6"/>
</g>
</g>
<g clip-path="url(#cl4)">
<g fill="none" stroke="#f2b088" stroke-width="0.85">
<circle cx="85.0" cy="544.5" r="1.6"/>
<circle cx="85.1" cy="544.4" r="1.6"/>
<circle cx="86.0" cy="543.6" r="1.6"/>
<circle cx="87.0" cy="543.5" r="1.6"/>
<circle cx="87.8" cy="542.3" r="1.6"/>
<circle cx="89.7" cy="541.3" r="1.6"/>
<circle cx="90.6" cy="540.6" r="1.6"/>
<circle cx="91.4" cy="540.6" r="1.6"/>
<circle cx="92.4" cy="539.8" r="1.6"/>
<circle cx="93.8" cy="538.9" r="1.6"/>
<circle cx="94.7" cy="538.6" r="1.6"/>
<circle cx="95.8" cy="537.7" r="1.6"/>
<circle cx="96.7" cy="536.3" r="1.6"/>
<circle cx="98.2" cy="535.0" r="1.6"/>
<circle cx="99.5" cy="534.3" r="1.6"/>
<circle cx="100.5" cy="533.6" r="1.6"/>
<circle cx="101.8" cy="533.4" r="1.6"/>
<circle cx="102.9" cy="532.5" r="1.6"/>
<circle cx="103.9" cy="532.0" r="1.6"/>
<circle cx="104.8" cy="530.6" r="1.6"/>
<circle cx="106.1" cy="529.9" r="1.6"/>
<circle cx="107.1" cy="529.3" r="1.6"/>
<circle cx="107.6" cy="528.5" r="1.6"/>
<circle cx="108.9" cy="529.1" r="1.6"/>
<circle cx="109.7" cy="528.1" r="1.6"/>
<circle cx="110.5" cy="527.8" r="1.6"/>
<circle cx="111.6" cy="526.1" r="1.6"/>
<circle cx="112.2" cy="526.3" r="1.6"/>
<circle cx="113.1" cy="525.9" r="1.6"/>
<circle cx="114.1" cy="524.5" r="1.6"/>
<circle cx="115.2" cy="524.0" r="1.6"/>
<circle cx="116.0" cy="523.2" r="1.6"/>
<circle cx="117.1" cy="522.9" r="1.6"/>
<circle cx="118.0" cy="522.0" r="1.6"/>
<circle cx="118.8" cy="522.6" r="1.6"/>
<circle cx="119.5" cy="520.7" r="1.6"/>
<circle cx="120.4" cy="521.0" r="1.6"/>
<circle cx="121.2" cy="520.3" r="1.6"/>
<circle cx="122.1" cy="519.6" r="1.6"/>
<circle cx="123.3" cy="519.0" r="1.6"/>
<circle cx="124.2" cy="518.0" r="1.6"/>
<circle cx="125.3" cy="517.4" r="1.6"/>
<circle cx="126.3" cy="518.0" r="1.6"/>
<circle cx="127.3" cy="516.8" r="1.6"/>
<circle cx="127.9" cy="515.9" r="1.6"/>
<circle cx="129.1" cy="515.5" r="1.6"/>
<circle cx="130.2" cy="514.4" r="1.6"/>
<circle cx="131.0" cy="514.9" r="1.6"/>
<circle cx="132.1" cy="513.8" r="1.6"/>
<circle cx="132.8" cy="512.7" r="1.6"/>
<circle cx="133.9" cy="513.1" r="1.6"/>
<circle cx="135.2" cy="511.6" r="1.6"/>
<circle cx="136.3" cy="510.8" r="1.6"/>
<circle cx="137.1" cy="511.5" r="1.6"/>
<circle cx="138.0" cy="510.9" r="1.6"/>
<circle cx="139.2" cy="509.0" r="1.6"/>
<circle cx="140.0" cy="509.0" r="1.6"/>
<circle cx="141.0" cy="508.8" r="1.6"/>
<circle cx="142.0" cy="508.2" r="1.6"/>
<circle cx="143.1" cy="506.6" r="1.6"/>
<circle cx="144.2" cy="506.0" r="1.6"/>
<circle cx="145.2" cy="506.4" r="1.6"/>
<circle cx="146.3" cy="505.3" r="1.6"/>
<circle cx="147.0" cy="504.8" r="1.6"/>
<circle cx="148.0" cy="504.4" r="1.6"/>
<circle cx="149.0" cy="503.6" r="1.6"/>
<circle cx="150.2" cy="502.7" r="1.6"/>
<circle cx="151.4" cy="501.8" r="1.6"/>
<circle cx="152.1" cy="502.3" r="1.6"/>
<circle cx="153.2" cy="501.5" r="1.6"/>
<circle cx="154.5" cy="500.4" r="1.6"/>
<circle cx="155.1" cy="499.2" r="1.6"/>
<circle cx="156.5" cy="498.6" r="1.6"/>
<circle cx="157.3" cy="498.5" r="1.6"/>
<circle cx="158.1" cy="497.8" r="1.6"/>
<circle cx="159.1" cy="497.3" r="1.6"/>
<circle cx="160.3" cy="496.4" r="1.6"/>
<circle cx="161.1" cy="495.8" r="1.6"/>
<circle cx="162.1" cy="494.7" r="1.6"/>
<circle cx="163.1" cy="495.1" r="1.6"/>
<circle cx="164.2" cy="494.5" r="1.6"/>
<circle cx="164.9" cy="493.9" r="1.6"/>
<circle cx="166.1" cy="493.1" r="1.6"/>
<circle cx="167.1" cy="492.3" r="1.6"/>
<circle cx="167.9" cy="491.7" r="1.6"/>
<circle cx="168.8" cy="490.4" r="1.6"/>
<circle cx="169.6" cy="489.9" r="1.6"/>
<circle cx="170.8" cy="489.1" r="1.6"/>
<circle cx="172.0" cy="488.2" r="1.6"/>
<circle cx="172.7" cy="487.7" r="1.6"/>
<circle cx="173.6" cy="487.8" r="1.6"/>
<circle cx="174.6" cy="486.2" r="1.6"/>
<circle cx="175.2" cy="486.3" r="1.6"/>
<circle cx="176.5" cy="484.8" r="1.6"/>
<circle cx="177.2" cy="485.0" r="1.6"/>
<circle cx="178.2" cy="483.8" r="1.6"/>
<circle cx="179.1" cy="483.3" r="1.6"/>
<circle cx="180.1" cy="482.0" r="1.6"/>
<circle cx="181.0" cy="481.8" r="1.6"/>
<circle cx="181.6" cy="480.6" r="1.6"/>
<circle cx="182.4" cy="480.7" r="1.6"/>
<circle cx="183.6" cy="479.1" r="1.6"/>
<circle cx="184.3" cy="478.3" r="1.6"/>
<circle cx="185.2" cy="477.5" r="1.6"/>
<circle cx="186.3" cy="477.6" r="1.6"/>
<circle cx="187.7" cy="476.4" r="1.6"/>
<circle cx="188.4" cy="475.0" r="1.6"/>
<circle cx="189.6" cy="474.6" r="1.6"/>
<circle cx="190.6" cy="473.2" r="1.6"/>
<circle cx="191.3" cy="472.1" r="1.6"/>
<circle cx="192.7" cy="471.3" r="1.6"/>
<circle cx="193.3" cy="470.1" r="1.6"/>
<circle cx="194.5" cy="468.3" r="1.6"/>
<circle cx="195.8" cy="468.1" r="1.6"/>
<circle cx="197.5" cy="465.4" r="1.6"/>
<circle cx="199.2" cy="464.8" r="1.6"/>
<circle cx="200.7" cy="463.0" r="1.6"/>
<circle cx="201.9" cy="461.9" r="1.6"/>
<circle cx="203.0" cy="460.2" r="1.6"/>
<circle cx="204.2" cy="459.6" r="1.6"/>
<circle cx="205.0" cy="458.9" r="1.6"/>
<circle cx="206.4" cy="460.1" r="1.6"/>
<circle cx="207.5" cy="461.0" r="1.6"/>
<circle cx="208.9" cy="463.7" r="1.6"/>
<circle cx="209.8" cy="465.7" r="1.6"/>
<circle cx="211.0" cy="466.4" r="1.6"/>
<circle cx="212.3" cy="468.2" r="1.6"/>
<circle cx="213.7" cy="471.0" r="1.6"/>
<circle cx="215.2" cy="472.4" r="1.6"/>
<circle cx="216.4" cy="474.1" r="1.6"/>
<circle cx="217.6" cy="475.0" r="1.6"/>
<circle cx="218.7" cy="476.2" r="1.6"/>
<circle cx="219.4" cy="476.2" r="1.6"/>
<circle cx="220.6" cy="478.2" r="1.6"/>
<circle cx="221.5" cy="478.9" r="1.6"/>
<circle cx="222.9" cy="480.1" r="1.6"/>
<circle cx="223.6" cy="480.7" r="1.6"/>
<circle cx="224.8" cy="481.2" r="1.6"/>
<circle cx="226.4" cy="482.6" r="1.6"/>
<circle cx="227.6" cy="483.6" r="1.6"/>
<circle cx="228.8" cy="484.3" r="1.6"/>
<circle cx="230.1" cy="486.2" r="1.6"/>
<circle cx="231.7" cy="486.4" r="1.6"/>
<circle cx="232.8" cy="487.4" r="1.6"/>
<circle cx="234.6" cy="488.6" r="1.6"/>
<circle cx="236.1" cy="490.1" r="1.6"/>
<circle cx="237.3" cy="491.0" r="1.6"/>
<circle cx="238.8" cy="492.2" r="1.6"/>
<circle cx="239.7" cy="491.9" r="1.6"/>
<circle cx="240.9" cy="492.6" r="1.6"/>
<circle cx="241.3" cy="493.8" r="1.6"/>
<circle cx="242.4" cy="494.4" r="1.6"/>
<circle cx="243.1" cy="494.4" r="1.6"/>
<circle cx="244.3" cy="494.9" r="1.6"/>
<circle cx="245.2" cy="495.0" r="1.6"/>
<circle cx="246.0" cy="495.5" r="1.6"/>
<circle cx="246.7" cy="495.8" r="1.6"/>
<circle cx="247.4" cy="497.6" r="1.6"/>
<circle cx="248.5" cy="498.0" r="1.6"/>
<circle cx="249.3" cy="497.9" r="1.6"/>
<circle cx="250.1" cy="498.7" r="1.6"/>
<circle cx="251.5" cy="499.2" r="1.6"/>
<circle cx="252.2" cy="500.3" r="1.6"/>
<circle cx="253.4" cy="500.5" r="1.6"/>
<circle cx="253.9" cy="501.0" r="1.6"/>
<circle cx="255.0" cy="502.0" r="1.6"/>
<circle cx="255.9" cy="502.2" r="1.6"/>
<circle cx="257.0" cy="502.3" r="1.6"/>
<circle cx="257.9" cy="503.3" r="1.6"/>
<circle cx="259.0" cy="503.6" r="1.6"/>
<circle cx="259.6" cy="504.9" r="1.6"/>
<circle cx="260.4" cy="505.2" r="1.6"/>
<circle cx="261.6" cy="505.4" r="1.6"/>
<circle cx="262.4" cy="506.3" r="1.6"/>
<circle cx="263.6" cy="506.8" r="1.6"/>
<circle cx="264.4" cy="506.5" r="1.6"/>
<circle cx="265.1" cy="507.2" r="1.6"/>
<circle cx="266.4" cy="508.8" r="1.6"/>
<circle cx="266.8" cy="509.0" r="1.6"/>
<circle cx="268.0" cy="508.9" r="1.6"/>
<circle cx="268.8" cy="510.4" r="1.6"/>
<circle cx="269.8" cy="510.4" r="1.6"/>
<circle cx="270.8" cy="511.0" r="1.6"/>
<circle cx="271.6" cy="511.8" r="1.6"/>
<circle cx="272.8" cy="512.7" r="1.6"/>
<circle cx="273.6" cy="513.4" r="1.6"/>
<circle cx="274.3" cy="514.4" r="1.6"/>
<circle cx="275.4" cy="514.6" r="1.6"/>
<circle cx="276.0" cy="514.4" r="1.6"/>
<circle cx="277.1" cy="516.0" r="1.6"/>
<circle cx="278.2" cy="515.9" r="1.6"/>
<circle cx="278.7" cy="516.7" r="1.6"/>
<circle cx="280.0" cy="516.8" r="1.6"/>
<circle cx="280.9" cy="517.4" r="1.6"/>
<circle cx="281.5" cy="517.9" r="1.6"/>
<circle cx="282.4" cy="518.9" r="1.6"/>
<circle cx="283.7" cy="520.3" r="1.6"/>
<circle cx="284.2" cy="520.0" r="1.6"/>
<circle cx="285.5" cy="520.4" r="1.6"/>
<circle cx="286.1" cy="521.4" r="1.6"/>
<circle cx="286.9" cy="521.7" r="1.6"/>
<circle cx="288.0" cy="522.5" r="1.6"/>
<circle cx="289.2" cy="522.9" r="1.6"/>
<circle cx="289.7" cy="524.4" r="1.6"/>
<circle cx="290.7" cy="524.9" r="1.6"/>
<circle cx="291.7" cy="525.4" r="1.6"/>
<circle cx="292.5" cy="525.1" r="1.6"/>
<circle cx="293.6" cy="526.1" r="1.6"/>
<circle cx="294.4" cy="527.0" r="1.6"/>
<circle cx="295.4" cy="527.0" r="1.6"/>
<circle cx="296.1" cy="528.5" r="1.6"/>
<circle cx="297.1" cy="528.2" r="1.6"/>
<circle cx="298.1" cy="528.7" r="1.6"/>
<circle cx="299.2" cy="529.0" r="1.6"/>
<circle cx="300.1" cy="530.3" r="1.6"/>
<circle cx="300.8" cy="531.4" r="1.6"/>
<circle cx="301.8" cy="531.0" r="1.6"/>
<circle cx="302.6" cy="532.0" r="1.6"/>
<circle cx="304.0" cy="532.8" r="1.6"/>
<circle cx="304.8" cy="533.5" r="1.6"/>
<circle cx="305.6" cy="533.4" r="1.6"/>
<circle cx="306.8" cy="534.9" r="1.6"/>
<circle cx="307.7" cy="535.1" r="1.6"/>
<circle cx="308.7" cy="535.2" r="1.6"/>
<circle cx="309.7" cy="536.2" r="1.6"/>
<circle cx="310.3" cy="536.3" r="1.6"/>
<circle cx="311.4" cy="536.7" r="1.6"/>
<circle cx="311.9" cy="537.9" r="1.6"/>
<circle cx="312.9" cy="537.9" r="1.6"/>
<circle cx="314.5" cy="539.4" r="1.6"/>
<circle cx="315.6" cy="539.4" r="1.6"/>
<circle cx="316.9" cy="540.3" r="1.6"/>
<circle cx="318.5" cy="541.7" r="1.6"/>
<circle cx="319.8" cy="542.1" r="1.6"/>
<circle cx="320.8" cy="542.8" r="1.6"/>
<circle cx="321.8" cy="543.8" r="1.6"/>
<circle cx="323.0" cy="544.4" r="1.6"/>
<circle cx="323.5" cy="544.6" r="1.6"/>
<circle cx="324.9" cy="545.0" r="1.6"/>
</g>
<g fill="none" stroke="#e2604a" stroke-width="0.85">
<circle cx="85.2" cy="546.5" r="1.6"/>
<circle cx="85.2" cy="546.4" r="1.6"/>
<circle cx="86.0" cy="546.0" r="1.6"/>
<circle cx="86.6" cy="545.1" r="1.6"/>
<circle cx="88.2" cy="544.1" r="1.6"/>
<circle cx="89.6" cy="542.2" r="1.6"/>
<circle cx="90.6" cy="542.7" r="1.6"/>
<circle cx="91.4" cy="541.2" r="1.6"/>
<circle cx="92.4" cy="540.3" r="1.6"/>
<circle cx="93.7" cy="540.8" r="1.6"/>
<circle cx="94.9" cy="539.2" r="1.6"/>
<circle cx="95.9" cy="538.0" r="1.6"/>
<circle cx="97.2" cy="537.6" r="1.6"/>
<circle cx="97.8" cy="537.2" r="1.6"/>
<circle cx="99.1" cy="535.9" r="1.6"/>
<circle cx="100.2" cy="535.4" r="1.6"/>
<circle cx="101.6" cy="535.1" r="1.6"/>
<circle cx="102.5" cy="534.4" r="1.6"/>
<circle cx="103.6" cy="532.8" r="1.6"/>
<circle cx="105.0" cy="532.2" r="1.6"/>
<circle cx="105.8" cy="531.9" r="1.6"/>
<circle cx="106.7" cy="531.5" r="1.6"/>
<circle cx="107.7" cy="530.9" r="1.6"/>
<circle cx="109.0" cy="529.9" r="1.6"/>
<circle cx="109.5" cy="529.6" r="1.6"/>
<circle cx="110.4" cy="528.6" r="1.6"/>
<circle cx="111.5" cy="527.4" r="1.6"/>
<circle cx="112.5" cy="527.7" r="1.6"/>
<circle cx="113.4" cy="526.7" r="1.6"/>
<circle cx="114.2" cy="526.4" r="1.6"/>
<circle cx="115.0" cy="526.2" r="1.6"/>
<circle cx="116.3" cy="525.5" r="1.6"/>
<circle cx="117.1" cy="524.3" r="1.6"/>
<circle cx="118.0" cy="523.3" r="1.6"/>
<circle cx="118.7" cy="522.8" r="1.6"/>
<circle cx="119.5" cy="523.0" r="1.6"/>
<circle cx="120.6" cy="522.1" r="1.6"/>
<circle cx="121.3" cy="521.2" r="1.6"/>
<circle cx="122.2" cy="520.8" r="1.6"/>
<circle cx="123.0" cy="520.8" r="1.6"/>
<circle cx="124.2" cy="519.8" r="1.6"/>
<circle cx="124.9" cy="519.6" r="1.6"/>
<circle cx="125.9" cy="518.4" r="1.6"/>
<circle cx="127.1" cy="518.4" r="1.6"/>
<circle cx="128.3" cy="517.9" r="1.6"/>
<circle cx="129.3" cy="517.5" r="1.6"/>
<circle cx="130.1" cy="516.7" r="1.6"/>
<circle cx="130.7" cy="515.4" r="1.6"/>
<circle cx="131.7" cy="515.7" r="1.6"/>
<circle cx="133.1" cy="514.8" r="1.6"/>
<circle cx="133.9" cy="513.8" r="1.6"/>
<circle cx="134.8" cy="513.6" r="1.6"/>
<circle cx="136.3" cy="512.5" r="1.6"/>
<circle cx="136.8" cy="511.8" r="1.6"/>
<circle cx="138.0" cy="512.2" r="1.6"/>
<circle cx="139.3" cy="511.0" r="1.6"/>
<circle cx="139.9" cy="509.9" r="1.6"/>
<circle cx="141.0" cy="510.2" r="1.6"/>
<circle cx="142.2" cy="509.9" r="1.6"/>
<circle cx="143.4" cy="509.0" r="1.6"/>
<circle cx="144.2" cy="508.5" r="1.6"/>
<circle cx="145.0" cy="506.9" r="1.6"/>
<circle cx="146.2" cy="506.8" r="1.6"/>
<circle cx="147.0" cy="505.8" r="1.6"/>
<circle cx="148.0" cy="506.1" r="1.6"/>
<circle cx="149.4" cy="505.6" r="1.6"/>
<circle cx="150.5" cy="504.2" r="1.6"/>
<circle cx="151.4" cy="503.5" r="1.6"/>
<circle cx="152.4" cy="503.5" r="1.6"/>
<circle cx="153.1" cy="501.7" r="1.6"/>
<circle cx="154.1" cy="501.9" r="1.6"/>
<circle cx="155.2" cy="500.5" r="1.6"/>
<circle cx="156.5" cy="500.9" r="1.6"/>
<circle cx="157.3" cy="499.3" r="1.6"/>
<circle cx="158.5" cy="499.3" r="1.6"/>
<circle cx="159.1" cy="498.4" r="1.6"/>
<circle cx="160.4" cy="498.5" r="1.6"/>
<circle cx="161.3" cy="497.5" r="1.6"/>
<circle cx="162.1" cy="496.3" r="1.6"/>
<circle cx="163.5" cy="495.8" r="1.6"/>
<circle cx="164.0" cy="495.5" r="1.6"/>
<circle cx="165.0" cy="494.3" r="1.6"/>
<circle cx="166.1" cy="494.2" r="1.6"/>
<circle cx="167.2" cy="493.7" r="1.6"/>
<circle cx="168.0" cy="492.1" r="1.6"/>
<circle cx="169.1" cy="491.5" r="1.6"/>
<circle cx="169.9" cy="491.3" r="1.6"/>
<circle cx="170.9" cy="491.1" r="1.6"/>
<circle cx="171.6" cy="490.4" r="1.6"/>
<circle cx="172.8" cy="489.5" r="1.6"/>
<circle cx="173.4" cy="489.4" r="1.6"/>
<circle cx="174.5" cy="487.6" r="1.6"/>
<circle cx="175.2" cy="488.2" r="1.6"/>
<circle cx="176.1" cy="486.7" r="1.6"/>
<circle cx="177.3" cy="486.6" r="1.6"/>
<circle cx="178.1" cy="485.8" r="1.6"/>
<circle cx="178.7" cy="484.2" r="1.6"/>
<circle cx="180.1" cy="484.5" r="1.6"/>
<circle cx="180.5" cy="482.7" r="1.6"/>
<circle cx="181.5" cy="483.2" r="1.6"/>
<circle cx="182.4" cy="482.0" r="1.6"/>
<circle cx="183.7" cy="481.2" r="1.6"/>
<circle cx="184.7" cy="479.8" r="1.6"/>
<circle cx="185.2" cy="478.6" r="1.6"/>
<circle cx="186.5" cy="477.8" r="1.6"/>
<circle cx="187.7" cy="477.7" r="1.6"/>
<circle cx="188.2" cy="476.8" r="1.6"/>
<circle cx="189.3" cy="475.4" r="1.6"/>
<circle cx="190.3" cy="474.8" r="1.6"/>
<circle cx="191.7" cy="473.9" r="1.6"/>
<circle cx="192.3" cy="472.8" r="1.6"/>
<circle cx="193.6" cy="471.7" r="1.6"/>
<circle cx="194.5" cy="470.4" r="1.6"/>
<circle cx="195.6" cy="469.6" r="1.6"/>
<circle cx="197.1" cy="466.7" r="1.6"/>
<circle cx="199.1" cy="465.3" r="1.6"/>
<circle cx="200.4" cy="463.4" r="1.6"/>
<circle cx="201.8" cy="462.2" r="1.6"/>
<circle cx="203.2" cy="462.1" r="1.6"/>
<circle cx="204.0" cy="460.0" r="1.6"/>
<circle cx="204.9" cy="460.2" r="1.6"/>
<circle cx="206.1" cy="460.9" r="1.6"/>
<circle cx="207.5" cy="463.0" r="1.6"/>
<circle cx="208.5" cy="464.1" r="1.6"/>
<circle cx="210.1" cy="467.1" r="1.6"/>
<circle cx="211.3" cy="467.7" r="1.6"/>
<circle cx="212.3" cy="469.7" r="1.6"/>
<circle cx="213.8" cy="471.3" r="1.6"/>
<circle cx="215.1" cy="474.2" r="1.6"/>
<circle cx="216.6" cy="474.4" r="1.6"/>
<circle cx="217.2" cy="475.6" r="1.6"/>
<circle cx="218.5" cy="477.3" r="1.6"/>
<circle cx="219.5" cy="478.1" r="1.6"/>
<circle cx="220.4" cy="479.3" r="1.6"/>
<circle cx="221.7" cy="480.7" r="1.6"/>
<circle cx="222.8" cy="481.5" r="1.6"/>
<circle cx="224.1" cy="482.6" r="1.6"/>
<circle cx="225.2" cy="482.4" r="1.6"/>
<circle cx="226.4" cy="484.6" r="1.6"/>
<circle cx="227.5" cy="485.6" r="1.6"/>
<circle cx="228.7" cy="486.7" r="1.6"/>
<circle cx="230.2" cy="487.4" r="1.6"/>
<circle cx="231.5" cy="487.8" r="1.6"/>
<circle cx="232.9" cy="488.8" r="1.6"/>
<circle cx="234.3" cy="490.0" r="1.6"/>
<circle cx="236.2" cy="491.3" r="1.6"/>
<circle cx="237.8" cy="492.5" r="1.6"/>
<circle cx="239.3" cy="493.8" r="1.6"/>
<circle cx="240.0" cy="493.3" r="1.6"/>
<circle cx="240.5" cy="494.1" r="1.6"/>
<circle cx="241.2" cy="494.3" r="1.6"/>
<circle cx="242.5" cy="495.8" r="1.6"/>
<circle cx="243.1" cy="496.1" r="1.6"/>
<circle cx="244.2" cy="496.8" r="1.6"/>
<circle cx="245.1" cy="496.9" r="1.6"/>
<circle cx="245.6" cy="497.8" r="1.6"/>
<circle cx="246.6" cy="498.1" r="1.6"/>
<circle cx="247.5" cy="498.5" r="1.6"/>
<circle cx="248.8" cy="498.5" r="1.6"/>
<circle cx="249.5" cy="499.7" r="1.6"/>
<circle cx="250.4" cy="500.7" r="1.6"/>
<circle cx="251.3" cy="501.2" r="1.6"/>
<circle cx="252.3" cy="501.8" r="1.6"/>
<circle cx="252.9" cy="501.3" r="1.6"/>
<circle cx="254.0" cy="502.8" r="1.6"/>
<circle cx="254.8" cy="502.5" r="1.6"/>
<circle cx="256.1" cy="504.0" r="1.6"/>
<circle cx="256.7" cy="503.8" r="1.6"/>
<circle cx="258.0" cy="504.7" r="1.6"/>
<circle cx="258.9" cy="505.4" r="1.6"/>
<circle cx="259.6" cy="505.3" r="1.6"/>
<circle cx="260.3" cy="506.4" r="1.6"/>
<circle cx="261.4" cy="506.4" r="1.6"/>
<circle cx="262.7" cy="507.5" r="1.6"/>
<circle cx="263.4" cy="508.1" r="1.6"/>
<circle cx="264.3" cy="508.8" r="1.6"/>
<circle cx="265.1" cy="508.5" r="1.6"/>
<circle cx="265.9" cy="509.0" r="1.6"/>
<circle cx="266.9" cy="509.8" r="1.6"/>
<circle cx="267.7" cy="510.9" r="1.6"/>
<circle cx="269.1" cy="511.8" r="1.6"/>
<circle cx="269.6" cy="512.5" r="1.6"/>
<circle cx="270.5" cy="512.1" r="1.6"/>
<circle cx="271.5" cy="513.2" r="1.6"/>
<circle cx="272.6" cy="513.8" r="1.6"/>
<circle cx="273.6" cy="513.9" r="1.6"/>
<circle cx="274.6" cy="514.9" r="1.6"/>
<circle cx="275.4" cy="515.1" r="1.6"/>
<circle cx="276.4" cy="515.9" r="1.6"/>
<circle cx="277.3" cy="517.3" r="1.6"/>
<circle cx="278.1" cy="517.2" r="1.6"/>
<circle cx="278.6" cy="517.7" r="1.6"/>
<circle cx="280.1" cy="518.2" r="1.6"/>
<circle cx="280.8" cy="519.4" r="1.6"/>
<circle cx="281.7" cy="519.4" r="1.6"/>
<circle cx="282.4" cy="519.9" r="1.6"/>
<circle cx="283.7" cy="520.9" r="1.6"/>
<circle cx="284.5" cy="521.8" r="1.6"/>
<circle cx="285.1" cy="521.7" r="1.6"/>
<circle cx="285.9" cy="523.4" r="1.6"/>
<circle cx="286.9" cy="524.1" r="1.6"/>
<circle cx="287.9" cy="524.4" r="1.6"/>
<circle cx="288.7" cy="525.1" r="1.6"/>
<circle cx="289.7" cy="525.1" r="1.6"/>
<circle cx="290.8" cy="525.3" r="1.6"/>
<circle cx="291.5" cy="526.8" r="1.6"/>
<circle cx="292.4" cy="526.8" r="1.6"/>
<circle cx="293.6" cy="527.2" r="1.6"/>
<circle cx="294.2" cy="527.8" r="1.6"/>
<circle cx="295.2" cy="528.5" r="1.6"/>
<circle cx="296.3" cy="529.3" r="1.6"/>
<circle cx="297.3" cy="529.2" r="1.6"/>
<circle cx="298.1" cy="530.9" r="1.6"/>
<circle cx="298.9" cy="530.4" r="1.6"/>
<circle cx="299.9" cy="531.1" r="1.6"/>
<circle cx="300.9" cy="532.5" r="1.6"/>
<circle cx="301.7" cy="532.2" r="1.6"/>
<circle cx="302.9" cy="532.9" r="1.6"/>
<circle cx="303.7" cy="533.9" r="1.6"/>
<circle cx="304.6" cy="533.9" r="1.6"/>
<circle cx="305.7" cy="535.0" r="1.6"/>
<circle cx="307.0" cy="535.7" r="1.6"/>
<circle cx="307.4" cy="535.8" r="1.6"/>
<circle cx="308.7" cy="536.8" r="1.6"/>
<circle cx="309.7" cy="537.9" r="1.6"/>
<circle cx="310.6" cy="537.3" r="1.6"/>
<circle cx="311.5" cy="538.4" r="1.6"/>
<circle cx="311.9" cy="538.4" r="1.6"/>
<circle cx="313.1" cy="538.9" r="1.6"/>
<circle cx="314.2" cy="539.9" r="1.6"/>
<circle cx="316.1" cy="541.0" r="1.6"/>
<circle cx="317.3" cy="541.3" r="1.6"/>
<circle cx="318.4" cy="542.4" r="1.6"/>
<circle cx="319.5" cy="543.6" r="1.6"/>
<circle cx="320.8" cy="543.5" r="1.6"/>
<circle cx="322.2" cy="544.7" r="1.6"/>
<circle cx="322.7" cy="544.6" r="1.6"/>
<circle cx="323.8" cy="545.8" r="1.6"/>
<circle cx="324.5" cy="546.4" r="1.6"/>
</g>
</g>
<g clip-path="url(#cl5)">
<g fill="none" stroke="#f2b088" stroke-width="0.85">
<circle cx="85.1" cy="654.1" r="1.6"/>
<circle cx="85.3" cy="653.9" r="1.6"/>
<circle cx="86.4" cy="653.8" r="1.6"/>
<circle cx="87.1" cy="653.6" r="1.6"/>
<circle cx="88.7" cy="653.1" r="1.6"/>
<circle cx="90.0" cy="652.0" r="1.6"/>
<circle cx="91.6" cy="651.2" r="1.6"/>
<circle cx="92.1" cy="651.4" r="1.6"/>
<circle cx="93.3" cy="650.4" r="1.6"/>
<circle cx="93.8" cy="650.0" r="1.6"/>
<circle cx="94.8" cy="649.8" r="1.6"/>
<circle cx="95.6" cy="650.3" r="1.6"/>
<circle cx="96.8" cy="650.2" r="1.6"/>
<circle cx="97.6" cy="649.4" r="1.6"/>
<circle cx="98.4" cy="649.4" r="1.6"/>
<circle cx="99.4" cy="648.4" r="1.6"/>
<circle cx="100.5" cy="648.7" r="1.6"/>
<circle cx="101.4" cy="648.4" r="1.6"/>
<circle cx="102.4" cy="647.0" r="1.6"/>
<circle cx="103.4" cy="646.6" r="1.6"/>
<circle cx="104.4" cy="646.6" r="1.6"/>
<circle cx="104.8" cy="647.0" r="1.6"/>
<circle cx="105.7" cy="645.8" r="1.6"/>
<circle cx="106.7" cy="645.9" r="1.6"/>
<circle cx="107.4" cy="645.1" r="1.6"/>
<circle cx="108.4" cy="645.4" r="1.6"/>
<circle cx="109.2" cy="644.7" r="1.6"/>
<circle cx="110.3" cy="644.2" r="1.6"/>
<circle cx="111.3" cy="644.2" r="1.6"/>
<circle cx="112.0" cy="643.2" r="1.6"/>
<circle cx="113.0" cy="643.8" r="1.6"/>
<circle cx="113.9" cy="642.3" r="1.6"/>
<circle cx="115.0" cy="642.5" r="1.6"/>
<circle cx="116.2" cy="641.4" r="1.6"/>
<circle cx="116.7" cy="641.2" r="1.6"/>
<circle cx="117.9" cy="641.2" r="1.6"/>
<circle cx="118.7" cy="641.4" r="1.6"/>
<circle cx="119.8" cy="641.0" r="1.6"/>
<circle cx="120.8" cy="639.8" r="1.6"/>
<circle cx="121.7" cy="639.6" r="1.6"/>
<circle cx="122.2" cy="639.9" r="1.6"/>
<circle cx="123.1" cy="638.2" r="1.6"/>
<circle cx="124.1" cy="638.1" r="1.6"/>
<circle cx="125.4" cy="638.5" r="1.6"/>
<circle cx="126.0" cy="637.6" r="1.6"/>
<circle cx="127.2" cy="637.5" r="1.6"/>
<circle cx="128.0" cy="636.7" r="1.6"/>
<circle cx="128.6" cy="635.8" r="1.6"/>
<circle cx="129.8" cy="635.8" r="1.6"/>
<circle cx="130.8" cy="635.8" r="1.6"/>
<circle cx="131.8" cy="634.4" r="1.6"/>
<circle cx="132.2" cy="634.9" r="1.6"/>
<circle cx="133.4" cy="633.4" r="1.6"/>
<circle cx="134.3" cy="633.0" r="1.6"/>
<circle cx="135.0" cy="632.7" r="1.6"/>
<circle cx="136.1" cy="632.7" r="1.6"/>
<circle cx="136.7" cy="632.3" r="1.6"/>
<circle cx="137.9" cy="631.5" r="1.6"/>
<circle cx="138.9" cy="631.5" r="1.6"/>
<circle cx="139.4" cy="630.6" r="1.6"/>
<circle cx="140.7" cy="630.4" r="1.6"/>
<circle cx="141.6" cy="629.2" r="1.6"/>
<circle cx="142.7" cy="629.6" r="1.6"/>
<circle cx="143.3" cy="628.7" r="1.6"/>
<circle cx="144.6" cy="627.9" r="1.6"/>
<circle cx="145.3" cy="628.5" r="1.6"/>
<circle cx="146.5" cy="627.0" r="1.6"/>
<circle cx="147.3" cy="626.8" r="1.6"/>
<circle cx="148.2" cy="626.9" r="1.6"/>
<circle cx="148.9" cy="625.7" r="1.6"/>
<circle cx="149.9" cy="625.3" r="1.6"/>
<circle cx="150.7" cy="624.6" r="1.6"/>
<circle cx="151.8" cy="624.6" r="1.6"/>
<circle cx="152.5" cy="624.3" r="1.6"/>
<circle cx="153.9" cy="623.9" r="1.6"/>
<circle cx="154.5" cy="623.6" r="1.6"/>
<circle cx="155.4" cy="622.4" r="1.6"/>
<circle cx="156.3" cy="621.7" r="1.6"/>
<circle cx="157.3" cy="621.5" r="1.6"/>
<circle cx="157.9" cy="622.1" r="1.6"/>
<circle cx="159.0" cy="621.5" r="1.6"/>
<circle cx="159.7" cy="620.8" r="1.6"/>
<circle cx="160.5" cy="620.8" r="1.6"/>
<circle cx="161.0" cy="620.1" r="1.6"/>
<circle cx="162.6" cy="618.4" r="1.6"/>
<circle cx="164.4" cy="618.0" r="1.6"/>
<circle cx="165.9" cy="617.5" r="1.6"/>
<circle cx="167.2" cy="615.6" r="1.6"/>
<circle cx="168.3" cy="615.2" r="1.6"/>
<circle cx="170.0" cy="613.9" r="1.6"/>
<circle cx="171.0" cy="612.6" r="1.6"/>
<circle cx="172.3" cy="612.7" r="1.6"/>
<circle cx="173.5" cy="611.1" r="1.6"/>
<circle cx="174.8" cy="610.9" r="1.6"/>
<circle cx="176.4" cy="609.1" r="1.6"/>
<circle cx="177.0" cy="609.5" r="1.6"/>
<circle cx="178.6" cy="607.5" r="1.6"/>
<circle cx="179.3" cy="607.2" r="1.6"/>
<circle cx="180.3" cy="606.1" r="1.6"/>
<circle cx="181.5" cy="604.9" r="1.6"/>
<circle cx="182.2" cy="603.7" r="1.6"/>
<circle cx="183.3" cy="602.6" r="1.6"/>
<circle cx="185.1" cy="601.8" r="1.6"/>
<circle cx="186.4" cy="600.1" r="1.6"/>
<circle cx="188.1" cy="597.5" r="1.6"/>
<circle cx="189.3" cy="595.3" r="1.6"/>
<circle cx="190.9" cy="593.8" r="1.6"/>
<circle cx="191.6" cy="591.3" r="1.6"/>
<circle cx="193.4" cy="589.1" r="1.6"/>
<circle cx="194.7" cy="586.3" r="1.6"/>
<circle cx="196.1" cy="583.9" r="1.6"/>
<circle cx="197.0" cy="580.4" r="1.6"/>
<circle cx="198.2" cy="577.3" r="1.6"/>
<circle cx="199.5" cy="574.1" r="1.6"/>
<circle cx="200.2" cy="569.7" r="1.6"/>
<circle cx="201.4" cy="566.7" r="1.6"/>
<circle cx="202.0" cy="562.8" r="1.6"/>
<circle cx="203.1" cy="559.4" r="1.6"/>
<circle cx="204.1" cy="556.3" r="1.6"/>
<circle cx="204.4" cy="555.4" r="1.6"/>
<circle cx="205.8" cy="559.4" r="1.6"/>
<circle cx="206.3" cy="563.5" r="1.6"/>
<circle cx="207.1" cy="566.8" r="1.6"/>
<circle cx="208.1" cy="571.4" r="1.6"/>
<circle cx="208.8" cy="575.3" r="1.6"/>
<circle cx="209.4" cy="577.8" r="1.6"/>
<circle cx="210.5" cy="581.0" r="1.6"/>
<circle cx="211.2" cy="584.0" r="1.6"/>
<circle cx="212.7" cy="587.8" r="1.6"/>
<circle cx="213.9" cy="590.9" r="1.6"/>
<circle cx="215.3" cy="592.8" r="1.6"/>
<circle cx="216.2" cy="595.5" r="1.6"/>
<circle cx="217.2" cy="597.4" r="1.6"/>
<circle cx="218.5" cy="598.6" r="1.6"/>
<circle cx="220.1" cy="600.6" r="1.6"/>
<circle cx="221.7" cy="603.4" r="1.6"/>
<circle cx="222.6" cy="603.8" r="1.6"/>
<circle cx="223.6" cy="605.6" r="1.6"/>
<circle cx="225.1" cy="606.7" r="1.6"/>
<circle cx="226.1" cy="607.9" r="1.6"/>
<circle cx="227.1" cy="608.2" r="1.6"/>
<circle cx="227.7" cy="609.5" r="1.6"/>
<circle cx="229.0" cy="610.2" r="1.6"/>
<circle cx="230.2" cy="611.1" r="1.6"/>
<circle cx="231.1" cy="612.3" r="1.6"/>
<circle cx="232.5" cy="613.6" r="1.6"/>
<circle cx="233.5" cy="614.1" r="1.6"/>
<circle cx="235.0" cy="615.7" r="1.6"/>
<circle cx="236.1" cy="615.4" r="1.6"/>
<circle cx="237.3" cy="617.1" r="1.6"/>
<circle cx="238.5" cy="617.2" r="1.6"/>
<circle cx="240.3" cy="619.3" r="1.6"/>
<circle cx="241.2" cy="619.6" r="1.6"/>
<circle cx="242.9" cy="620.3" r="1.6"/>
<circle cx="244.1" cy="621.8" r="1.6"/>
<circle cx="246.0" cy="622.3" r="1.6"/>
<circle cx="247.2" cy="623.1" r="1.6"/>
<circle cx="248.0" cy="624.4" r="1.6"/>
<circle cx="248.7" cy="623.9" r="1.6"/>
<circle cx="249.9" cy="624.1" r="1.6"/>
<circle cx="250.4" cy="624.5" r="1.6"/>
<circle cx="251.2" cy="625.6" r="1.6"/>
<circle cx="252.5" cy="625.6" r="1.6"/>
<circle cx="253.0" cy="626.9" r="1.6"/>
<circle cx="254.0" cy="626.7" r="1.6"/>
<circle cx="254.7" cy="627.1" r="1.6"/>
<circle cx="256.1" cy="627.4" r="1.6"/>
<circle cx="256.6" cy="628.7" r="1.6"/>
<circle cx="257.8" cy="629.4" r="1.6"/>
<circle cx="258.5" cy="630.0" r="1.6"/>
<circle cx="259.5" cy="629.5" r="1.6"/>
<circle cx="260.4" cy="630.6" r="1.6"/>
<circle cx="261.5" cy="630.2" r="1.6"/>
<circle cx="262.1" cy="631.9" r="1.6"/>
<circle cx="263.0" cy="632.1" r="1.6"/>
<circle cx="264.1" cy="631.8" r="1.6"/>
<circle cx="265.0" cy="632.5" r="1.6"/>
<circle cx="266.3" cy="632.5" r="1.6"/>
<circle cx="267.2" cy="633.2" r="1.6"/>
<circle cx="267.7" cy="634.2" r="1.6"/>
<circle cx="268.7" cy="633.9" r="1.6"/>
<circle cx="269.7" cy="635.2" r="1.6"/>
<circle cx="270.8" cy="635.2" r="1.6"/>
<circle cx="271.3" cy="635.9" r="1.6"/>
<circle cx="272.5" cy="636.5" r="1.6"/>
<circle cx="273.6" cy="636.0" r="1.6"/>
<circle cx="274.5" cy="637.1" r="1.6"/>
<circle cx="275.1" cy="636.8" r="1.6"/>
<circle cx="276.0" cy="637.2" r="1.6"/>
<circle cx="277.0" cy="637.2" r="1.6"/>
<circle cx="277.8" cy="638.7" r="1.6"/>
<circle cx="278.8" cy="638.7" r="1.6"/>
<circle cx="280.0" cy="639.2" r="1.6"/>
<circle cx="280.6" cy="639.8" r="1.6"/>
<circle cx="281.8" cy="640.2" r="1.6"/>
<circle cx="282.7" cy="640.2" r="1.6"/>
<circle cx="283.6" cy="639.9" r="1.6"/>
<circle cx="284.4" cy="640.4" r="1.6"/>
<circle cx="285.5" cy="640.4" r="1.6"/>
<circle cx="286.2" cy="641.0" r="1.6"/>
<circle cx="287.3" cy="641.4" r="1.6"/>
<circle cx="288.2" cy="642.4" r="1.6"/>
<circle cx="289.1" cy="641.8" r="1.6"/>
<circle cx="290.1" cy="643.0" r="1.6"/>
<circle cx="290.9" cy="643.2" r="1.6"/>
<circle cx="291.4" cy="643.8" r="1.6"/>
<circle cx="292.6" cy="643.6" r="1.6"/>
<circle cx="293.4" cy="644.3" r="1.6"/>
<circle cx="294.6" cy="644.8" r="1.6"/>
<circle cx="295.2" cy="644.4" r="1.6"/>
<circle cx="296.1" cy="644.4" r="1.6"/>
<circle cx="297.1" cy="644.6" r="1.6"/>
<circle cx="298.3" cy="645.2" r="1.6"/>
<circle cx="298.8" cy="645.3" r="1.6"/>
<circle cx="300.0" cy="645.8" r="1.6"/>
<circle cx="300.8" cy="646.4" r="1.6"/>
<circle cx="301.9" cy="647.4" r="1.6"/>
<circle cx="302.5" cy="647.3" r="1.6"/>
<circle cx="303.7" cy="647.4" r="1.6"/>
<circle cx="304.6" cy="648.0" r="1.6"/>
<circle cx="305.2" cy="648.5" r="1.6"/>
<circle cx="306.2" cy="647.7" r="1.6"/>
<circle cx="307.2" cy="649.1" r="1.6"/>
<circle cx="308.1" cy="648.9" r="1.6"/>
<circle cx="309.0" cy="649.8" r="1.6"/>
<circle cx="310.1" cy="649.1" r="1.6"/>
<circle cx="310.9" cy="649.6" r="1.6"/>
<circle cx="312.3" cy="650.4" r="1.6"/>
<circle cx="312.8" cy="651.0" r="1.6"/>
<circle cx="313.7" cy="650.9" r="1.6"/>
<circle cx="314.9" cy="651.4" r="1.6"/>
<circle cx="315.8" cy="650.8" r="1.6"/>
<circle cx="316.8" cy="652.1" r="1.6"/>
<circle cx="317.8" cy="651.7" r="1.6"/>
<circle cx="318.4" cy="652.5" r="1.6"/>
<circle cx="319.5" cy="652.0" r="1.6"/>
<circle cx="321.0" cy="653.5" r="1.6"/>
<circle cx="322.0" cy="653.1" r="1.6"/>
<circle cx="323.2" cy="654.1" r="1.6"/>
<circle cx="323.9" cy="653.6" r="1.6"/>
<circle cx="324.8" cy="654.5" r="1.6"/>
</g>
<g fill="none" stroke="#e2604a" stroke-width="0.85">
<circle cx="84.8" cy="655.5" r="1.6"/>
<circle cx="85.5" cy="655.5" r="1.6"/>
<circle cx="86.2" cy="655.6" r="1.6"/>
<circle cx="87.6" cy="654.7" r="1.6"/>
<circle cx="88.6" cy="653.7" r="1.6"/>
<circle cx="90.1" cy="653.7" r="1.6"/>
<circle cx="91.5" cy="653.5" r="1.6"/>
<circle cx="92.1" cy="653.3" r="1.6"/>
<circle cx="92.9" cy="651.7" r="1.6"/>
<circle cx="94.0" cy="652.6" r="1.6"/>
<circle cx="95.1" cy="652.3" r="1.6"/>
<circle cx="95.8" cy="651.9" r="1.6"/>
<circle cx="96.8" cy="650.4" r="1.6"/>
<circle cx="97.8" cy="651.0" r="1.6"/>
<circle cx="98.6" cy="650.3" r="1.6"/>
<circle cx="99.4" cy="649.5" r="1.6"/>
<circle cx="100.5" cy="649.5" r="1.6"/>
<circle cx="101.4" cy="648.5" r="1.6"/>
<circle cx="102.0" cy="648.5" r="1.6"/>
<circle cx="103.3" cy="648.7" r="1.6"/>
<circle cx="103.9" cy="647.7" r="1.6"/>
<circle cx="105.0" cy="647.3" r="1.6"/>
<circle cx="105.9" cy="647.9" r="1.6"/>
<circle cx="106.6" cy="647.1" r="1.6"/>
<circle cx="107.8" cy="647.0" r="1.6"/>
<circle cx="108.7" cy="646.6" r="1.6"/>
<circle cx="109.3" cy="646.5" r="1.6"/>
<circle cx="110.6" cy="645.0" r="1.6"/>
<circle cx="111.6" cy="645.2" r="1.6"/>
<circle cx="112.0" cy="644.3" r="1.6"/>
<circle cx="113.3" cy="644.8" r="1.6"/>
<circle cx="113.9" cy="644.1" r="1.6"/>
<circle cx="115.1" cy="644.5" r="1.6"/>
<circle cx="115.9" cy="643.8" r="1.6"/>
<circle cx="116.7" cy="642.7" r="1.6"/>
<circle cx="117.6" cy="642.6" r="1.6"/>
<circle cx="118.8" cy="642.0" r="1.6"/>
<circle cx="119.5" cy="641.5" r="1.6"/>
<circle cx="120.4" cy="641.1" r="1.6"/>
<circle cx="121.4" cy="641.1" r="1.6"/>
<circle cx="122.2" cy="640.7" r="1.6"/>
<circle cx="123.3" cy="640.9" r="1.6"/>
<circle cx="124.2" cy="640.5" r="1.6"/>
<circle cx="125.1" cy="639.0" r="1.6"/>
<circle cx="126.1" cy="638.5" r="1.6"/>
<circle cx="126.8" cy="637.9" r="1.6"/>
<circle cx="128.0" cy="638.7" r="1.6"/>
<circle cx="128.7" cy="637.4" r="1.6"/>
<circle cx="129.6" cy="636.9" r="1.6"/>
<circle cx="130.7" cy="636.5" r="1.6"/>
<circle cx="131.3" cy="636.7" r="1.6"/>
<circle cx="132.5" cy="635.0" r="1.6"/>
<circle cx="133.5" cy="635.6" r="1.6"/>
<circle cx="134.2" cy="635.0" r="1.6"/>
<circle cx="135.4" cy="634.2" r="1.6"/>
<circle cx="136.0" cy="633.6" r="1.6"/>
<circle cx="137.0" cy="633.6" r="1.6"/>
<circle cx="138.0" cy="633.5" r="1.6"/>
<circle cx="138.6" cy="632.3" r="1.6"/>
<circle cx="139.9" cy="632.4" r="1.6"/>
<circle cx="140.7" cy="631.8" r="1.6"/>
<circle cx="141.5" cy="631.7" r="1.6"/>
<circle cx="142.5" cy="630.5" r="1.6"/>
<circle cx="143.2" cy="629.6" r="1.6"/>
<circle cx="144.6" cy="630.1" r="1.6"/>
<circle cx="145.0" cy="629.0" r="1.6"/>
<circle cx="146.2" cy="628.8" r="1.6"/>
<circle cx="147.1" cy="628.9" r="1.6"/>
<circle cx="148.1" cy="627.9" r="1.6"/>
<circle cx="149.3" cy="627.6" r="1.6"/>
<circle cx="150.0" cy="626.8" r="1.6"/>
<circle cx="150.9" cy="626.7" r="1.6"/>
<circle cx="152.0" cy="625.7" r="1.6"/>
<circle cx="152.7" cy="625.5" r="1.6"/>
<circle cx="153.6" cy="625.8" r="1.6"/>
<circle cx="154.6" cy="624.4" r="1.6"/>
<circle cx="155.4" cy="624.7" r="1.6"/>
<circle cx="156.1" cy="624.1" r="1.6"/>
<circle cx="156.9" cy="622.9" r="1.6"/>
<circle cx="157.8" cy="623.3" r="1.6"/>
<circle cx="158.6" cy="622.1" r="1.6"/>
<circle cx="159.4" cy="621.7" r="1.6"/>
<circle cx="160.5" cy="621.8" r="1.6"/>
<circle cx="161.4" cy="621.7" r="1.6"/>
<circle cx="162.8" cy="620.8" r="1.6"/>
<circle cx="164.0" cy="619.9" r="1.6"/>
<circle cx="165.7" cy="617.9" r="1.6"/>
<circle cx="167.3" cy="617.9" r="1.6"/>
<circle cx="168.5" cy="616.0" r="1.6"/>
<circle cx="170.1" cy="616.0" r="1.6"/>
<circle cx="171.3" cy="615.4" r="1.6"/>
<circle cx="172.2" cy="613.2" r="1.6"/>
<circle cx="173.5" cy="612.2" r="1.6"/>
<circle cx="175.1" cy="612.2" r="1.6"/>
<circle cx="175.9" cy="610.7" r="1.6"/>
<circle cx="177.1" cy="610.4" r="1.6"/>
<circle cx="178.4" cy="610.1" r="1.6"/>
<circle cx="179.3" cy="609.2" r="1.6"/>
<circle cx="180.4" cy="607.5" r="1.6"/>
<circle cx="181.3" cy="606.3" r="1.6"/>
<circle cx="182.8" cy="606.4" r="1.6"/>
<circle cx="183.6" cy="604.1" r="1.6"/>
<circle cx="184.8" cy="602.4" r="1.6"/>
<circle cx="186.4" cy="601.4" r="1.6"/>
<circle cx="187.7" cy="599.2" r="1.6"/>
<circle cx="189.4" cy="596.5" r="1.6"/>
<circle cx="190.6" cy="595.6" r="1.6"/>
<circle cx="191.9" cy="593.1" r="1.6"/>
<circle cx="193.5" cy="590.8" r="1.6"/>
<circle cx="194.5" cy="587.9" r="1.6"/>
<circle cx="196.2" cy="585.4" r="1.6"/>
<circle cx="197.4" cy="581.7" r="1.6"/>
<circle cx="198.1" cy="578.0" r="1.6"/>
<circle cx="199.3" cy="575.4" r="1.6"/>
<circle cx="200.0" cy="572.1" r="1.6"/>
<circle cx="201.4" cy="568.0" r="1.6"/>
<circle cx="201.9" cy="565.1" r="1.6"/>
<circle cx="203.0" cy="561.6" r="1.6"/>
<circle cx="204.1" cy="558.4" r="1.6"/>
<circle cx="204.5" cy="557.5" r="1.6"/>
<circle cx="206.1" cy="561.1" r="1.6"/>
<circle cx="206.6" cy="564.3" r="1.6"/>
<circle cx="207.2" cy="568.1" r="1.6"/>
<circle cx="208.2" cy="572.9" r="1.6"/>
<circle cx="208.9" cy="576.6" r="1.6"/>
<circle cx="209.9" cy="579.8" r="1.6"/>
<circle cx="210.4" cy="583.1" r="1.6"/>
<circle cx="211.3" cy="586.0" r="1.6"/>
<circle cx="212.3" cy="589.3" r="1.6"/>
<circle cx="213.8" cy="591.4" r="1.6"/>
<circle cx="215.3" cy="593.9" r="1.6"/>
<circle cx="216.5" cy="597.0" r="1.6"/>
<circle cx="217.3" cy="599.1" r="1.6"/>
<circle cx="218.8" cy="601.2" r="1.6"/>
<circle cx="220.1" cy="602.4" r="1.6"/>
<circle cx="221.7" cy="603.7" r="1.6"/>
<circle cx="222.7" cy="605.1" r="1.6"/>
<circle cx="223.7" cy="606.4" r="1.6"/>
<circle cx="225.3" cy="608.2" r="1.6"/>
<circle cx="226.2" cy="608.9" r="1.6"/>
<circle cx="227.1" cy="610.3" r="1.6"/>
<circle cx="227.8" cy="611.0" r="1.6"/>
<circle cx="229.1" cy="611.5" r="1.6"/>
<circle cx="230.2" cy="612.5" r="1.6"/>
<circle cx="231.1" cy="614.3" r="1.6"/>
<circle cx="232.6" cy="615.4" r="1.6"/>
<circle cx="233.5" cy="615.7" r="1.6"/>
<circle cx="234.9" cy="616.9" r="1.6"/>
<circle cx="236.0" cy="617.9" r="1.6"/>
<circle cx="237.2" cy="618.9" r="1.6"/>
<circle cx="238.6" cy="618.7" r="1.6"/>
<circle cx="240.1" cy="619.6" r="1.6"/>
<circle cx="241.5" cy="620.4" r="1.6"/>
<circle cx="243.1" cy="622.0" r="1.6"/>
<circle cx="244.5" cy="622.3" r="1.6"/>
<circle cx="245.9" cy="623.6" r="1.6"/>
<circle cx="247.2" cy="625.1" r="1.6"/>
<circle cx="247.9" cy="625.1" r="1.6"/>
<circle cx="248.7" cy="626.1" r="1.6"/>
<circle cx="250.0" cy="625.4" r="1.6"/>
<circle cx="250.6" cy="626.5" r="1.6"/>
<circle cx="251.6" cy="627.3" r="1.6"/>
<circle cx="252.2" cy="628.0" r="1.6"/>
<circle cx="253.0" cy="627.4" r="1.6"/>
<circle cx="254.2" cy="627.8" r="1.6"/>
<circle cx="254.7" cy="628.8" r="1.6"/>
<circle cx="255.7" cy="628.8" r="1.6"/>
<circle cx="256.9" cy="629.8" r="1.6"/>
<circle cx="257.8" cy="629.9" r="1.6"/>
<circle cx="258.8" cy="630.3" r="1.6"/>
<circle cx="259.7" cy="631.4" r="1.6"/>
<circle cx="260.7" cy="632.1" r="1.6"/>
<circle cx="261.4" cy="632.2" r="1.6"/>
<circle cx="262.5" cy="632.5" r="1.6"/>
<circle cx="263.0" cy="633.7" r="1.6"/>
<circle cx="264.3" cy="633.8" r="1.6"/>
<circle cx="265.2" cy="633.6" r="1.6"/>
<circle cx="266.0" cy="634.9" r="1.6"/>
<circle cx="267.2" cy="635.4" r="1.6"/>
<circle cx="267.7" cy="635.5" r="1.6"/>
<circle cx="268.8" cy="635.6" r="1.6"/>
<circle cx="269.5" cy="635.6" r="1.6"/>
<circle cx="270.6" cy="636.5" r="1.6"/>
<circle cx="271.4" cy="636.7" r="1.6"/>
<circle cx="272.5" cy="637.7" r="1.6"/>
<circle cx="273.4" cy="637.2" r="1.6"/>
<circle cx="274.5" cy="637.9" r="1.6"/>
<circle cx="275.5" cy="639.1" r="1.6"/>
<circle cx="275.9" cy="638.9" r="1.6"/>
<circle cx="277.3" cy="639.0" r="1.6"/>
<circle cx="278.0" cy="639.3" r="1.6"/>
<circle cx="278.6" cy="639.5" r="1.6"/>
<circle cx="279.6" cy="639.9" r="1.6"/>
<circle cx="280.8" cy="640.7" r="1.6"/>
<circle cx="281.9" cy="641.2" r="1.6"/>
<circle cx="282.5" cy="641.9" r="1.6"/>
<circle cx="283.5" cy="641.7" r="1.6"/>
<circle cx="284.6" cy="642.2" r="1.6"/>
<circle cx="285.2" cy="642.5" r="1.6"/>
<circle cx="286.1" cy="643.3" r="1.6"/>
<circle cx="287.0" cy="643.7" r="1.6"/>
<circle cx="287.8" cy="642.7" r="1.6"/>
<circle cx="289.0" cy="643.3" r="1.6"/>
<circle cx="289.8" cy="643.5" r="1.6"/>
<circle cx="290.9" cy="644.6" r="1.6"/>
<circle cx="291.8" cy="645.3" r="1.6"/>
<circle cx="292.9" cy="645.3" r="1.6"/>
<circle cx="293.6" cy="644.6" r="1.6"/>
<circle cx="294.2" cy="645.6" r="1.6"/>
<circle cx="295.6" cy="645.7" r="1.6"/>
<circle cx="296.3" cy="645.6" r="1.6"/>
<circle cx="297.1" cy="647.2" r="1.6"/>
<circle cx="298.1" cy="647.4" r="1.6"/>
<circle cx="298.7" cy="646.9" r="1.6"/>
<circle cx="299.7" cy="648.0" r="1.6"/>
<circle cx="300.6" cy="648.5" r="1.6"/>
<circle cx="301.6" cy="648.7" r="1.6"/>
<circle cx="302.6" cy="648.3" r="1.6"/>
<circle cx="303.8" cy="648.7" r="1.6"/>
<circle cx="304.5" cy="648.5" r="1.6"/>
<circle cx="305.5" cy="650.1" r="1.6"/>
<circle cx="306.0" cy="650.0" r="1.6"/>
<circle cx="307.0" cy="649.5" r="1.6"/>
<circle cx="308.0" cy="650.5" r="1.6"/>
<circle cx="309.3" cy="651.3" r="1.6"/>
<circle cx="310.3" cy="651.1" r="1.6"/>
<circle cx="311.1" cy="650.8" r="1.6"/>
<circle cx="312.1" cy="651.6" r="1.6"/>
<circle cx="312.9" cy="652.4" r="1.6"/>
<circle cx="313.8" cy="651.7" r="1.6"/>
<circle cx="314.7" cy="652.0" r="1.6"/>
<circle cx="315.9" cy="653.2" r="1.6"/>
<circle cx="316.6" cy="653.0" r="1.6"/>
<circle cx="317.7" cy="653.4" r="1.6"/>
<circle cx="318.5" cy="653.6" r="1.6"/>
<circle cx="319.1" cy="653.2" r="1.6"/>
<circle cx="320.8" cy="653.9" r="1.6"/>
<circle cx="322.2" cy="654.3" r="1.6"/>
<circle cx="323.2" cy="654.6" r="1.6"/>
<circle cx="323.8" cy="655.2" r="1.6"/>
<circle cx="324.8" cy="655.3" r="1.6"/>
</g>
</g>
<line x1="179.3" y1="66.5" x2="187.5" y2="54.8" stroke="#e8343c" stroke-width="3.2"/>
<polygon points="191.5,49.1 190.8,57.1 184.2,52.5" fill="#e8343c"/>
<line x1="226.4" y1="65.8" x2="221.5" y2="54.1" stroke="#f2a552" stroke-width="3.2"/>
<polygon points="218.8,47.6 225.2,52.5 217.8,55.6" fill="#f2a552"/>
<g clip-path="url(#cr0)">
<path d="M356.0,84.7 L358.7,84.3 L362.4,83.8 L366.7,83.1 L371.5,82.4 L376.6,81.6 L381.7,80.8 L386.8,80.0 L391.5,79.2 L396.1,78.4 L400.8,77.5 L405.5,76.6 L410.3,75.7 L414.9,74.7 L419.5,73.8 L423.9,72.9 L428.0,72.0 L431.9,71.2 L435.7,70.4 L439.2,69.6 L442.7,68.8 L446.0,68.1 L449.2,67.3 L452.3,66.5 L455.3,65.6 L458.2,64.7 L461.1,63.6 L463.9,62.6 L466.5,61.5 L469.0,60.4 L471.3,59.5 L473.3,58.6 L475.0,57.8 L476.3,57.2 L477.2,56.8 L477.8,56.4 L478.2,56.2 L478.5,55.9 L479.0,55.6 L479.6,55.2 L480.5,54.7 L481.7,54.1 L483.0,53.3 L484.5,52.5 L486.0,51.6 L487.7,50.8 L489.5,49.9 L491.3,49.1 L493.2,48.3 L495.2,47.6 L497.4,46.8 L499.7,46.1 L502.0,45.4 L504.4,44.8 L506.8,44.1 L509.2,43.5 L511.5,42.9 L513.8,42.3 L516.1,41.8 L518.3,41.3 L520.6,40.9 L522.9,40.4 L525.1,40.0 L527.4,39.6 L529.7,39.2 L532.0,38.8 L534.3,38.5 L536.6,38.1 L538.9,37.8 L541.1,37.5 L543.4,37.2 L545.7,36.8 L548.0,36.5 L550.2,36.2 L552.3,35.9 L554.3,35.5 L556.4,35.2 L558.5,34.9 L560.8,34.6 L563.4,34.2 L566.2,33.8 L569.6,33.4 L573.5,32.8 L577.8,32.3 L582.2,31.7 L586.5,31.2 L590.4,30.7 L593.6,30.3 L596.0,30.0" fill="none" stroke="#88c4ad" stroke-width="2.6" stroke-linejoin="round" stroke-linecap="round"/>
<path d="M596.0,4.5 L594.4,4.5 L592.2,4.6 L589.6,4.7 L586.8,4.7 L583.8,4.8 L580.8,4.9 L577.9,5.0 L575.3,5.1 L572.9,5.2 L570.6,5.4 L568.3,5.5 L566.0,5.7 L563.7,5.8 L561.5,6.0 L559.3,6.2 L557.0,6.4 L554.7,6.6 L552.4,6.8 L550.2,7.0 L547.9,7.2 L545.6,7.4 L543.3,7.7 L541.1,7.9 L538.8,8.2 L536.5,8.5 L534.1,8.8 L531.7,9.1 L529.2,9.4 L526.9,9.8 L524.6,10.1 L522.5,10.5 L520.6,10.9 L518.9,11.3 L517.3,11.8 L515.8,12.2 L514.5,12.7 L513.2,13.2 L512.0,13.7 L510.8,14.1 L509.7,14.6 L508.6,15.0 L507.6,15.4 L506.7,15.8 L505.8,16.2 L505.0,16.6 L504.1,17.0 L503.3,17.6 L502.4,18.2 L501.5,18.9 L500.6,19.7 L499.7,20.6 L498.8,21.5 L497.8,22.5 L496.9,23.5 L496.0,24.5 L495.1,25.5 L494.2,26.5 L493.3,27.6 L492.4,28.7 L491.5,29.8 L490.5,30.9 L489.6,32.1 L488.7,33.4 L487.8,34.7 L486.9,36.1 L485.9,37.7 L485.0,39.3 L484.0,41.0 L483.1,42.7 L482.2,44.3 L481.3,45.9 L480.5,47.4 L479.7,48.8 L479.0,50.3 L478.3,51.7 L477.6,53.1 L477.0,54.4 L476.3,55.6 L475.7,56.6 L475.0,57.5 L474.4,58.1 L473.7,58.5 L473.2,58.7 L472.6,58.9 L472.0,59.0 L471.3,59.1 L470.6,59.4 L469.9,59.8 L469.1,60.4 L468.2,61.2 L467.3,62.1 L466.4,63.0 L465.4,64.0 L464.5,64.9 L463.5,65.7 L462.6,66.5 L461.7,67.2 L460.9,67.8 L460.0,68.4 L459.2,69.0 L458.3,69.5 L457.4,70.0 L456.4,70.5 L455.3,71.0 L454.0,71.4 L452.6,71.8 L451.1,72.1 L449.5,72.5 L448.0,72.8 L446.6,73.1 L445.4,73.4 L444.4,73.8 L443.7,74.1 L443.3,74.4 L443.1,74.7 L443.0,75.0 L442.9,75.3 L442.9,75.8 L442.8,76.5 L442.5,77.4 L442.1,78.6 L441.7,80.0 L441.3,81.6 L440.8,83.3 L440.3,85.1 L439.8,86.9 L439.4,88.6 L438.9,90.2 L438.5,91.8 L438.1,93.5 L437.7,95.1 L437.3,96.8 L436.8,98.3 L436.4,99.8 L435.8,101.0 L435.2,102.0 L434.5,102.7 L433.9,103.2 L433.2,103.4 L432.5,103.5 L431.7,103.6 L430.7,103.6 L429.5,103.7 L428.0,103.9 L426.2,104.2 L424.2,104.5 L421.9,104.8 L419.5,105.1 L417.0,105.3 L414.5,105.6 L412.1,105.9 L409.7,106.2 L407.4,106.5 L405.1,106.7 L402.9,107.0 L400.6,107.2 L398.3,107.5 L396.1,107.7 L393.8,107.9 L391.5,108.1 L389.2,108.3 L386.9,108.5 L384.6,108.6 L382.3,108.8 L380.0,108.9 L377.7,109.0 L375.4,109.2 L373.2,109.3 L370.9,109.4 L368.4,109.6 L365.9,109.7 L363.5,109.9 L361.1,110.0 L359.1,110.1 L357.3,110.2 L356.0,110.3" fill="none" stroke="#1a60d2" stroke-width="2.7" stroke-linejoin="round" stroke-linecap="round"/>
<path d="M435.2,102.6 L436.1,102.3 L437.2,101.9 L438.6,101.5 L440.1,101.0 L441.7,100.4 L443.3,99.8 L444.8,99.1 L446.2,98.4 L447.4,97.7 L448.6,96.9 L449.8,96.1 L450.9,95.3 L452.0,94.4 L453.1,93.4 L454.2,92.3 L455.3,91.1 L456.4,89.8 L457.6,88.3 L458.8,86.8 L460.0,85.1 L461.1,83.5 L462.3,81.7 L463.3,80.0 L464.4,78.3 L465.4,76.5 L466.4,74.6 L467.4,72.7 L468.4,70.7 L469.3,68.8 L470.2,67.0 L471.0,65.4 L471.7,64.0 L472.3,62.9 L472.7,61.9 L473.1,61.1 L473.4,60.5 L473.6,59.9 L474.0,59.3 L474.4,58.7 L475.0,58.0 L475.7,57.2 L476.5,56.5 L477.4,55.7 L478.4,55.0 L479.4,54.2 L480.4,53.5 L481.4,52.7 L482.3,52.0 L483.2,51.3 L484.1,50.5 L485.0,49.8 L486.0,49.1 L486.9,48.4 L487.8,47.7 L488.7,47.1 L489.6,46.5 L490.5,46.0 L491.4,45.5 L492.3,45.1 L493.2,44.7 L494.2,44.4 L495.1,44.0 L496.0,43.7 L496.9,43.4 L497.8,43.1 L498.8,42.9 L499.8,42.7 L500.8,42.5 L501.7,42.3 L502.6,42.1 L503.5,41.8 L504.2,41.6 L504.8,41.3 L505.4,41.1 L505.9,40.8 L506.4,40.6 L506.8,40.3 L507.2,40.0 L507.5,39.6 L507.8,39.2 L508.0,38.8 L508.2,38.4 L508.3,38.0 L508.4,37.6 L508.5,37.1 L508.6,36.5 L508.6,35.7 L508.7,34.7 L508.8,33.5 L508.9,32.0 L509.0,30.3 L509.0,28.5 L509.1,26.6 L509.2,24.9 L509.2,23.3 L509.3,21.9 L509.3,20.7 L509.4,19.6 L509.4,18.5 L509.4,17.5 L509.5,16.7 L509.5,15.9 L509.5,15.3 L509.5,14.8" fill="none" stroke="#1a60d2" stroke-width="2.7" stroke-linejoin="round" stroke-linecap="round"/>
</g>
<g clip-path="url(#cr1)">
<polygon fill="#88c4ad" points="356.3,195.6 358.4,195.3 361.1,194.9 364.3,194.4 367.9,193.9 371.7,193.3 375.8,192.7 380.0,192.1 384.1,191.5 388.1,190.9 391.8,190.2 395.5,189.6 399.1,189.0 402.8,188.3 406.4,187.6 410.1,186.9 413.8,186.2 417.5,185.5 421.1,184.7 424.8,184.0 428.5,183.2 432.3,182.3 436.2,181.4 440.3,180.5 444.4,179.5 448.4,178.5 452.3,177.5 456.0,176.6 459.4,175.7 462.4,174.9 465.0,174.2 467.1,173.6 468.7,173.2 470.0,172.8 470.9,172.5 471.7,172.2 472.4,171.9 473.0,171.7 473.6,171.4 474.5,171.1 475.7,170.7 477.2,170.2 478.9,169.7 480.6,169.2 482.4,168.6 484.3,168.0 486.2,167.4 488.2,166.9 490.1,166.3 492.0,165.7 493.9,165.2 495.7,164.6 497.5,164.1 499.3,163.6 501.1,163.0 503.0,162.5 504.8,162.0 506.6,161.5 508.4,161.0 510.3,160.5 512.1,160.0 513.9,159.4 515.7,158.9 517.5,158.4 519.4,157.9 521.2,157.4 523.0,156.9 524.8,156.4 526.6,155.9 528.4,155.4 530.2,154.9 532.1,154.4 533.9,153.9 535.7,153.4 537.5,152.9 539.4,152.5 541.2,152.0 543.0,151.5 544.8,151.1 546.6,150.6 548.4,150.2 550.2,149.9 551.8,149.5 553.4,149.2 555.0,148.9 556.7,148.7 558.4,148.4 560.2,148.1 562.1,147.8 564.2,147.4 566.5,147.0 569.1,146.6 572.2,146.1 575.5,145.5 579.0,145.0 582.5,144.4 586.0,143.8 589.2,143.3 592.0,142.8 594.5,142.4 596.3,142.1 595.7,138.7 593.9,139.0 591.5,139.3 588.6,139.8 585.4,140.3 582.0,140.8 578.4,141.4 574.9,141.9 571.6,142.5 568.5,142.9 565.9,143.4 563.6,143.7 561.5,144.0 559.6,144.3 557.8,144.6 556.1,144.9 554.4,145.1 552.8,145.4 551.1,145.7 549.4,146.0 547.6,146.4 545.7,146.8 543.9,147.2 542.0,147.6 540.2,148.1 538.3,148.5 536.5,149.0 534.7,149.5 532.8,149.9 531.0,150.4 529.2,150.9 527.3,151.3 525.5,151.8 523.7,152.3 521.9,152.7 520.0,153.2 518.2,153.7 516.4,154.2 514.6,154.7 512.7,155.2 510.9,155.6 509.1,156.1 507.2,156.6 505.4,157.1 503.6,157.6 501.7,158.1 499.9,158.6 498.1,159.1 496.2,159.6 494.4,160.1 492.5,160.6 490.7,161.2 488.8,161.7 486.8,162.3 484.9,162.9 482.9,163.5 481.0,164.0 479.2,164.6 477.4,165.1 475.8,165.6 474.3,166.1 473.0,166.5 472.0,166.9 471.2,167.2 470.5,167.5 470.0,167.7 469.3,167.9 468.5,168.2 467.4,168.6 465.8,169.0 463.8,169.6 461.2,170.3 458.2,171.1 454.8,172.0 451.1,172.9 447.2,173.9 443.2,175.0 439.2,176.0 435.2,177.0 431.2,177.9 427.5,178.8 423.9,179.7 420.2,180.5 416.6,181.3 412.9,182.1 409.3,182.8 405.6,183.6 402.0,184.3 398.4,185.0 394.8,185.7 391.2,186.4 387.4,187.0 383.5,187.7 379.4,188.4 375.2,189.0 371.2,189.7 367.3,190.3 363.7,190.8 360.5,191.3 357.8,191.7 355.7,192.0"/>
<path d="M596.0,113.6 L593.6,113.7 L590.4,113.9 L586.5,114.1 L582.2,114.4 L577.8,114.6 L573.5,114.9 L569.6,115.2 L566.2,115.5 L563.4,115.8 L560.8,116.1 L558.5,116.4 L556.4,116.7 L554.3,117.0 L552.3,117.4 L550.2,117.8 L548.0,118.2 L545.7,118.7 L543.3,119.2 L541.0,119.8 L538.6,120.3 L536.3,120.9 L534.0,121.5 L531.8,122.2 L529.7,122.8 L527.7,123.4 L525.8,124.0 L524.0,124.6 L522.2,125.3 L520.4,125.9 L518.7,126.6 L516.9,127.4 L515.1,128.2 L513.3,129.1 L511.4,130.0 L509.6,130.9 L507.8,131.9 L506.0,132.9 L504.1,134.0 L502.3,135.2 L500.5,136.4 L498.7,137.7 L496.8,139.1 L494.9,140.6 L493.0,142.2 L491.2,143.7 L489.4,145.3 L487.6,146.8 L486.0,148.3 L484.4,149.8 L482.9,151.3 L481.4,152.8 L480.0,154.3 L478.7,155.7 L477.4,157.1 L476.2,158.4 L475.0,159.6 L473.9,160.7 L473.0,161.6 L472.1,162.5 L471.3,163.4 L470.5,164.1 L469.7,164.9 L468.9,165.6 L468.1,166.4 L467.2,167.1 L466.4,167.8 L465.5,168.5 L464.6,169.2 L463.7,169.8 L463.0,170.5 L462.3,171.2 L461.7,171.9 L461.3,172.6 L460.9,173.4 L460.7,174.1 L460.6,174.9 L460.4,175.7 L460.3,176.5 L460.1,177.4 L459.9,178.3 L459.6,179.3 L459.3,180.4 L459.0,181.5 L458.7,182.6 L458.4,183.8 L458.0,185.0 L457.6,186.2 L457.1,187.4 L456.5,188.7 L455.9,190.0 L455.2,191.4 L454.5,192.8 L453.7,194.2 L453.0,195.5 L452.3,196.6 L451.7,197.5 L451.2,198.2 L450.8,198.6 L450.5,198.9 L450.2,199.1 L449.8,199.2 L449.4,199.4 L448.8,199.7 L448.0,200.2 L447.0,200.8 L445.8,201.6 L444.5,202.4 L443.1,203.2 L441.6,204.1 L440.1,205.0 L438.6,205.8 L437.1,206.6 L435.6,207.3 L434.1,208.1 L432.5,208.8 L430.9,209.5 L429.3,210.2 L427.7,210.8 L426.0,211.4 L424.3,212.0 L422.6,212.5 L420.9,212.9 L419.1,213.3 L417.3,213.7 L415.5,214.0 L413.6,214.3 L411.7,214.7 L409.7,215.1 L407.6,215.5 L405.4,216.0 L403.1,216.5 L400.8,217.1 L398.5,217.6 L396.1,218.0 L393.8,218.4 L391.5,218.8 L389.2,219.1 L386.9,219.3 L384.6,219.5 L382.3,219.7 L380.0,219.8 L377.7,219.9 L375.4,220.1 L373.2,220.2 L370.9,220.4 L368.4,220.5 L365.9,220.6 L363.5,220.8 L361.1,220.9 L359.1,221.0 L357.3,221.1 L356.0,221.2" fill="none" stroke="#1a60d2" stroke-width="2.7" stroke-linejoin="round" stroke-linecap="round"/>
<path d="M451.7,197.5 L452.4,196.8 L453.4,196.0 L454.5,194.9 L455.8,193.7 L457.1,192.5 L458.4,191.3 L459.7,190.2 L460.8,189.2 L461.8,188.3 L462.8,187.5 L463.7,186.7 L464.6,185.9 L465.5,185.2 L466.3,184.4 L467.2,183.7 L468.1,182.9 L469.0,182.1 L469.8,181.3 L470.7,180.6 L471.6,179.8 L472.4,179.0 L473.3,178.2 L474.1,177.4 L475.0,176.6 L475.9,175.7 L476.8,174.8 L477.7,173.9 L478.6,173.0 L479.5,172.0 L480.4,171.1 L481.3,170.2 L482.3,169.3 L483.3,168.5 L484.4,167.7 L485.6,166.9 L486.7,166.1 L487.9,165.3 L488.9,164.5 L489.8,163.7 L490.5,162.9 L491.0,162.0 L491.4,161.1 L491.7,160.2 L491.9,159.3 L492.0,158.4 L492.1,157.4 L492.2,156.5 L492.3,155.6 L492.4,154.7 L492.5,153.8 L492.6,152.8 L492.6,151.9 L492.7,151.0 L492.8,150.1 L493.0,149.2 L493.2,148.3 L493.5,147.5 L493.9,146.6 L494.3,145.8 L494.8,145.0 L495.3,144.2 L495.9,143.4 L496.4,142.7 L496.9,141.9 L497.5,141.1 L498.1,140.3 L498.7,139.5 L499.4,138.8 L500.0,138.0 L500.6,137.4 L501.0,136.8 L501.4,136.4" fill="none" stroke="#1a60d2" stroke-width="2.7" stroke-linejoin="round" stroke-linecap="round"/>
</g>
<g clip-path="url(#cr2)">
<polygon fill="#88c4ad" points="356.2,304.2 358.3,303.8 361.0,303.3 364.2,302.8 367.8,302.1 371.7,301.4 375.8,300.7 379.9,300.0 384.0,299.2 388.0,298.5 391.7,297.8 395.4,297.1 399.0,296.5 402.6,295.8 406.3,295.1 410.0,294.4 413.7,293.7 417.3,293.0 421.0,292.3 424.7,291.6 428.4,290.8 432.1,290.1 436.1,289.3 440.2,288.5 444.3,287.7 448.3,286.8 452.2,286.0 455.9,285.2 459.3,284.5 462.3,283.9 464.9,283.4 467.0,283.0 468.5,282.7 469.6,282.5 470.4,282.4 471.1,282.3 471.8,282.3 472.5,282.2 473.3,282.0 474.4,281.8 475.7,281.4 477.3,280.9 478.9,280.4 480.7,279.8 482.6,279.1 484.4,278.4 486.4,277.7 488.3,277.0 490.2,276.4 492.1,275.7 493.9,275.1 495.7,274.6 497.5,274.1 499.3,273.5 501.1,273.0 502.9,272.5 504.7,272.0 506.5,271.6 508.3,271.1 510.1,270.6 511.9,270.2 513.7,269.8 515.5,269.3 517.3,268.9 519.1,268.5 520.9,268.2 522.7,267.8 524.5,267.4 526.4,267.0 528.2,266.6 530.0,266.3 531.8,265.9 533.7,265.5 535.5,265.1 537.3,264.7 539.1,264.3 541.0,263.9 542.8,263.5 544.6,263.1 546.4,262.7 548.3,262.4 550.0,262.0 551.7,261.7 553.3,261.4 555.0,261.1 556.6,260.8 558.3,260.5 560.1,260.2 562.0,259.9 564.1,259.6 566.4,259.2 569.0,258.8 572.1,258.3 575.4,257.9 578.9,257.4 582.4,256.8 585.9,256.4 589.1,255.9 591.9,255.5 594.4,255.1 596.2,254.9 595.8,252.3 594.0,252.6 591.6,252.9 588.7,253.3 585.5,253.8 582.1,254.3 578.5,254.8 575.0,255.3 571.7,255.7 568.6,256.2 566.0,256.6 563.7,256.9 561.6,257.3 559.7,257.6 557.9,257.9 556.2,258.2 554.5,258.4 552.9,258.7 551.2,259.0 549.5,259.3 547.7,259.6 545.9,260.0 544.1,260.3 542.2,260.7 540.4,261.0 538.6,261.4 536.7,261.7 534.9,262.1 533.0,262.5 531.2,262.8 529.4,263.1 527.6,263.5 525.7,263.8 523.9,264.1 522.1,264.4 520.3,264.7 518.4,265.0 516.6,265.4 514.8,265.7 512.9,266.0 511.1,266.4 509.2,266.8 507.4,267.2 505.5,267.5 503.7,267.9 501.8,268.4 500.0,268.8 498.1,269.2 496.3,269.7 494.4,270.2 492.5,270.7 490.6,271.2 488.7,271.8 486.7,272.5 484.7,273.1 482.8,273.8 480.9,274.4 479.1,275.1 477.4,275.6 475.8,276.2 474.3,276.6 473.1,276.9 472.3,277.1 471.6,277.3 471.1,277.3 470.6,277.4 469.8,277.5 468.9,277.6 467.6,277.8 466.0,278.2 463.9,278.6 461.3,279.2 458.3,280.0 454.9,280.8 451.2,281.7 447.3,282.7 443.4,283.7 439.3,284.7 435.3,285.7 431.4,286.7 427.6,287.6 424.0,288.4 420.4,289.2 416.7,290.0 413.1,290.8 409.4,291.6 405.8,292.3 402.1,293.0 398.5,293.8 394.9,294.5 391.3,295.2 387.5,295.9 383.5,296.6 379.4,297.4 375.3,298.1 371.2,298.9 367.4,299.6 363.8,300.2 360.6,300.8 357.9,301.2 355.8,301.6"/>
<path d="M596.0,227.3 L594.4,227.5 L592.2,227.7 L589.6,227.9 L586.8,228.2 L583.8,228.5 L580.8,228.8 L577.9,229.2 L575.3,229.5 L572.9,229.8 L570.6,230.2 L568.3,230.6 L566.0,231.0 L563.7,231.4 L561.5,231.8 L559.3,232.3 L557.0,232.8 L554.7,233.4 L552.4,234.0 L550.2,234.6 L547.9,235.3 L545.6,236.0 L543.3,236.7 L541.1,237.5 L538.8,238.2 L536.5,238.9 L534.2,239.7 L532.0,240.4 L529.7,241.2 L527.4,242.0 L525.1,242.8 L522.9,243.7 L520.6,244.6 L518.3,245.5 L516.0,246.5 L513.7,247.5 L511.4,248.6 L509.1,249.6 L506.8,250.7 L504.6,251.8 L502.4,252.8 L500.2,253.8 L498.0,254.9 L495.9,255.9 L493.7,257.0 L491.7,258.0 L489.7,259.0 L487.8,260.0 L486.0,261.0 L484.3,261.9 L482.7,262.9 L481.1,263.9 L479.6,264.8 L478.3,265.6 L477.0,266.4 L475.9,267.2 L475.0,267.8 L474.3,268.3 L473.8,268.5 L473.4,268.7 L473.2,268.8 L473.0,268.9 L472.9,269.2 L472.8,269.5 L472.6,270.1 L472.4,270.9 L472.3,271.9 L472.3,273.1 L472.2,274.3 L472.2,275.6 L472.1,276.8 L471.9,278.1 L471.7,279.2 L471.4,280.3 L471.0,281.3 L470.6,282.4 L470.1,283.4 L469.6,284.4 L469.1,285.4 L468.6,286.4 L468.1,287.4 L467.7,288.3 L467.5,289.2 L467.4,290.0 L467.2,290.8 L466.9,291.7 L466.3,292.5 L465.6,293.5 L464.4,294.5 L462.8,295.6 L460.9,296.9 L458.6,298.2 L456.2,299.5 L453.7,300.9 L451.1,302.2 L448.6,303.5 L446.2,304.7 L443.9,305.8 L441.7,306.9 L439.4,308.0 L437.1,309.0 L434.8,310.0 L432.6,311.0 L430.3,312.0 L428.0,312.9 L425.7,313.8 L423.4,314.7 L421.1,315.5 L418.8,316.3 L416.6,317.1 L414.3,317.9 L412.0,318.6 L409.7,319.3 L407.4,320.0 L405.1,320.6 L402.9,321.2 L400.6,321.8 L398.3,322.4 L396.1,322.9 L393.8,323.4 L391.5,323.9 L389.2,324.3 L386.9,324.7 L384.6,325.1 L382.3,325.4 L380.0,325.7 L377.7,326.0 L375.4,326.3 L373.2,326.6 L370.9,326.9 L368.4,327.2 L365.9,327.6 L363.5,327.9 L361.1,328.2 L359.1,328.4 L357.3,328.6 L356.0,328.8" fill="none" stroke="#1a60d2" stroke-width="2.7" stroke-linejoin="round" stroke-linecap="round"/>
<path d="M464.4,295.6 L465.3,295.2 L466.5,294.7 L467.9,294.1 L469.5,293.4 L471.1,292.6 L472.6,291.8 L473.9,290.9 L475.0,290.1 L475.8,289.2 L476.4,288.2 L476.9,287.2 L477.3,286.2 L477.7,285.1 L478.0,284.0 L478.3,283.0 L478.6,282.0 L478.9,281.0 L479.2,280.1 L479.4,279.2 L479.6,278.3 L479.7,277.4 L479.9,276.5 L480.2,275.6 L480.5,274.7 L480.9,273.8 L481.3,272.9 L481.8,271.9 L482.2,271.0 L482.7,270.1 L483.2,269.2 L483.7,268.3 L484.1,267.4 L484.5,266.5 L484.9,265.6 L485.3,264.7 L485.7,263.7 L486.1,262.9 L486.4,262.1 L486.7,261.5 L486.9,261.0" fill="none" stroke="#1a60d2" stroke-width="2.7" stroke-linejoin="round" stroke-linecap="round"/>
</g>
<g clip-path="url(#cr3)">
<polygon fill="#88c4ad" points="356.2,409.7 362.4,408.7 370.9,407.4 381.1,405.7 392.5,403.9 404.4,402.0 416.5,400.1 428.2,398.2 438.9,396.5 448.1,395.1 455.3,394.1 460.5,393.3 464.4,392.7 467.2,392.2 469.2,391.8 470.6,391.5 471.5,391.2 472.2,391.0 472.9,390.8 473.9,390.5 475.4,390.1 477.2,389.8 478.9,389.4 480.5,389.0 482.0,388.6 483.5,388.3 485.1,387.9 486.9,387.5 488.8,387.0 491.0,386.5 493.5,385.9 496.4,385.2 499.6,384.5 503.1,383.7 506.8,382.9 510.6,382.0 514.5,381.2 518.4,380.4 522.3,379.6 526.2,378.9 529.9,378.2 533.6,377.6 537.3,377.0 541.1,376.4 544.8,375.8 548.5,375.3 552.3,374.8 555.9,374.2 559.5,373.7 563.0,373.2 566.4,372.7 569.8,372.3 573.2,371.8 576.7,371.3 580.2,370.8 583.5,370.3 586.7,369.9 589.6,369.5 592.2,369.2 594.4,368.9 596.2,368.6 595.8,366.2 594.1,366.4 591.9,366.7 589.3,367.0 586.4,367.4 583.2,367.9 579.9,368.3 576.4,368.8 572.9,369.3 569.4,369.8 566.0,370.3 562.6,370.7 559.2,371.2 555.6,371.8 551.9,372.3 548.2,372.8 544.4,373.4 540.7,373.9 536.9,374.5 533.2,375.1 529.5,375.8 525.7,376.4 521.9,377.1 517.9,377.9 514.0,378.6 510.0,379.4 506.2,380.1 502.5,380.8 499.0,381.4 495.8,382.0 492.9,382.5 490.3,383.0 488.0,383.4 486.0,383.8 484.3,384.1 482.6,384.5 481.1,384.8 479.6,385.1 478.0,385.5 476.4,385.9 474.6,386.3 472.9,386.6 471.8,387.0 471.0,387.2 470.3,387.5 469.5,387.7 468.3,388.0 466.5,388.5 463.7,389.1 459.9,389.9 454.7,390.9 447.6,392.3 438.5,393.9 427.8,395.7 416.1,397.6 404.1,399.5 392.1,401.5 380.7,403.3 370.5,404.9 362.0,406.3 355.8,407.3"/>
<path d="M596.0,345.4 L593.6,345.8 L590.4,346.3 L586.5,347.0 L582.2,347.7 L577.8,348.5 L573.5,349.2 L569.6,349.9 L566.2,350.5 L563.4,351.0 L560.8,351.5 L558.5,352.0 L556.4,352.4 L554.3,352.8 L552.3,353.3 L550.2,353.7 L548.0,354.2 L545.7,354.7 L543.4,355.2 L541.1,355.8 L538.9,356.3 L536.6,356.9 L534.3,357.5 L532.0,358.1 L529.7,358.7 L527.4,359.3 L525.1,360.0 L522.9,360.7 L520.6,361.4 L518.3,362.1 L516.1,362.8 L513.8,363.5 L511.5,364.2 L509.2,364.9 L506.7,365.6 L504.2,366.4 L501.8,367.1 L499.4,367.8 L497.1,368.5 L495.0,369.1 L493.2,369.7 L491.6,370.2 L490.2,370.7 L489.0,371.1 L487.9,371.4 L486.9,371.8 L486.1,372.1 L485.2,372.4 L484.4,372.7 L483.6,373.0 L483.0,373.2 L482.4,373.4 L481.9,373.6 L481.5,373.7 L481.1,373.9 L480.6,374.1 L480.2,374.3 L479.8,374.5 L479.3,374.7 L478.9,375.0 L478.6,375.2 L478.2,375.5 L477.9,375.7 L477.6,376.1 L477.3,376.4 L477.1,376.8 L476.8,377.2 L476.7,377.6 L476.5,378.1 L476.4,378.6 L476.2,379.1 L476.1,379.7 L476.0,380.2 L475.9,380.8 L475.8,381.4 L475.8,382.0 L475.7,382.6 L475.7,383.3 L475.7,383.9 L475.6,384.6 L475.6,385.3 L475.6,386.0 L475.5,386.8 L475.5,387.6 L475.5,388.4 L475.4,389.1 L475.4,389.9 L475.3,390.6 L475.2,391.2 L475.1,391.7 L475.0,392.2 L474.8,392.7 L474.7,393.1 L474.5,393.5 L474.3,393.8 L474.1,394.2 L473.9,394.5 L473.6,394.8 L473.3,395.1 L473.0,395.3 L472.6,395.5 L472.3,395.7 L472.0,396.0 L471.7,396.3 L471.4,396.6 L471.2,397.0 L471.0,397.5 L470.8,398.0 L470.6,398.5 L470.5,399.0 L470.3,399.5 L470.2,400.0 L470.1,400.4 L470.0,400.8 L470.1,401.1 L470.1,401.5 L470.2,401.8 L470.2,402.0 L470.2,402.3 L470.0,402.6 L469.7,402.9 L469.2,403.2 L468.6,403.4 L467.9,403.7 L467.1,403.9 L466.2,404.2 L465.3,404.4 L464.3,404.7 L463.4,405.0 L462.6,405.3 L461.9,405.6 L461.2,405.8 L460.5,406.1 L459.6,406.4 L458.5,406.8 L457.0,407.4 L455.0,408.0 L452.6,408.8 L449.8,409.7 L446.7,410.8 L443.3,411.9 L439.6,413.0 L435.9,414.2 L432.0,415.4 L428.0,416.5 L423.9,417.6 L419.5,418.8 L415.0,420.0 L410.3,421.2 L405.5,422.4 L400.8,423.5 L396.1,424.6 L391.5,425.6 L386.8,426.6 L381.7,427.5 L376.6,428.4 L371.5,429.3 L366.7,430.1 L362.4,430.8 L358.7,431.3 L356.0,431.8" fill="none" stroke="#1a60d2" stroke-width="2.7" stroke-linejoin="round" stroke-linecap="round"/>
<path d="M469.7,402.9 L470.2,402.7 L470.8,402.6 L471.5,402.3 L472.4,402.1 L473.2,401.8 L474.0,401.5 L474.7,401.2 L475.2,400.8 L475.6,400.4 L475.8,400.0 L476.0,399.6 L476.1,399.2 L476.2,398.7 L476.2,398.2 L476.3,397.6 L476.4,397.0 L476.5,396.3 L476.6,395.5 L476.6,394.7 L476.7,393.8 L476.8,392.9 L476.8,392.0 L476.8,391.1 L476.9,390.3 L476.9,389.5 L477.0,388.7 L477.0,388.0 L477.0,387.2 L477.0,386.5 L477.1,385.7 L477.2,385.1 L477.3,384.4 L477.5,383.8 L477.7,383.2 L477.9,382.7 L478.2,382.1 L478.5,381.6 L478.8,381.1 L479.1,380.7 L479.4,380.2 L479.7,379.7 L480.0,379.3 L480.4,378.9 L480.7,378.4 L481.1,378.0 L481.4,377.7 L481.7,377.3 L481.9,376.9 L482.1,376.5 L482.2,376.2 L482.3,375.8 L482.4,375.5 L482.5,375.2 L482.6,374.9 L482.7,374.6 L482.8,374.3 L483.0,374.0 L483.2,373.8 L483.4,373.6 L483.7,373.3 L483.9,373.1 L484.1,373.0 L484.3,372.8 L484.4,372.7" fill="none" stroke="#1a60d2" stroke-width="2.7" stroke-linejoin="round" stroke-linecap="round"/>
</g>
<g clip-path="url(#cr4)">
<path d="M356.0,517.4 L360.1,516.8 L365.4,516.0 L371.7,515.0 L378.8,513.9 L386.4,512.8 L394.2,511.6 L402.1,510.4 L409.7,509.2 L416.9,508.1 L423.9,507.0 L430.9,506.0 L438.1,504.9 L445.9,503.7 L454.5,502.3 L464.1,500.8 L475.0,499.1 L488.3,497.0 L504.2,494.4 L521.6,491.6 L539.6,488.7 L557.0,485.9 L573.0,483.3 L586.3,481.2 L596.0,479.6" fill="none" stroke="#88c4ad" stroke-width="2.5" stroke-linejoin="round" stroke-linecap="round"/>
<path d="M356.0,534.7 L357.3,534.4 L359.1,534.1 L361.1,533.6 L363.5,533.1 L365.9,532.6 L368.4,532.1 L370.9,531.6 L373.2,531.1 L375.4,530.7 L377.7,530.2 L380.0,529.8 L382.3,529.3 L384.6,528.9 L386.9,528.4 L389.2,528.0 L391.5,527.5 L393.8,527.0 L396.1,526.6 L398.3,526.1 L400.6,525.6 L402.9,525.2 L405.1,524.7 L407.4,524.3 L409.7,523.8 L412.0,523.3 L414.3,522.9 L416.6,522.4 L418.9,522.0 L421.1,521.6 L423.4,521.1 L425.7,520.7 L428.0,520.2 L430.3,519.7 L432.7,519.3 L435.1,518.8 L437.4,518.3 L439.8,517.8 L442.0,517.4 L444.2,516.9 L446.2,516.5 L448.1,516.1 L449.9,515.7 L451.6,515.4 L453.2,515.0 L454.8,514.7 L456.3,514.3 L457.7,514.0 L459.1,513.7 L460.4,513.4 L461.7,513.1 L463.0,512.8 L464.1,512.6 L465.2,512.3 L466.3,512.0 L467.3,511.8 L468.2,511.6 L469.1,511.4 L469.8,511.3 L470.6,511.1 L471.2,511.0 L471.8,510.9 L472.4,510.7 L472.8,510.6 L473.3,510.4 L473.7,510.2 L474.0,510.0 L474.3,509.9 L474.5,509.7 L474.7,509.4 L474.8,509.1 L475.0,508.8 L475.1,508.3 L475.2,507.7 L475.3,507.1 L475.3,506.3 L475.4,505.5 L475.4,504.7 L475.4,503.8 L475.4,502.9 L475.5,501.9 L475.6,500.9 L475.7,499.7 L475.8,498.5 L475.9,497.2 L476.0,496.0 L476.1,494.8 L476.3,493.7 L476.4,492.8 L476.5,492.0 L476.7,491.3 L476.8,490.7 L477.0,490.1 L477.1,489.6 L477.3,489.1 L477.5,488.7 L477.8,488.3 L478.1,487.9 L478.4,487.6 L478.8,487.4 L479.2,487.2 L479.6,487.0 L480.0,486.8 L480.5,486.6 L481.0,486.4 L481.4,486.2 L481.6,486.1 L481.8,485.9 L482.1,485.8 L482.5,485.6 L483.3,485.4 L484.4,485.1 L486.0,484.6 L488.3,484.0 L491.1,483.2 L494.4,482.3 L497.9,481.4 L501.6,480.4 L505.2,479.5 L508.5,478.6 L511.5,477.8 L514.1,477.1 L516.6,476.5 L518.9,475.9 L521.0,475.4 L523.2,474.8 L525.3,474.3 L527.5,473.8 L529.7,473.3 L532.0,472.8 L534.3,472.3 L536.6,471.8 L538.9,471.4 L541.1,470.9 L543.4,470.5 L545.7,470.0 L548.0,469.6 L550.2,469.2 L552.3,468.8 L554.3,468.4 L556.4,468.1 L558.5,467.7 L560.8,467.3 L563.4,466.9 L566.2,466.5 L569.6,466.0 L573.5,465.4 L577.8,464.8 L582.2,464.2 L586.5,463.6 L590.4,463.0 L593.6,462.5 L596.0,462.2" fill="none" stroke="#1a60d2" stroke-width="2.7" stroke-linejoin="round" stroke-linecap="round"/>
</g>
<g clip-path="url(#cr5)">
<path d="M356.0,625.6 L360.6,625.0 L366.8,624.2 L374.1,623.3 L382.3,622.2 L390.9,621.1 L399.7,620.0 L408.1,618.9 L416.0,617.8 L423.5,616.8 L430.9,615.7 L438.4,614.6 L445.8,613.5 L453.2,612.4 L460.6,611.3 L467.8,610.1 L475.0,609.0 L482.0,607.8 L488.8,606.6 L495.4,605.3 L502.1,604.0 L508.7,602.8 L515.6,601.6 L522.6,600.4 L530.0,599.3 L538.2,598.2 L547.3,597.2 L556.8,596.1 L566.4,595.1 L575.6,594.2 L583.9,593.4 L590.8,592.7 L596.0,592.2" fill="none" stroke="#88c4ad" stroke-width="2.5" stroke-linejoin="round" stroke-linecap="round"/>
<path d="M356.0,640.2 L357.3,640.0 L359.1,639.7 L361.1,639.4 L363.5,639.1 L365.9,638.7 L368.4,638.3 L370.9,637.9 L373.2,637.5 L375.4,637.1 L377.7,636.7 L380.0,636.3 L382.3,635.9 L384.6,635.5 L386.9,635.1 L389.2,634.7 L391.5,634.3 L393.8,633.9 L396.1,633.5 L398.3,633.1 L400.6,632.7 L402.9,632.3 L405.1,631.9 L407.4,631.5 L409.7,631.1 L412.0,630.7 L414.3,630.3 L416.6,629.9 L418.9,629.5 L421.1,629.1 L423.4,628.7 L425.7,628.2 L428.0,627.8 L430.3,627.3 L432.6,626.8 L435.0,626.3 L437.3,625.8 L439.6,625.3 L441.9,624.8 L444.1,624.3 L446.2,623.8 L448.2,623.3 L450.3,622.8 L452.3,622.4 L454.2,621.9 L456.0,621.4 L457.7,621.0 L459.3,620.5 L460.8,620.1 L462.1,619.7 L463.2,619.3 L464.2,618.9 L465.0,618.6 L465.8,618.2 L466.6,617.8 L467.3,617.4 L468.1,617.0 L468.9,616.6 L469.7,616.1 L470.5,615.7 L471.2,615.3 L471.9,614.8 L472.5,614.3 L473.1,613.8 L473.6,613.2 L474.0,612.6 L474.3,611.9 L474.5,611.2 L474.7,610.4 L474.9,609.6 L475.1,608.9 L475.2,608.1 L475.5,607.4 L475.8,606.7 L476.1,605.9 L476.3,605.2 L476.6,604.5 L476.9,603.8 L477.3,603.1 L477.7,602.5 L478.2,601.9 L478.7,601.4 L479.3,600.9 L479.9,600.5 L480.6,600.1 L481.3,599.8 L482.0,599.4 L482.8,599.1 L483.7,598.7 L484.7,598.3 L485.7,598.0 L486.8,597.6 L488.0,597.3 L489.2,597.0 L490.4,596.6 L491.6,596.3 L492.8,596.0 L493.9,595.7 L495.1,595.4 L496.2,595.1 L497.4,594.8 L498.5,594.5 L499.6,594.3 L500.8,594.0 L501.9,593.7 L503.0,593.4 L504.2,593.1 L505.3,592.8 L506.4,592.5 L507.6,592.2 L508.7,591.9 L509.9,591.7 L511.0,591.4 L512.1,591.1 L513.3,590.9 L514.4,590.7 L515.6,590.4 L516.7,590.2 L517.9,590.0 L519.0,589.8 L520.2,589.6 L521.3,589.4 L522.4,589.3 L523.5,589.1 L524.6,589.0 L525.7,588.8 L527.0,588.6 L528.4,588.4 L530.0,588.2 L531.9,587.9 L533.9,587.6 L536.1,587.2 L538.5,586.8 L540.9,586.4 L543.3,586.0 L545.7,585.7 L548.0,585.3 L550.2,585.0 L552.2,584.7 L554.2,584.4 L556.2,584.1 L558.4,583.8 L560.7,583.4 L563.2,583.0 L566.0,582.6 L569.4,582.1 L573.4,581.4 L577.7,580.7 L582.1,579.9 L586.4,579.2 L590.3,578.6 L593.6,578.0 L596.0,577.6" fill="none" stroke="#1a60d2" stroke-width="2.7" stroke-linejoin="round" stroke-linecap="round"/>
</g>
<line x1="106.0" y1="2.5" x2="106.0" y2="4.7" stroke="#000" stroke-width="1.6"/>
<line x1="106.0" y1="112.7" x2="106.0" y2="110.5" stroke="#000" stroke-width="1.6"/>
<line x1="125.7" y1="2.5" x2="125.7" y2="6.3" stroke="#000" stroke-width="1.6"/>
<line x1="125.7" y1="112.7" x2="125.7" y2="108.9" stroke="#000" stroke-width="1.6"/>
<line x1="145.5" y1="2.5" x2="145.5" y2="4.7" stroke="#000" stroke-width="1.6"/>
<line x1="145.5" y1="112.7" x2="145.5" y2="110.5" stroke="#000" stroke-width="1.6"/>
<line x1="165.3" y1="2.5" x2="165.3" y2="6.3" stroke="#000" stroke-width="1.6"/>
<line x1="165.3" y1="112.7" x2="165.3" y2="108.9" stroke="#000" stroke-width="1.6"/>
<line x1="185.0" y1="2.5" x2="185.0" y2="4.7" stroke="#000" stroke-width="1.6"/>
<line x1="185.0" y1="112.7" x2="185.0" y2="110.5" stroke="#000" stroke-width="1.6"/>
<line x1="204.8" y1="2.5" x2="204.8" y2="6.3" stroke="#000" stroke-width="1.6"/>
<line x1="204.8" y1="112.7" x2="204.8" y2="108.9" stroke="#000" stroke-width="1.6"/>
<line x1="224.6" y1="2.5" x2="224.6" y2="4.7" stroke="#000" stroke-width="1.6"/>
<line x1="224.6" y1="112.7" x2="224.6" y2="110.5" stroke="#000" stroke-width="1.6"/>
<line x1="244.3" y1="2.5" x2="244.3" y2="6.3" stroke="#000" stroke-width="1.6"/>
<line x1="244.3" y1="112.7" x2="244.3" y2="108.9" stroke="#000" stroke-width="1.6"/>
<line x1="264.1" y1="2.5" x2="264.1" y2="4.7" stroke="#000" stroke-width="1.6"/>
<line x1="264.1" y1="112.7" x2="264.1" y2="110.5" stroke="#000" stroke-width="1.6"/>
<line x1="283.9" y1="2.5" x2="283.9" y2="6.3" stroke="#000" stroke-width="1.6"/>
<line x1="283.9" y1="112.7" x2="283.9" y2="108.9" stroke="#000" stroke-width="1.6"/>
<line x1="303.6" y1="2.5" x2="303.6" y2="4.7" stroke="#000" stroke-width="1.6"/>
<line x1="303.6" y1="112.7" x2="303.6" y2="110.5" stroke="#000" stroke-width="1.6"/>
<line x1="376.8" y1="2.5" x2="376.8" y2="4.7" stroke="#000" stroke-width="1.6"/>
<line x1="376.8" y1="112.7" x2="376.8" y2="110.5" stroke="#000" stroke-width="1.6"/>
<line x1="396.6" y1="2.5" x2="396.6" y2="6.3" stroke="#000" stroke-width="1.6"/>
<line x1="396.6" y1="112.7" x2="396.6" y2="108.9" stroke="#000" stroke-width="1.6"/>
<line x1="416.4" y1="2.5" x2="416.4" y2="4.7" stroke="#000" stroke-width="1.6"/>
<line x1="416.4" y1="112.7" x2="416.4" y2="110.5" stroke="#000" stroke-width="1.6"/>
<line x1="436.2" y1="2.5" x2="436.2" y2="6.3" stroke="#000" stroke-width="1.6"/>
<line x1="436.2" y1="112.7" x2="436.2" y2="108.9" stroke="#000" stroke-width="1.6"/>
<line x1="456.0" y1="2.5" x2="456.0" y2="4.7" stroke="#000" stroke-width="1.6"/>
<line x1="456.0" y1="112.7" x2="456.0" y2="110.5" stroke="#000" stroke-width="1.6"/>
<line x1="476.2" y1="2.5" x2="476.2" y2="6.3" stroke="#000" stroke-width="1.6"/>
<line x1="476.2" y1="112.7" x2="476.2" y2="108.9" stroke="#000" stroke-width="1.6"/>
<line x1="495.5" y1="2.5" x2="495.5" y2="4.7" stroke="#000" stroke-width="1.6"/>
<line x1="495.5" y1="112.7" x2="495.5" y2="110.5" stroke="#000" stroke-width="1.6"/>
<line x1="515.3" y1="2.5" x2="515.3" y2="6.3" stroke="#000" stroke-width="1.6"/>
<line x1="515.3" y1="112.7" x2="515.3" y2="108.9" stroke="#000" stroke-width="1.6"/>
<line x1="535.1" y1="2.5" x2="535.1" y2="4.7" stroke="#000" stroke-width="1.6"/>
<line x1="535.1" y1="112.7" x2="535.1" y2="110.5" stroke="#000" stroke-width="1.6"/>
<line x1="554.9" y1="2.5" x2="554.9" y2="6.3" stroke="#000" stroke-width="1.6"/>
<line x1="554.9" y1="112.7" x2="554.9" y2="108.9" stroke="#000" stroke-width="1.6"/>
<line x1="574.7" y1="2.5" x2="574.7" y2="4.7" stroke="#000" stroke-width="1.6"/>
<line x1="574.7" y1="112.7" x2="574.7" y2="110.5" stroke="#000" stroke-width="1.6"/>
<line x1="86.2" y1="20.6" x2="90.0" y2="20.6" stroke="#000" stroke-width="1.6"/>
<line x1="323.4" y1="20.6" x2="319.6" y2="20.6" stroke="#000" stroke-width="1.6"/>
<line x1="86.2" y1="57.6" x2="90.0" y2="57.6" stroke="#000" stroke-width="1.6"/>
<line x1="323.4" y1="57.6" x2="319.6" y2="57.6" stroke="#000" stroke-width="1.6"/>
<line x1="86.2" y1="94.6" x2="90.0" y2="94.6" stroke="#000" stroke-width="1.6"/>
<line x1="323.4" y1="94.6" x2="319.6" y2="94.6" stroke="#000" stroke-width="1.6"/>
<line x1="86.2" y1="39.1" x2="88.4" y2="39.1" stroke="#000" stroke-width="1.6"/>
<line x1="323.4" y1="39.1" x2="321.2" y2="39.1" stroke="#000" stroke-width="1.6"/>
<line x1="86.2" y1="76.1" x2="88.4" y2="76.1" stroke="#000" stroke-width="1.6"/>
<line x1="323.4" y1="76.1" x2="321.2" y2="76.1" stroke="#000" stroke-width="1.6"/>
<line x1="357.0" y1="26.6" x2="360.8" y2="26.6" stroke="#000" stroke-width="1.6"/>
<line x1="594.5" y1="26.6" x2="590.7" y2="26.6" stroke="#000" stroke-width="1.6"/>
<line x1="357.0" y1="58.1" x2="360.8" y2="58.1" stroke="#000" stroke-width="1.6"/>
<line x1="594.5" y1="58.1" x2="590.7" y2="58.1" stroke="#000" stroke-width="1.6"/>
<line x1="357.0" y1="89.6" x2="360.8" y2="89.6" stroke="#000" stroke-width="1.6"/>
<line x1="594.5" y1="89.6" x2="590.7" y2="89.6" stroke="#000" stroke-width="1.6"/>
<line x1="357.0" y1="10.9" x2="359.2" y2="10.9" stroke="#000" stroke-width="1.6"/>
<line x1="594.5" y1="10.9" x2="592.3" y2="10.9" stroke="#000" stroke-width="1.6"/>
<line x1="357.0" y1="42.4" x2="359.2" y2="42.4" stroke="#000" stroke-width="1.6"/>
<line x1="594.5" y1="42.4" x2="592.3" y2="42.4" stroke="#000" stroke-width="1.6"/>
<line x1="357.0" y1="73.8" x2="359.2" y2="73.8" stroke="#000" stroke-width="1.6"/>
<line x1="594.5" y1="73.8" x2="592.3" y2="73.8" stroke="#000" stroke-width="1.6"/>
<line x1="357.0" y1="105.3" x2="359.2" y2="105.3" stroke="#000" stroke-width="1.6"/>
<line x1="594.5" y1="105.3" x2="592.3" y2="105.3" stroke="#000" stroke-width="1.6"/>
<line x1="106.0" y1="112.7" x2="106.0" y2="114.9" stroke="#000" stroke-width="1.6"/>
<line x1="106.0" y1="222.9" x2="106.0" y2="220.7" stroke="#000" stroke-width="1.6"/>
<line x1="125.7" y1="112.7" x2="125.7" y2="116.5" stroke="#000" stroke-width="1.6"/>
<line x1="125.7" y1="222.9" x2="125.7" y2="219.1" stroke="#000" stroke-width="1.6"/>
<line x1="145.5" y1="112.7" x2="145.5" y2="114.9" stroke="#000" stroke-width="1.6"/>
<line x1="145.5" y1="222.9" x2="145.5" y2="220.7" stroke="#000" stroke-width="1.6"/>
<line x1="165.3" y1="112.7" x2="165.3" y2="116.5" stroke="#000" stroke-width="1.6"/>
<line x1="165.3" y1="222.9" x2="165.3" y2="219.1" stroke="#000" stroke-width="1.6"/>
<line x1="185.0" y1="112.7" x2="185.0" y2="114.9" stroke="#000" stroke-width="1.6"/>
<line x1="185.0" y1="222.9" x2="185.0" y2="220.7" stroke="#000" stroke-width="1.6"/>
<line x1="204.8" y1="112.7" x2="204.8" y2="116.5" stroke="#000" stroke-width="1.6"/>
<line x1="204.8" y1="222.9" x2="204.8" y2="219.1" stroke="#000" stroke-width="1.6"/>
<line x1="224.6" y1="112.7" x2="224.6" y2="114.9" stroke="#000" stroke-width="1.6"/>
<line x1="224.6" y1="222.9" x2="224.6" y2="220.7" stroke="#000" stroke-width="1.6"/>
<line x1="244.3" y1="112.7" x2="244.3" y2="116.5" stroke="#000" stroke-width="1.6"/>
<line x1="244.3" y1="222.9" x2="244.3" y2="219.1" stroke="#000" stroke-width="1.6"/>
<line x1="264.1" y1="112.7" x2="264.1" y2="114.9" stroke="#000" stroke-width="1.6"/>
<line x1="264.1" y1="222.9" x2="264.1" y2="220.7" stroke="#000" stroke-width="1.6"/>
<line x1="283.9" y1="112.7" x2="283.9" y2="116.5" stroke="#000" stroke-width="1.6"/>
<line x1="283.9" y1="222.9" x2="283.9" y2="219.1" stroke="#000" stroke-width="1.6"/>
<line x1="303.6" y1="112.7" x2="303.6" y2="114.9" stroke="#000" stroke-width="1.6"/>
<line x1="303.6" y1="222.9" x2="303.6" y2="220.7" stroke="#000" stroke-width="1.6"/>
<line x1="376.8" y1="112.7" x2="376.8" y2="114.9" stroke="#000" stroke-width="1.6"/>
<line x1="376.8" y1="222.9" x2="376.8" y2="220.7" stroke="#000" stroke-width="1.6"/>
<line x1="396.6" y1="112.7" x2="396.6" y2="116.5" stroke="#000" stroke-width="1.6"/>
<line x1="396.6" y1="222.9" x2="396.6" y2="219.1" stroke="#000" stroke-width="1.6"/>
<line x1="416.4" y1="112.7" x2="416.4" y2="114.9" stroke="#000" stroke-width="1.6"/>
<line x1="416.4" y1="222.9" x2="416.4" y2="220.7" stroke="#000" stroke-width="1.6"/>
<line x1="436.2" y1="112.7" x2="436.2" y2="116.5" stroke="#000" stroke-width="1.6"/>
<line x1="436.2" y1="222.9" x2="436.2" y2="219.1" stroke="#000" stroke-width="1.6"/>
<line x1="456.0" y1="112.7" x2="456.0" y2="114.9" stroke="#000" stroke-width="1.6"/>
<line x1="456.0" y1="222.9" x2="456.0" y2="220.7" stroke="#000" stroke-width="1.6"/>
<line x1="476.2" y1="112.7" x2="476.2" y2="116.5" stroke="#000" stroke-width="1.6"/>
<line x1="476.2" y1="222.9" x2="476.2" y2="219.1" stroke="#000" stroke-width="1.6"/>
<line x1="495.5" y1="112.7" x2="495.5" y2="114.9" stroke="#000" stroke-width="1.6"/>
<line x1="495.5" y1="222.9" x2="495.5" y2="220.7" stroke="#000" stroke-width="1.6"/>
<line x1="515.3" y1="112.7" x2="515.3" y2="116.5" stroke="#000" stroke-width="1.6"/>
<line x1="515.3" y1="222.9" x2="515.3" y2="219.1" stroke="#000" stroke-width="1.6"/>
<line x1="535.1" y1="112.7" x2="535.1" y2="114.9" stroke="#000" stroke-width="1.6"/>
<line x1="535.1" y1="222.9" x2="535.1" y2="220.7" stroke="#000" stroke-width="1.6"/>
<line x1="554.9" y1="112.7" x2="554.9" y2="116.5" stroke="#000" stroke-width="1.6"/>
<line x1="554.9" y1="222.9" x2="554.9" y2="219.1" stroke="#000" stroke-width="1.6"/>
<line x1="574.7" y1="112.7" x2="574.7" y2="114.9" stroke="#000" stroke-width="1.6"/>
<line x1="574.7" y1="222.9" x2="574.7" y2="220.7" stroke="#000" stroke-width="1.6"/>
<line x1="86.2" y1="134.4" x2="90.0" y2="134.4" stroke="#000" stroke-width="1.6"/>
<line x1="323.4" y1="134.4" x2="319.6" y2="134.4" stroke="#000" stroke-width="1.6"/>
<line x1="86.2" y1="178.8" x2="90.0" y2="178.8" stroke="#000" stroke-width="1.6"/>
<line x1="323.4" y1="178.8" x2="319.6" y2="178.8" stroke="#000" stroke-width="1.6"/>
<line x1="86.2" y1="156.6" x2="88.4" y2="156.6" stroke="#000" stroke-width="1.6"/>
<line x1="323.4" y1="156.6" x2="321.2" y2="156.6" stroke="#000" stroke-width="1.6"/>
<line x1="86.2" y1="201.0" x2="88.4" y2="201.0" stroke="#000" stroke-width="1.6"/>
<line x1="323.4" y1="201.0" x2="321.2" y2="201.0" stroke="#000" stroke-width="1.6"/>
<line x1="357.0" y1="136.8" x2="360.8" y2="136.8" stroke="#000" stroke-width="1.6"/>
<line x1="594.5" y1="136.8" x2="590.7" y2="136.8" stroke="#000" stroke-width="1.6"/>
<line x1="357.0" y1="168.3" x2="360.8" y2="168.3" stroke="#000" stroke-width="1.6"/>
<line x1="594.5" y1="168.3" x2="590.7" y2="168.3" stroke="#000" stroke-width="1.6"/>
<line x1="357.0" y1="199.8" x2="360.8" y2="199.8" stroke="#000" stroke-width="1.6"/>
<line x1="594.5" y1="199.8" x2="590.7" y2="199.8" stroke="#000" stroke-width="1.6"/>
<line x1="357.0" y1="121.1" x2="359.2" y2="121.1" stroke="#000" stroke-width="1.6"/>
<line x1="594.5" y1="121.1" x2="592.3" y2="121.1" stroke="#000" stroke-width="1.6"/>
<line x1="357.0" y1="152.6" x2="359.2" y2="152.6" stroke="#000" stroke-width="1.6"/>
<line x1="594.5" y1="152.6" x2="592.3" y2="152.6" stroke="#000" stroke-width="1.6"/>
<line x1="357.0" y1="184.1" x2="359.2" y2="184.1" stroke="#000" stroke-width="1.6"/>
<line x1="594.5" y1="184.1" x2="592.3" y2="184.1" stroke="#000" stroke-width="1.6"/>
<line x1="357.0" y1="215.6" x2="359.2" y2="215.6" stroke="#000" stroke-width="1.6"/>
<line x1="594.5" y1="215.6" x2="592.3" y2="215.6" stroke="#000" stroke-width="1.6"/>
<line x1="106.0" y1="222.9" x2="106.0" y2="225.1" stroke="#000" stroke-width="1.6"/>
<line x1="106.0" y1="333.1" x2="106.0" y2="330.9" stroke="#000" stroke-width="1.6"/>
<line x1="125.7" y1="222.9" x2="125.7" y2="226.7" stroke="#000" stroke-width="1.6"/>
<line x1="125.7" y1="333.1" x2="125.7" y2="329.3" stroke="#000" stroke-width="1.6"/>
<line x1="145.5" y1="222.9" x2="145.5" y2="225.1" stroke="#000" stroke-width="1.6"/>
<line x1="145.5" y1="333.1" x2="145.5" y2="330.9" stroke="#000" stroke-width="1.6"/>
<line x1="165.3" y1="222.9" x2="165.3" y2="226.7" stroke="#000" stroke-width="1.6"/>
<line x1="165.3" y1="333.1" x2="165.3" y2="329.3" stroke="#000" stroke-width="1.6"/>
<line x1="185.0" y1="222.9" x2="185.0" y2="225.1" stroke="#000" stroke-width="1.6"/>
<line x1="185.0" y1="333.1" x2="185.0" y2="330.9" stroke="#000" stroke-width="1.6"/>
<line x1="204.8" y1="222.9" x2="204.8" y2="226.7" stroke="#000" stroke-width="1.6"/>
<line x1="204.8" y1="333.1" x2="204.8" y2="329.3" stroke="#000" stroke-width="1.6"/>
<line x1="224.6" y1="222.9" x2="224.6" y2="225.1" stroke="#000" stroke-width="1.6"/>
<line x1="224.6" y1="333.1" x2="224.6" y2="330.9" stroke="#000" stroke-width="1.6"/>
<line x1="244.3" y1="222.9" x2="244.3" y2="226.7" stroke="#000" stroke-width="1.6"/>
<line x1="244.3" y1="333.1" x2="244.3" y2="329.3" stroke="#000" stroke-width="1.6"/>
<line x1="264.1" y1="222.9" x2="264.1" y2="225.1" stroke="#000" stroke-width="1.6"/>
<line x1="264.1" y1="333.1" x2="264.1" y2="330.9" stroke="#000" stroke-width="1.6"/>
<line x1="283.9" y1="222.9" x2="283.9" y2="226.7" stroke="#000" stroke-width="1.6"/>
<line x1="283.9" y1="333.1" x2="283.9" y2="329.3" stroke="#000" stroke-width="1.6"/>
<line x1="303.6" y1="222.9" x2="303.6" y2="225.1" stroke="#000" stroke-width="1.6"/>
<line x1="303.6" y1="333.1" x2="303.6" y2="330.9" stroke="#000" stroke-width="1.6"/>
<line x1="376.8" y1="222.9" x2="376.8" y2="225.1" stroke="#000" stroke-width="1.6"/>
<line x1="376.8" y1="333.1" x2="376.8" y2="330.9" stroke="#000" stroke-width="1.6"/>
<line x1="396.6" y1="222.9" x2="396.6" y2="226.7" stroke="#000" stroke-width="1.6"/>
<line x1="396.6" y1="333.1" x2="396.6" y2="329.3" stroke="#000" stroke-width="1.6"/>
<line x1="416.4" y1="222.9" x2="416.4" y2="225.1" stroke="#000" stroke-width="1.6"/>
<line x1="416.4" y1="333.1" x2="416.4" y2="330.9" stroke="#000" stroke-width="1.6"/>
<line x1="436.2" y1="222.9" x2="436.2" y2="226.7" stroke="#000" stroke-width="1.6"/>
<line x1="436.2" y1="333.1" x2="436.2" y2="329.3" stroke="#000" stroke-width="1.6"/>
<line x1="456.0" y1="222.9" x2="456.0" y2="225.1" stroke="#000" stroke-width="1.6"/>
<line x1="456.0" y1="333.1" x2="456.0" y2="330.9" stroke="#000" stroke-width="1.6"/>
<line x1="476.2" y1="222.9" x2="476.2" y2="226.7" stroke="#000" stroke-width="1.6"/>
<line x1="476.2" y1="333.1" x2="476.2" y2="329.3" stroke="#000" stroke-width="1.6"/>
<line x1="495.5" y1="222.9" x2="495.5" y2="225.1" stroke="#000" stroke-width="1.6"/>
<line x1="495.5" y1="333.1" x2="495.5" y2="330.9" stroke="#000" stroke-width="1.6"/>
<line x1="515.3" y1="222.9" x2="515.3" y2="226.7" stroke="#000" stroke-width="1.6"/>
<line x1="515.3" y1="333.1" x2="515.3" y2="329.3" stroke="#000" stroke-width="1.6"/>
<line x1="535.1" y1="222.9" x2="535.1" y2="225.1" stroke="#000" stroke-width="1.6"/>
<line x1="535.1" y1="333.1" x2="535.1" y2="330.9" stroke="#000" stroke-width="1.6"/>
<line x1="554.9" y1="222.9" x2="554.9" y2="226.7" stroke="#000" stroke-width="1.6"/>
<line x1="554.9" y1="333.1" x2="554.9" y2="329.3" stroke="#000" stroke-width="1.6"/>
<line x1="574.7" y1="222.9" x2="574.7" y2="225.1" stroke="#000" stroke-width="1.6"/>
<line x1="574.7" y1="333.1" x2="574.7" y2="330.9" stroke="#000" stroke-width="1.6"/>
<line x1="86.2" y1="239.6" x2="90.0" y2="239.6" stroke="#000" stroke-width="1.6"/>
<line x1="323.4" y1="239.6" x2="319.6" y2="239.6" stroke="#000" stroke-width="1.6"/>
<line x1="86.2" y1="323.6" x2="90.0" y2="323.6" stroke="#000" stroke-width="1.6"/>
<line x1="323.4" y1="323.6" x2="319.6" y2="323.6" stroke="#000" stroke-width="1.6"/>
<line x1="86.2" y1="281.6" x2="88.4" y2="281.6" stroke="#000" stroke-width="1.6"/>
<line x1="323.4" y1="281.6" x2="321.2" y2="281.6" stroke="#000" stroke-width="1.6"/>
<line x1="357.0" y1="247.0" x2="360.8" y2="247.0" stroke="#000" stroke-width="1.6"/>
<line x1="594.5" y1="247.0" x2="590.7" y2="247.0" stroke="#000" stroke-width="1.6"/>
<line x1="357.0" y1="278.5" x2="360.8" y2="278.5" stroke="#000" stroke-width="1.6"/>
<line x1="594.5" y1="278.5" x2="590.7" y2="278.5" stroke="#000" stroke-width="1.6"/>
<line x1="357.0" y1="310.0" x2="360.8" y2="310.0" stroke="#000" stroke-width="1.6"/>
<line x1="594.5" y1="310.0" x2="590.7" y2="310.0" stroke="#000" stroke-width="1.6"/>
<line x1="357.0" y1="231.2" x2="359.2" y2="231.2" stroke="#000" stroke-width="1.6"/>
<line x1="594.5" y1="231.2" x2="592.3" y2="231.2" stroke="#000" stroke-width="1.6"/>
<line x1="357.0" y1="262.8" x2="359.2" y2="262.8" stroke="#000" stroke-width="1.6"/>
<line x1="594.5" y1="262.8" x2="592.3" y2="262.8" stroke="#000" stroke-width="1.6"/>
<line x1="357.0" y1="294.2" x2="359.2" y2="294.2" stroke="#000" stroke-width="1.6"/>
<line x1="594.5" y1="294.2" x2="592.3" y2="294.2" stroke="#000" stroke-width="1.6"/>
<line x1="357.0" y1="325.8" x2="359.2" y2="325.8" stroke="#000" stroke-width="1.6"/>
<line x1="594.5" y1="325.8" x2="592.3" y2="325.8" stroke="#000" stroke-width="1.6"/>
<line x1="106.0" y1="333.1" x2="106.0" y2="335.3" stroke="#000" stroke-width="1.6"/>
<line x1="106.0" y1="443.3" x2="106.0" y2="441.1" stroke="#000" stroke-width="1.6"/>
<line x1="125.7" y1="333.1" x2="125.7" y2="336.9" stroke="#000" stroke-width="1.6"/>
<line x1="125.7" y1="443.3" x2="125.7" y2="439.5" stroke="#000" stroke-width="1.6"/>
<line x1="145.5" y1="333.1" x2="145.5" y2="335.3" stroke="#000" stroke-width="1.6"/>
<line x1="145.5" y1="443.3" x2="145.5" y2="441.1" stroke="#000" stroke-width="1.6"/>
<line x1="165.3" y1="333.1" x2="165.3" y2="336.9" stroke="#000" stroke-width="1.6"/>
<line x1="165.3" y1="443.3" x2="165.3" y2="439.5" stroke="#000" stroke-width="1.6"/>
<line x1="185.0" y1="333.1" x2="185.0" y2="335.3" stroke="#000" stroke-width="1.6"/>
<line x1="185.0" y1="443.3" x2="185.0" y2="441.1" stroke="#000" stroke-width="1.6"/>
<line x1="204.8" y1="333.1" x2="204.8" y2="336.9" stroke="#000" stroke-width="1.6"/>
<line x1="204.8" y1="443.3" x2="204.8" y2="439.5" stroke="#000" stroke-width="1.6"/>
<line x1="224.6" y1="333.1" x2="224.6" y2="335.3" stroke="#000" stroke-width="1.6"/>
<line x1="224.6" y1="443.3" x2="224.6" y2="441.1" stroke="#000" stroke-width="1.6"/>
<line x1="244.3" y1="333.1" x2="244.3" y2="336.9" stroke="#000" stroke-width="1.6"/>
<line x1="244.3" y1="443.3" x2="244.3" y2="439.5" stroke="#000" stroke-width="1.6"/>
<line x1="264.1" y1="333.1" x2="264.1" y2="335.3" stroke="#000" stroke-width="1.6"/>
<line x1="264.1" y1="443.3" x2="264.1" y2="441.1" stroke="#000" stroke-width="1.6"/>
<line x1="283.9" y1="333.1" x2="283.9" y2="336.9" stroke="#000" stroke-width="1.6"/>
<line x1="283.9" y1="443.3" x2="283.9" y2="439.5" stroke="#000" stroke-width="1.6"/>
<line x1="303.6" y1="333.1" x2="303.6" y2="335.3" stroke="#000" stroke-width="1.6"/>
<line x1="303.6" y1="443.3" x2="303.6" y2="441.1" stroke="#000" stroke-width="1.6"/>
<line x1="376.8" y1="333.1" x2="376.8" y2="335.3" stroke="#000" stroke-width="1.6"/>
<line x1="376.8" y1="443.3" x2="376.8" y2="441.1" stroke="#000" stroke-width="1.6"/>
<line x1="396.6" y1="333.1" x2="396.6" y2="336.9" stroke="#000" stroke-width="1.6"/>
<line x1="396.6" y1="443.3" x2="396.6" y2="439.5" stroke="#000" stroke-width="1.6"/>
<line x1="416.4" y1="333.1" x2="416.4" y2="335.3" stroke="#000" stroke-width="1.6"/>
<line x1="416.4" y1="443.3" x2="416.4" y2="441.1" stroke="#000" stroke-width="1.6"/>
<line x1="436.2" y1="333.1" x2="436.2" y2="336.9" stroke="#000" stroke-width="1.6"/>
<line x1="436.2" y1="443.3" x2="436.2" y2="439.5" stroke="#000" stroke-width="1.6"/>
<line x1="456.0" y1="333.1" x2="456.0" y2="335.3" stroke="#000" stroke-width="1.6"/>
<line x1="456.0" y1="443.3" x2="456.0" y2="441.1" stroke="#000" stroke-width="1.6"/>
<line x1="476.2" y1="333.1" x2="476.2" y2="336.9" stroke="#000" stroke-width="1.6"/>
<line x1="476.2" y1="443.3" x2="476.2" y2="439.5" stroke="#000" stroke-width="1.6"/>
<line x1="495.5" y1="333.1" x2="495.5" y2="335.3" stroke="#000" stroke-width="1.6"/>
<line x1="495.5" y1="443.3" x2="495.5" y2="441.1" stroke="#000" stroke-width="1.6"/>
<line x1="515.3" y1="333.1" x2="515.3" y2="336.9" stroke="#000" stroke-width="1.6"/>
<line x1="515.3" y1="443.3" x2="515.3" y2="439.5" stroke="#000" stroke-width="1.6"/>
<line x1="535.1" y1="333.1" x2="535.1" y2="335.3" stroke="#000" stroke-width="1.6"/>
<line x1="535.1" y1="443.3" x2="535.1" y2="441.1" stroke="#000" stroke-width="1.6"/>
<line x1="554.9" y1="333.1" x2="554.9" y2="336.9" stroke="#000" stroke-width="1.6"/>
<line x1="554.9" y1="443.3" x2="554.9" y2="439.5" stroke="#000" stroke-width="1.6"/>
<line x1="574.7" y1="333.1" x2="574.7" y2="335.3" stroke="#000" stroke-width="1.6"/>
<line x1="574.7" y1="443.3" x2="574.7" y2="441.1" stroke="#000" stroke-width="1.6"/>
<line x1="86.2" y1="342.8" x2="90.0" y2="342.8" stroke="#000" stroke-width="1.6"/>
<line x1="323.4" y1="342.8" x2="319.6" y2="342.8" stroke="#000" stroke-width="1.6"/>
<line x1="86.2" y1="395.6" x2="90.0" y2="395.6" stroke="#000" stroke-width="1.6"/>
<line x1="323.4" y1="395.6" x2="319.6" y2="395.6" stroke="#000" stroke-width="1.6"/>
<line x1="86.2" y1="369.2" x2="88.4" y2="369.2" stroke="#000" stroke-width="1.6"/>
<line x1="323.4" y1="369.2" x2="321.2" y2="369.2" stroke="#000" stroke-width="1.6"/>
<line x1="86.2" y1="422.0" x2="88.4" y2="422.0" stroke="#000" stroke-width="1.6"/>
<line x1="323.4" y1="422.0" x2="321.2" y2="422.0" stroke="#000" stroke-width="1.6"/>
<line x1="357.0" y1="357.2" x2="360.8" y2="357.2" stroke="#000" stroke-width="1.6"/>
<line x1="594.5" y1="357.2" x2="590.7" y2="357.2" stroke="#000" stroke-width="1.6"/>
<line x1="357.0" y1="388.7" x2="360.8" y2="388.7" stroke="#000" stroke-width="1.6"/>
<line x1="594.5" y1="388.7" x2="590.7" y2="388.7" stroke="#000" stroke-width="1.6"/>
<line x1="357.0" y1="420.2" x2="360.8" y2="420.2" stroke="#000" stroke-width="1.6"/>
<line x1="594.5" y1="420.2" x2="590.7" y2="420.2" stroke="#000" stroke-width="1.6"/>
<line x1="357.0" y1="341.5" x2="359.2" y2="341.5" stroke="#000" stroke-width="1.6"/>
<line x1="594.5" y1="341.5" x2="592.3" y2="341.5" stroke="#000" stroke-width="1.6"/>
<line x1="357.0" y1="373.0" x2="359.2" y2="373.0" stroke="#000" stroke-width="1.6"/>
<line x1="594.5" y1="373.0" x2="592.3" y2="373.0" stroke="#000" stroke-width="1.6"/>
<line x1="357.0" y1="404.5" x2="359.2" y2="404.5" stroke="#000" stroke-width="1.6"/>
<line x1="594.5" y1="404.5" x2="592.3" y2="404.5" stroke="#000" stroke-width="1.6"/>
<line x1="357.0" y1="436.0" x2="359.2" y2="436.0" stroke="#000" stroke-width="1.6"/>
<line x1="594.5" y1="436.0" x2="592.3" y2="436.0" stroke="#000" stroke-width="1.6"/>
<line x1="106.0" y1="443.3" x2="106.0" y2="445.5" stroke="#000" stroke-width="1.6"/>
<line x1="106.0" y1="553.5" x2="106.0" y2="551.3" stroke="#000" stroke-width="1.6"/>
<line x1="125.7" y1="443.3" x2="125.7" y2="447.1" stroke="#000" stroke-width="1.6"/>
<line x1="125.7" y1="553.5" x2="125.7" y2="549.7" stroke="#000" stroke-width="1.6"/>
<line x1="145.5" y1="443.3" x2="145.5" y2="445.5" stroke="#000" stroke-width="1.6"/>
<line x1="145.5" y1="553.5" x2="145.5" y2="551.3" stroke="#000" stroke-width="1.6"/>
<line x1="165.3" y1="443.3" x2="165.3" y2="447.1" stroke="#000" stroke-width="1.6"/>
<line x1="165.3" y1="553.5" x2="165.3" y2="549.7" stroke="#000" stroke-width="1.6"/>
<line x1="185.0" y1="443.3" x2="185.0" y2="445.5" stroke="#000" stroke-width="1.6"/>
<line x1="185.0" y1="553.5" x2="185.0" y2="551.3" stroke="#000" stroke-width="1.6"/>
<line x1="204.8" y1="443.3" x2="204.8" y2="447.1" stroke="#000" stroke-width="1.6"/>
<line x1="204.8" y1="553.5" x2="204.8" y2="549.7" stroke="#000" stroke-width="1.6"/>
<line x1="224.6" y1="443.3" x2="224.6" y2="445.5" stroke="#000" stroke-width="1.6"/>
<line x1="224.6" y1="553.5" x2="224.6" y2="551.3" stroke="#000" stroke-width="1.6"/>
<line x1="244.3" y1="443.3" x2="244.3" y2="447.1" stroke="#000" stroke-width="1.6"/>
<line x1="244.3" y1="553.5" x2="244.3" y2="549.7" stroke="#000" stroke-width="1.6"/>
<line x1="264.1" y1="443.3" x2="264.1" y2="445.5" stroke="#000" stroke-width="1.6"/>
<line x1="264.1" y1="553.5" x2="264.1" y2="551.3" stroke="#000" stroke-width="1.6"/>
<line x1="283.9" y1="443.3" x2="283.9" y2="447.1" stroke="#000" stroke-width="1.6"/>
<line x1="283.9" y1="553.5" x2="283.9" y2="549.7" stroke="#000" stroke-width="1.6"/>
<line x1="303.6" y1="443.3" x2="303.6" y2="445.5" stroke="#000" stroke-width="1.6"/>
<line x1="303.6" y1="553.5" x2="303.6" y2="551.3" stroke="#000" stroke-width="1.6"/>
<line x1="376.8" y1="443.3" x2="376.8" y2="445.5" stroke="#000" stroke-width="1.6"/>
<line x1="376.8" y1="553.5" x2="376.8" y2="551.3" stroke="#000" stroke-width="1.6"/>
<line x1="396.6" y1="443.3" x2="396.6" y2="447.1" stroke="#000" stroke-width="1.6"/>
<line x1="396.6" y1="553.5" x2="396.6" y2="549.7" stroke="#000" stroke-width="1.6"/>
<line x1="416.4" y1="443.3" x2="416.4" y2="445.5" stroke="#000" stroke-width="1.6"/>
<line x1="416.4" y1="553.5" x2="416.4" y2="551.3" stroke="#000" stroke-width="1.6"/>
<line x1="436.2" y1="443.3" x2="436.2" y2="447.1" stroke="#000" stroke-width="1.6"/>
<line x1="436.2" y1="553.5" x2="436.2" y2="549.7" stroke="#000" stroke-width="1.6"/>
<line x1="456.0" y1="443.3" x2="456.0" y2="445.5" stroke="#000" stroke-width="1.6"/>
<line x1="456.0" y1="553.5" x2="456.0" y2="551.3" stroke="#000" stroke-width="1.6"/>
<line x1="476.2" y1="443.3" x2="476.2" y2="447.1" stroke="#000" stroke-width="1.6"/>
<line x1="476.2" y1="553.5" x2="476.2" y2="549.7" stroke="#000" stroke-width="1.6"/>
<line x1="495.5" y1="443.3" x2="495.5" y2="445.5" stroke="#000" stroke-width="1.6"/>
<line x1="495.5" y1="553.5" x2="495.5" y2="551.3" stroke="#000" stroke-width="1.6"/>
<line x1="515.3" y1="443.3" x2="515.3" y2="447.1" stroke="#000" stroke-width="1.6"/>
<line x1="515.3" y1="553.5" x2="515.3" y2="549.7" stroke="#000" stroke-width="1.6"/>
<line x1="535.1" y1="443.3" x2="535.1" y2="445.5" stroke="#000" stroke-width="1.6"/>
<line x1="535.1" y1="553.5" x2="535.1" y2="551.3" stroke="#000" stroke-width="1.6"/>
<line x1="554.9" y1="443.3" x2="554.9" y2="447.1" stroke="#000" stroke-width="1.6"/>
<line x1="554.9" y1="553.5" x2="554.9" y2="549.7" stroke="#000" stroke-width="1.6"/>
<line x1="574.7" y1="443.3" x2="574.7" y2="445.5" stroke="#000" stroke-width="1.6"/>
<line x1="574.7" y1="553.5" x2="574.7" y2="551.3" stroke="#000" stroke-width="1.6"/>
<line x1="86.2" y1="459.9" x2="90.0" y2="459.9" stroke="#000" stroke-width="1.6"/>
<line x1="323.4" y1="459.9" x2="319.6" y2="459.9" stroke="#000" stroke-width="1.6"/>
<line x1="86.2" y1="498.9" x2="90.0" y2="498.9" stroke="#000" stroke-width="1.6"/>
<line x1="323.4" y1="498.9" x2="319.6" y2="498.9" stroke="#000" stroke-width="1.6"/>
<line x1="86.2" y1="537.9" x2="90.0" y2="537.9" stroke="#000" stroke-width="1.6"/>
<line x1="323.4" y1="537.9" x2="319.6" y2="537.9" stroke="#000" stroke-width="1.6"/>
<line x1="86.2" y1="479.4" x2="88.4" y2="479.4" stroke="#000" stroke-width="1.6"/>
<line x1="323.4" y1="479.4" x2="321.2" y2="479.4" stroke="#000" stroke-width="1.6"/>
<line x1="86.2" y1="518.4" x2="88.4" y2="518.4" stroke="#000" stroke-width="1.6"/>
<line x1="323.4" y1="518.4" x2="321.2" y2="518.4" stroke="#000" stroke-width="1.6"/>
<line x1="357.0" y1="467.4" x2="360.8" y2="467.4" stroke="#000" stroke-width="1.6"/>
<line x1="594.5" y1="467.4" x2="590.7" y2="467.4" stroke="#000" stroke-width="1.6"/>
<line x1="357.0" y1="498.9" x2="360.8" y2="498.9" stroke="#000" stroke-width="1.6"/>
<line x1="594.5" y1="498.9" x2="590.7" y2="498.9" stroke="#000" stroke-width="1.6"/>
<line x1="357.0" y1="530.4" x2="360.8" y2="530.4" stroke="#000" stroke-width="1.6"/>
<line x1="594.5" y1="530.4" x2="590.7" y2="530.4" stroke="#000" stroke-width="1.6"/>
<line x1="357.0" y1="451.6" x2="359.2" y2="451.6" stroke="#000" stroke-width="1.6"/>
<line x1="594.5" y1="451.6" x2="592.3" y2="451.6" stroke="#000" stroke-width="1.6"/>
<line x1="357.0" y1="483.1" x2="359.2" y2="483.1" stroke="#000" stroke-width="1.6"/>
<line x1="594.5" y1="483.1" x2="592.3" y2="483.1" stroke="#000" stroke-width="1.6"/>
<line x1="357.0" y1="514.6" x2="359.2" y2="514.6" stroke="#000" stroke-width="1.6"/>
<line x1="594.5" y1="514.6" x2="592.3" y2="514.6" stroke="#000" stroke-width="1.6"/>
<line x1="357.0" y1="546.1" x2="359.2" y2="546.1" stroke="#000" stroke-width="1.6"/>
<line x1="594.5" y1="546.1" x2="592.3" y2="546.1" stroke="#000" stroke-width="1.6"/>
<line x1="106.0" y1="553.5" x2="106.0" y2="555.7" stroke="#000" stroke-width="1.6"/>
<line x1="106.0" y1="663.7" x2="106.0" y2="661.5" stroke="#000" stroke-width="1.6"/>
<line x1="125.7" y1="553.5" x2="125.7" y2="557.3" stroke="#000" stroke-width="1.6"/>
<line x1="125.7" y1="663.7" x2="125.7" y2="659.9" stroke="#000" stroke-width="1.6"/>
<line x1="145.5" y1="553.5" x2="145.5" y2="555.7" stroke="#000" stroke-width="1.6"/>
<line x1="145.5" y1="663.7" x2="145.5" y2="661.5" stroke="#000" stroke-width="1.6"/>
<line x1="165.3" y1="553.5" x2="165.3" y2="557.3" stroke="#000" stroke-width="1.6"/>
<line x1="165.3" y1="663.7" x2="165.3" y2="659.9" stroke="#000" stroke-width="1.6"/>
<line x1="185.0" y1="553.5" x2="185.0" y2="555.7" stroke="#000" stroke-width="1.6"/>
<line x1="185.0" y1="663.7" x2="185.0" y2="661.5" stroke="#000" stroke-width="1.6"/>
<line x1="204.8" y1="553.5" x2="204.8" y2="557.3" stroke="#000" stroke-width="1.6"/>
<line x1="204.8" y1="663.7" x2="204.8" y2="659.9" stroke="#000" stroke-width="1.6"/>
<line x1="224.6" y1="553.5" x2="224.6" y2="555.7" stroke="#000" stroke-width="1.6"/>
<line x1="224.6" y1="663.7" x2="224.6" y2="661.5" stroke="#000" stroke-width="1.6"/>
<line x1="244.3" y1="553.5" x2="244.3" y2="557.3" stroke="#000" stroke-width="1.6"/>
<line x1="244.3" y1="663.7" x2="244.3" y2="659.9" stroke="#000" stroke-width="1.6"/>
<line x1="264.1" y1="553.5" x2="264.1" y2="555.7" stroke="#000" stroke-width="1.6"/>
<line x1="264.1" y1="663.7" x2="264.1" y2="661.5" stroke="#000" stroke-width="1.6"/>
<line x1="283.9" y1="553.5" x2="283.9" y2="557.3" stroke="#000" stroke-width="1.6"/>
<line x1="283.9" y1="663.7" x2="283.9" y2="659.9" stroke="#000" stroke-width="1.6"/>
<line x1="303.6" y1="553.5" x2="303.6" y2="555.7" stroke="#000" stroke-width="1.6"/>
<line x1="303.6" y1="663.7" x2="303.6" y2="661.5" stroke="#000" stroke-width="1.6"/>
<line x1="376.8" y1="553.5" x2="376.8" y2="555.7" stroke="#000" stroke-width="1.6"/>
<line x1="376.8" y1="663.7" x2="376.8" y2="661.5" stroke="#000" stroke-width="1.6"/>
<line x1="396.6" y1="553.5" x2="396.6" y2="557.3" stroke="#000" stroke-width="1.6"/>
<line x1="396.6" y1="663.7" x2="396.6" y2="659.9" stroke="#000" stroke-width="1.6"/>
<line x1="416.4" y1="553.5" x2="416.4" y2="555.7" stroke="#000" stroke-width="1.6"/>
<line x1="416.4" y1="663.7" x2="416.4" y2="661.5" stroke="#000" stroke-width="1.6"/>
<line x1="436.2" y1="553.5" x2="436.2" y2="557.3" stroke="#000" stroke-width="1.6"/>
<line x1="436.2" y1="663.7" x2="436.2" y2="659.9" stroke="#000" stroke-width="1.6"/>
<line x1="456.0" y1="553.5" x2="456.0" y2="555.7" stroke="#000" stroke-width="1.6"/>
<line x1="456.0" y1="663.7" x2="456.0" y2="661.5" stroke="#000" stroke-width="1.6"/>
<line x1="476.2" y1="553.5" x2="476.2" y2="557.3" stroke="#000" stroke-width="1.6"/>
<line x1="476.2" y1="663.7" x2="476.2" y2="659.9" stroke="#000" stroke-width="1.6"/>
<line x1="495.5" y1="553.5" x2="495.5" y2="555.7" stroke="#000" stroke-width="1.6"/>
<line x1="495.5" y1="663.7" x2="495.5" y2="661.5" stroke="#000" stroke-width="1.6"/>
<line x1="515.3" y1="553.5" x2="515.3" y2="557.3" stroke="#000" stroke-width="1.6"/>
<line x1="515.3" y1="663.7" x2="515.3" y2="659.9" stroke="#000" stroke-width="1.6"/>
<line x1="535.1" y1="553.5" x2="535.1" y2="555.7" stroke="#000" stroke-width="1.6"/>
<line x1="535.1" y1="663.7" x2="535.1" y2="661.5" stroke="#000" stroke-width="1.6"/>
<line x1="554.9" y1="553.5" x2="554.9" y2="557.3" stroke="#000" stroke-width="1.6"/>
<line x1="554.9" y1="663.7" x2="554.9" y2="659.9" stroke="#000" stroke-width="1.6"/>
<line x1="574.7" y1="553.5" x2="574.7" y2="555.7" stroke="#000" stroke-width="1.6"/>
<line x1="574.7" y1="663.7" x2="574.7" y2="661.5" stroke="#000" stroke-width="1.6"/>
<line x1="86.2" y1="573.4" x2="90.0" y2="573.4" stroke="#000" stroke-width="1.6"/>
<line x1="323.4" y1="573.4" x2="319.6" y2="573.4" stroke="#000" stroke-width="1.6"/>
<line x1="86.2" y1="613.5" x2="90.0" y2="613.5" stroke="#000" stroke-width="1.6"/>
<line x1="323.4" y1="613.5" x2="319.6" y2="613.5" stroke="#000" stroke-width="1.6"/>
<line x1="86.2" y1="653.6" x2="90.0" y2="653.6" stroke="#000" stroke-width="1.6"/>
<line x1="323.4" y1="653.6" x2="319.6" y2="653.6" stroke="#000" stroke-width="1.6"/>
<line x1="86.2" y1="593.5" x2="88.4" y2="593.5" stroke="#000" stroke-width="1.6"/>
<line x1="323.4" y1="593.5" x2="321.2" y2="593.5" stroke="#000" stroke-width="1.6"/>
<line x1="86.2" y1="633.6" x2="88.4" y2="633.6" stroke="#000" stroke-width="1.6"/>
<line x1="323.4" y1="633.6" x2="321.2" y2="633.6" stroke="#000" stroke-width="1.6"/>
<line x1="357.0" y1="577.6" x2="360.8" y2="577.6" stroke="#000" stroke-width="1.6"/>
<line x1="594.5" y1="577.6" x2="590.7" y2="577.6" stroke="#000" stroke-width="1.6"/>
<line x1="357.0" y1="609.1" x2="360.8" y2="609.1" stroke="#000" stroke-width="1.6"/>
<line x1="594.5" y1="609.1" x2="590.7" y2="609.1" stroke="#000" stroke-width="1.6"/>
<line x1="357.0" y1="640.6" x2="360.8" y2="640.6" stroke="#000" stroke-width="1.6"/>
<line x1="594.5" y1="640.6" x2="590.7" y2="640.6" stroke="#000" stroke-width="1.6"/>
<line x1="357.0" y1="561.9" x2="359.2" y2="561.9" stroke="#000" stroke-width="1.6"/>
<line x1="594.5" y1="561.9" x2="592.3" y2="561.9" stroke="#000" stroke-width="1.6"/>
<line x1="357.0" y1="593.4" x2="359.2" y2="593.4" stroke="#000" stroke-width="1.6"/>
<line x1="594.5" y1="593.4" x2="592.3" y2="593.4" stroke="#000" stroke-width="1.6"/>
<line x1="357.0" y1="624.9" x2="359.2" y2="624.9" stroke="#000" stroke-width="1.6"/>
<line x1="594.5" y1="624.9" x2="592.3" y2="624.9" stroke="#000" stroke-width="1.6"/>
<line x1="357.0" y1="656.4" x2="359.2" y2="656.4" stroke="#000" stroke-width="1.6"/>
<line x1="594.5" y1="656.4" x2="592.3" y2="656.4" stroke="#000" stroke-width="1.6"/>
<rect x="86.2" y="2.5" width="237.2" height="110.2" fill="none" stroke="#000" stroke-width="2.3"/>
<rect x="357.0" y="2.5" width="237.5" height="110.2" fill="none" stroke="#000" stroke-width="2.3"/>
<rect x="86.2" y="112.7" width="237.2" height="110.2" fill="none" stroke="#000" stroke-width="2.3"/>
<rect x="357.0" y="112.7" width="237.5" height="110.2" fill="none" stroke="#000" stroke-width="2.3"/>
<rect x="86.2" y="222.9" width="237.2" height="110.2" fill="none" stroke="#000" stroke-width="2.3"/>
<rect x="357.0" y="222.9" width="237.5" height="110.2" fill="none" stroke="#000" stroke-width="2.3"/>
<rect x="86.2" y="333.1" width="237.2" height="110.2" fill="none" stroke="#000" stroke-width="2.3"/>
<rect x="357.0" y="333.1" width="237.5" height="110.2" fill="none" stroke="#000" stroke-width="2.3"/>
<rect x="86.2" y="443.3" width="237.2" height="110.2" fill="none" stroke="#000" stroke-width="2.3"/>
<rect x="357.0" y="443.3" width="237.5" height="110.2" fill="none" stroke="#000" stroke-width="2.3"/>
<rect x="86.2" y="553.5" width="237.2" height="110.2" fill="none" stroke="#000" stroke-width="2.3"/>
<rect x="357.0" y="553.5" width="237.5" height="110.2" fill="none" stroke="#000" stroke-width="2.3"/>
<text class="th" x="81.0" y="26.1" text-anchor="end" font-size="21">16.40</text>
<text class="th" x="81.0" y="63.9" text-anchor="end" font-size="21">16.35</text>
<text class="th" x="81.0" y="99.6" text-anchor="end" font-size="21">16.30</text>
<text class="th" x="597.8" y="32.2" font-size="21">10</text>
<text class="th" x="597.8" y="63.7" font-size="21">0</text>
<text class="th" x="597.8" y="95.2" font-size="21">-10</text>
<text class="th" x="81.0" y="140.4" text-anchor="end" font-size="21">16.60</text>
<text class="th" x="81.0" y="185.0" text-anchor="end" font-size="21">16.55</text>
<text class="th" x="597.8" y="142.4" font-size="21">10</text>
<text class="th" x="597.8" y="173.9" font-size="21">0</text>
<text class="th" x="597.8" y="205.4" font-size="21">-10</text>
<text class="th" x="81.0" y="245.4" text-anchor="end" font-size="21">17.35</text>
<text class="th" x="81.0" y="328.3" text-anchor="end" font-size="21">17.30</text>
<text class="th" x="597.8" y="252.6" font-size="21">10</text>
<text class="th" x="597.8" y="284.1" font-size="21">0</text>
<text class="th" x="597.8" y="315.6" font-size="21">-10</text>
<text class="th" x="81.0" y="350.6" text-anchor="end" font-size="21">17.85</text>
<text class="th" x="81.0" y="403.0" text-anchor="end" font-size="21">17.80</text>
<text class="th" x="597.8" y="362.8" font-size="21">10</text>
<text class="th" x="597.8" y="394.3" font-size="21">0</text>
<text class="th" x="597.8" y="425.8" font-size="21">-10</text>
<text class="th" x="81.0" y="468.1" text-anchor="end" font-size="21">18.30</text>
<text class="th" x="81.0" y="507.0" text-anchor="end" font-size="21">18.25</text>
<text class="th" x="81.0" y="546.4" text-anchor="end" font-size="21">18.20</text>
<text class="th" x="597.8" y="473.0" font-size="21">10</text>
<text class="th" x="597.8" y="504.5" font-size="21">0</text>
<text class="th" x="597.8" y="536.0" font-size="21">-10</text>
<text class="th" x="81.0" y="580.4" text-anchor="end" font-size="21">18.9</text>
<text class="th" x="81.0" y="619.8" text-anchor="end" font-size="21">18.8</text>
<text class="th" x="81.0" y="659.9" text-anchor="end" font-size="21">18.7</text>
<text class="th" x="597.8" y="583.2" font-size="21">10</text>
<text class="th" x="597.8" y="614.7" font-size="21">0</text>
<text class="th" x="597.8" y="646.2" font-size="21">-10</text>
<text class="th" x="86.2" y="683" text-anchor="middle" font-size="21">-90</text>
<text class="th" x="357.0" y="683" text-anchor="middle" font-size="21">-90</text>
<text class="th" x="125.7" y="683" text-anchor="middle" font-size="21">-60</text>
<text class="th" x="396.6" y="683" text-anchor="middle" font-size="21">-60</text>
<text class="th" x="165.3" y="683" text-anchor="middle" font-size="21">-30</text>
<text class="th" x="436.2" y="683" text-anchor="middle" font-size="21">-30</text>
<text class="th" x="204.8" y="683" text-anchor="middle" font-size="21">0</text>
<text class="th" x="476.2" y="683" text-anchor="middle" font-size="21">0</text>
<text class="th" x="244.3" y="683" text-anchor="middle" font-size="21">30</text>
<text class="th" x="515.3" y="683" text-anchor="middle" font-size="21">30</text>
<text class="th" x="283.9" y="683" text-anchor="middle" font-size="21">60</text>
<text class="th" x="554.9" y="683" text-anchor="middle" font-size="21">60</text>
<text class="th" x="323.4" y="683" text-anchor="middle" font-size="21">90</text>
<text class="th" x="594.5" y="683" text-anchor="middle" font-size="21">90</text>
<text class="th" x="165.5" y="707.3" font-size="23"><tspan font-style="italic">H</tspan> (kOe)</text>
<text class="th" x="437.3" y="707.0" font-size="23"><tspan font-style="italic">H</tspan> (kOe)</text>
<text transform="translate(27.5,345) rotate(-90)" font-size="34" font-style="italic">&#949;</text>
<path d="M2.6,323.3 Q2.4,321.6 4.2,321.9 L12.6,326.4 Q13.2,327.4 12.2,327.6 L3.8,326.2 Q2.8,325.6 2.6,323.3 Z" fill="#000"/>
<text transform="translate(639.6,278.5) rotate(90)" font-size="26"><tspan font-style="italic">M</tspan> (&#956;<tspan font-size="14" dy="9">B</tspan><tspan dy="-9">/f.u.)</tspan></text>
<text x="95.8" y="28.8" font-size="18.5" font-weight="bold">(a)<tspan font-size="16.2" dx="4.5">5 K</tspan></text>
<text x="366.8" y="28.5" font-size="18.5" font-weight="bold">(g)<tspan font-size="16.2" dx="4.5">5 K</tspan></text>
<text x="95.8" y="139.0" font-size="18.5" font-weight="bold">(b)<tspan font-size="16.2" dx="4.5">10 K</tspan></text>
<text x="366.8" y="138.7" font-size="18.5" font-weight="bold">(h)<tspan font-size="16.2" dx="4.5">10 K</tspan></text>
<text x="95.8" y="249.2" font-size="18.5" font-weight="bold">(c)<tspan font-size="16.2" dx="4.5">20 K</tspan></text>
<text x="366.8" y="248.9" font-size="18.5" font-weight="bold">(i)<tspan font-size="16.2" dx="4.5">20 K</tspan></text>
<text x="95.8" y="359.4" font-size="18.5" font-weight="bold">(d)<tspan font-size="16.2" dx="4.5">35 K</tspan></text>
<text x="366.8" y="359.1" font-size="18.5" font-weight="bold">(j)<tspan font-size="16.2" dx="4.5">35 K</tspan></text>
<text x="95.8" y="469.6" font-size="18.5" font-weight="bold">(e)<tspan font-size="16.2" dx="4.5">50 K</tspan></text>
<text x="366.8" y="469.3" font-size="18.5" font-weight="bold">(k)<tspan font-size="16.2" dx="4.5">50 K</tspan></text>
<text x="95.8" y="579.8" font-size="18.5" font-weight="bold">(f)<tspan font-size="16.2" dx="4.5">65 K</tspan></text>
<text x="366.8" y="579.5" font-size="18.5" font-weight="bold">(l)<tspan font-size="16.2" dx="4.5">65 K</tspan></text>
<text x="243" y="25.2" font-size="15.6" font-weight="bold" textLength="73" lengthAdjust="spacingAndGlyphs"><tspan font-style="italic">f</tspan>=100 kHz</text>
<text x="272.0" y="52" font-size="16" font-weight="bold" font-style="italic">E</text>
<g stroke="#000" stroke-width="1.3" fill="none"><line x1="288.0" y1="51.4" x2="297.1" y2="51.4"/><line x1="292.6" y1="52.0" x2="292.6" y2="42.0"/></g>
<text x="302.4" y="52" font-size="16" font-weight="bold" font-style="italic">c</text>
<text x="272.0" y="71.6" font-size="16" font-weight="bold" font-style="italic">H</text>
<line x1="288.9" y1="71.6" x2="292.6" y2="61.8" stroke="#000" stroke-width="1.6"/>
<line x1="293.0" y1="71.6" x2="296.7" y2="61.8" stroke="#000" stroke-width="1.6"/>
<text x="302.4" y="71.6" font-size="16" font-weight="bold" font-style="italic">c</text>
<text x="537.5" y="78.7" font-size="17.5" font-weight="bold" font-style="italic" fill="#1f5fb8">H</text>
<line x1="556.0" y1="78.7" x2="559.7" y2="68.8" stroke="#1f5fb8" stroke-width="1.6"/>
<line x1="560.1" y1="78.7" x2="563.8" y2="68.8" stroke="#1f5fb8" stroke-width="1.6"/>
<text x="568.5" y="78.7" font-size="17.5" font-weight="bold" font-style="italic" fill="#1f5fb8">c</text>
<text x="538.0" y="98.8" font-size="17.5" font-weight="bold" font-style="italic" fill="#86c2aa">H</text>
<g stroke="#86c2aa" stroke-width="1.3" fill="none"><line x1="556.4" y1="98.1" x2="565.6" y2="98.1"/><line x1="561.0" y1="98.8" x2="561.0" y2="88.8"/></g>
<text x="570.3" y="98.8" font-size="17.5" font-weight="bold" font-style="italic" fill="#86c2aa">c</text>
</svg></body></html>
